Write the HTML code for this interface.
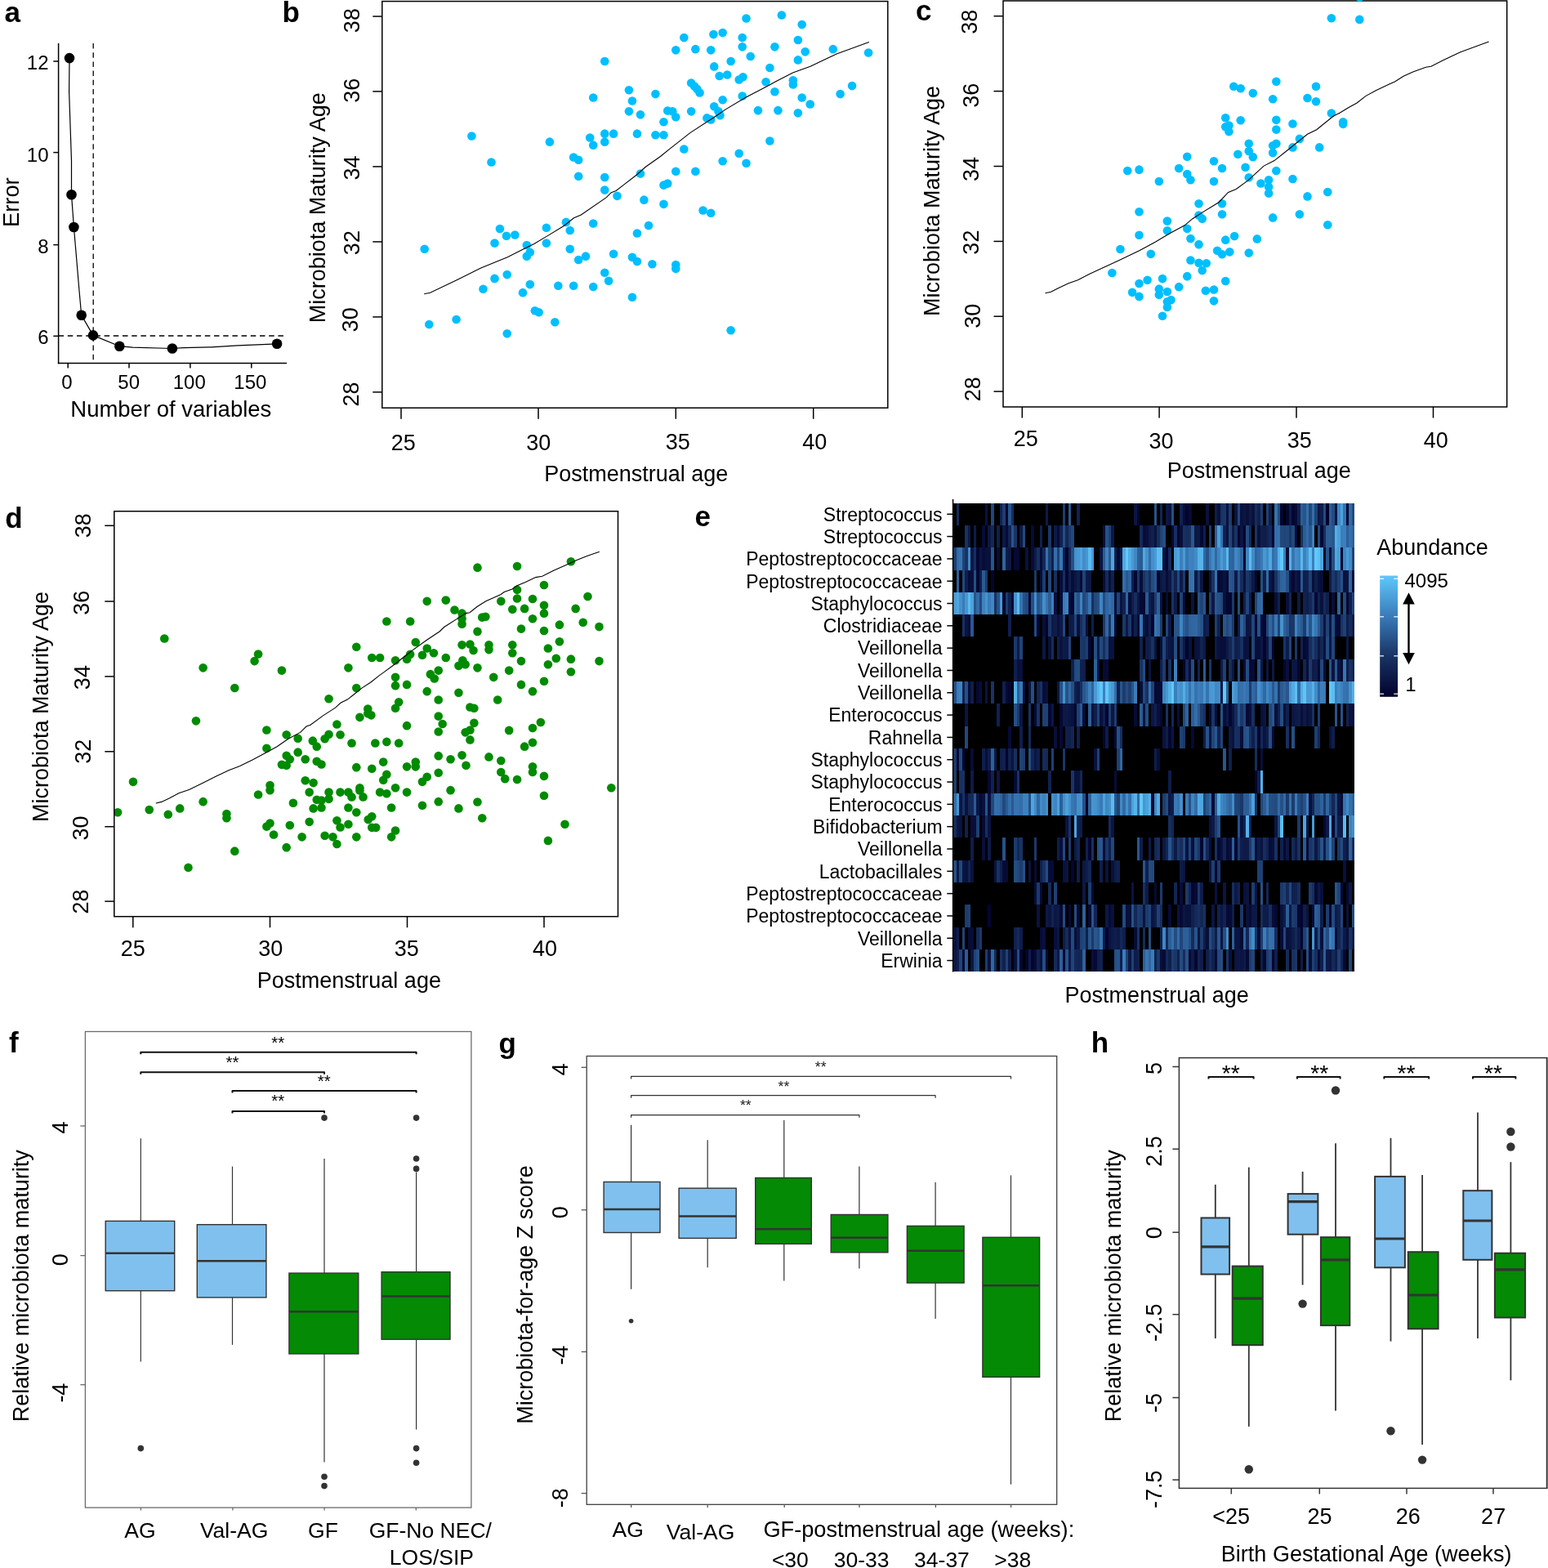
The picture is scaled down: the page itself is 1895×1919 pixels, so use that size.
<!DOCTYPE html>
<html><head><meta charset="utf-8"><title>Figure</title><style>html,body{margin:0;padding:0;background:#fff;}svg{display:block;}text{font-family:"Liberation Sans",Arial,sans-serif;}</style></head><body>
<svg xmlns="http://www.w3.org/2000/svg" width="1895" height="1919" viewBox="0 0 1895 1919">
<rect width="100%" height="100%" fill="#fff"/>
<text x="5.48" y="26.68" font-size="35" font-weight="bold">a</text>
<text x="345.39" y="27.46" font-size="35" font-weight="bold">b</text>
<text x="1120.92" y="24.93" font-size="35" font-weight="bold">c</text>
<text x="6.31" y="645.81" font-size="35" font-weight="bold">d</text>
<text x="850.41" y="644.18" font-size="35" font-weight="bold">e</text>
<text x="10.93" y="1287.64" font-size="35" font-weight="bold">f</text>
<text x="610.51" y="1288.69" font-size="35" font-weight="bold">g</text>
<text x="1335.85" y="1287.99" font-size="35" font-weight="bold">h</text>
<line x1="71.6" y1="53" x2="71.6" y2="445.2" stroke="#000" stroke-width="1.5"/>
<line x1="70.85" y1="444.5" x2="351" y2="444.5" stroke="#000" stroke-width="1.5"/>
<line x1="65.3" y1="75" x2="71.6" y2="75" stroke="#000" stroke-width="1.5"/>
<text x="59.5" y="84.72" font-size="24" text-anchor="end">12</text>
<line x1="65.3" y1="186.6" x2="71.6" y2="186.6" stroke="#000" stroke-width="1.5"/>
<text x="59.5" y="197.97" font-size="24" text-anchor="end">10</text>
<line x1="65.3" y1="299.6" x2="71.6" y2="299.6" stroke="#000" stroke-width="1.5"/>
<text x="59.5" y="309.72" font-size="24" text-anchor="end">8</text>
<line x1="65.3" y1="411.3" x2="71.6" y2="411.3" stroke="#000" stroke-width="1.5"/>
<text x="59.5" y="421.27" font-size="24" text-anchor="end">6</text>
<line x1="83.2" y1="444.5" x2="83.2" y2="450.5" stroke="#000" stroke-width="1.5"/>
<text x="75.21" y="475.65" font-size="24">0</text>
<line x1="158" y1="444.5" x2="158" y2="450.5" stroke="#000" stroke-width="1.5"/>
<text x="144.35" y="475.65" font-size="24">50</text>
<line x1="232.9" y1="444.5" x2="232.9" y2="450.5" stroke="#000" stroke-width="1.5"/>
<text x="211.74" y="475.65" font-size="24">100</text>
<line x1="307.8" y1="444.5" x2="307.8" y2="450.5" stroke="#000" stroke-width="1.5"/>
<text x="286.34" y="475.65" font-size="24">150</text>
<text x="86.27" y="509.8" font-size="27.5">Number of variables</text>
<text x="23" y="278.01" font-size="27.3" transform="rotate(-90 23 278.01)">Error</text>
<line x1="114.2" y1="53" x2="114.2" y2="444" stroke="#000" stroke-width="1.3" stroke-dasharray="6.5 4.7"/>
<line x1="71.6" y1="411" x2="351" y2="411" stroke="#000" stroke-width="1.3" stroke-dasharray="6.5 4.7"/>
<polyline points="85,71.1 84.6,112.2 87.5,196.8 87.5,238.3 90.4,278 97.3,359.2 99.7,385.7 114,410.4 146.3,423.7 162.4,425.2 210.9,426.5 224.2,425.6 258.4,424.8 290.7,422.9 339.1,420.8" fill="none" stroke="#000" stroke-width="1.2"/>
<circle cx="85" cy="71.1" r="6.3" fill="#000"/>
<circle cx="87.5" cy="238.3" r="6.3" fill="#000"/>
<circle cx="90.4" cy="278" r="6.3" fill="#000"/>
<circle cx="99.7" cy="385.7" r="6.3" fill="#000"/>
<circle cx="114" cy="410.4" r="6.3" fill="#000"/>
<circle cx="146.3" cy="423.7" r="6.3" fill="#000"/>
<circle cx="210.9" cy="426.5" r="6.3" fill="#000"/>
<circle cx="339.1" cy="420.8" r="6.3" fill="#000"/>
<line x1="491" y1="499.2" x2="491" y2="512.7" stroke="#000" stroke-width="1.5"/>
<line x1="659" y1="499.2" x2="659" y2="512.7" stroke="#000" stroke-width="1.5"/>
<line x1="827.3" y1="499.2" x2="827.3" y2="512.7" stroke="#000" stroke-width="1.5"/>
<line x1="995.7" y1="499.2" x2="995.7" y2="512.7" stroke="#000" stroke-width="1.5"/>
<line x1="456.3" y1="20.05" x2="467.8" y2="20.05" stroke="#000" stroke-width="1.5"/>
<line x1="456.3" y1="111.9" x2="467.8" y2="111.9" stroke="#000" stroke-width="1.5"/>
<line x1="456.3" y1="203.9" x2="467.8" y2="203.9" stroke="#000" stroke-width="1.5"/>
<line x1="456.3" y1="295.9" x2="467.8" y2="295.9" stroke="#000" stroke-width="1.5"/>
<line x1="456.3" y1="387.9" x2="467.8" y2="387.9" stroke="#000" stroke-width="1.5"/>
<line x1="456.3" y1="479.9" x2="467.8" y2="479.9" stroke="#000" stroke-width="1.5"/>
<text x="478.63" y="550.63" font-size="27">25</text>
<text x="644.31" y="550.63" font-size="27">30</text>
<text x="814.7" y="550.23" font-size="27">35</text>
<text x="982.17" y="550.23" font-size="27">40</text>
<text x="440.48" y="40.12" font-size="27" transform="rotate(-90 440.48 40.12)">38</text>
<text x="439.88" y="125.82" font-size="27" transform="rotate(-90 439.88 125.82)">36</text>
<text x="440.48" y="220.52" font-size="27" transform="rotate(-90 440.48 220.52)">34</text>
<text x="440.48" y="312.12" font-size="27" transform="rotate(-90 440.48 312.12)">32</text>
<text x="437.68" y="406.38" font-size="27" transform="rotate(-90 437.68 406.38)">30</text>
<text x="439.48" y="497.39" font-size="27" transform="rotate(-90 439.48 497.39)">28</text>
<text x="666.15" y="588.7" font-size="27">Postmenstrual age</text>
<text x="397.8" y="395.28" font-size="27" transform="rotate(-90 397.8 395.28)">Microbiota Maturity Age</text>
<clipPath id="cb"><rect x="467.8" y="1.6" width="619" height="497.6"/></clipPath>
<g clip-path="url(#cb)">
<circle cx="519.67" cy="304.8" r="5.3" fill="#00BFFF"/>
<circle cx="525.29" cy="397.05" r="5.3" fill="#00BFFF"/>
<circle cx="558.58" cy="391.03" r="5.3" fill="#00BFFF"/>
<circle cx="577.43" cy="166.44" r="5.3" fill="#00BFFF"/>
<circle cx="591.46" cy="353.73" r="5.3" fill="#00BFFF"/>
<circle cx="601.49" cy="198.52" r="5.3" fill="#00BFFF"/>
<circle cx="605.5" cy="297.59" r="5.3" fill="#00BFFF"/>
<circle cx="605.5" cy="340.9" r="5.3" fill="#00BFFF"/>
<circle cx="611.92" cy="279.94" r="5.3" fill="#00BFFF"/>
<circle cx="619.94" cy="288.76" r="5.3" fill="#00BFFF"/>
<circle cx="620.74" cy="336.09" r="5.3" fill="#00BFFF"/>
<circle cx="620.74" cy="408.28" r="5.3" fill="#00BFFF"/>
<circle cx="630.37" cy="287.56" r="5.3" fill="#00BFFF"/>
<circle cx="639.99" cy="358.15" r="5.3" fill="#00BFFF"/>
<circle cx="644.8" cy="299.99" r="5.3" fill="#00BFFF"/>
<circle cx="644.8" cy="313.63" r="5.3" fill="#00BFFF"/>
<circle cx="648.82" cy="308.82" r="5.3" fill="#00BFFF"/>
<circle cx="648.82" cy="348.12" r="5.3" fill="#00BFFF"/>
<circle cx="654.83" cy="380.2" r="5.3" fill="#00BFFF"/>
<circle cx="659.64" cy="382.21" r="5.3" fill="#00BFFF"/>
<circle cx="668.87" cy="278.74" r="5.3" fill="#00BFFF"/>
<circle cx="668.87" cy="297.59" r="5.3" fill="#00BFFF"/>
<circle cx="672.88" cy="173.66" r="5.3" fill="#00BFFF"/>
<circle cx="679.3" cy="394.24" r="5.3" fill="#00BFFF"/>
<circle cx="683.31" cy="349.72" r="5.3" fill="#00BFFF"/>
<circle cx="692.93" cy="271.92" r="5.3" fill="#00BFFF"/>
<circle cx="697.74" cy="281.94" r="5.3" fill="#00BFFF"/>
<circle cx="697.74" cy="304.8" r="5.3" fill="#00BFFF"/>
<circle cx="702.16" cy="192.51" r="5.3" fill="#00BFFF"/>
<circle cx="702.16" cy="349.72" r="5.3" fill="#00BFFF"/>
<circle cx="708.17" cy="195.72" r="5.3" fill="#00BFFF"/>
<circle cx="708.17" cy="215.77" r="5.3" fill="#00BFFF"/>
<circle cx="708.17" cy="318.04" r="5.3" fill="#00BFFF"/>
<circle cx="717" cy="313.63" r="5.3" fill="#00BFFF"/>
<circle cx="722.21" cy="168.44" r="5.3" fill="#00BFFF"/>
<circle cx="726.22" cy="119.52" r="5.3" fill="#00BFFF"/>
<circle cx="726.22" cy="177.67" r="5.3" fill="#00BFFF"/>
<circle cx="726.22" cy="273.52" r="5.3" fill="#00BFFF"/>
<circle cx="726.22" cy="350.93" r="5.3" fill="#00BFFF"/>
<circle cx="740.26" cy="75" r="5.3" fill="#00BFFF"/>
<circle cx="740.26" cy="163.63" r="5.3" fill="#00BFFF"/>
<circle cx="740.26" cy="173.66" r="5.3" fill="#00BFFF"/>
<circle cx="740.26" cy="216.97" r="5.3" fill="#00BFFF"/>
<circle cx="740.26" cy="232.61" r="5.3" fill="#00BFFF"/>
<circle cx="740.26" cy="333.68" r="5.3" fill="#00BFFF"/>
<circle cx="745.07" cy="343.71" r="5.3" fill="#00BFFF"/>
<circle cx="751.09" cy="163.63" r="5.3" fill="#00BFFF"/>
<circle cx="751.09" cy="310.82" r="5.3" fill="#00BFFF"/>
<circle cx="755.5" cy="239.83" r="5.3" fill="#00BFFF"/>
<circle cx="769.94" cy="110.29" r="5.3" fill="#00BFFF"/>
<circle cx="769.94" cy="136.36" r="5.3" fill="#00BFFF"/>
<circle cx="773.95" cy="123.53" r="5.3" fill="#00BFFF"/>
<circle cx="773.95" cy="314.83" r="5.3" fill="#00BFFF"/>
<circle cx="773.95" cy="363.76" r="5.3" fill="#00BFFF"/>
<circle cx="779.96" cy="163.63" r="5.3" fill="#00BFFF"/>
<circle cx="779.96" cy="285.55" r="5.3" fill="#00BFFF"/>
<circle cx="779.96" cy="320.04" r="5.3" fill="#00BFFF"/>
<circle cx="783.97" cy="140.37" r="5.3" fill="#00BFFF"/>
<circle cx="783.97" cy="212.56" r="5.3" fill="#00BFFF"/>
<circle cx="788.38" cy="244.65" r="5.3" fill="#00BFFF"/>
<circle cx="794" cy="275.93" r="5.3" fill="#00BFFF"/>
<circle cx="798.41" cy="323.25" r="5.3" fill="#00BFFF"/>
<circle cx="802.42" cy="115.1" r="5.3" fill="#00BFFF"/>
<circle cx="802.42" cy="165.24" r="5.3" fill="#00BFFF"/>
<circle cx="812.45" cy="149.19" r="5.3" fill="#00BFFF"/>
<circle cx="812.45" cy="165.24" r="5.3" fill="#00BFFF"/>
<circle cx="812.45" cy="226.6" r="5.3" fill="#00BFFF"/>
<circle cx="812.45" cy="249.86" r="5.3" fill="#00BFFF"/>
<circle cx="817.26" cy="135.56" r="5.3" fill="#00BFFF"/>
<circle cx="817.26" cy="224.59" r="5.3" fill="#00BFFF"/>
<circle cx="823.28" cy="136.36" r="5.3" fill="#00BFFF"/>
<circle cx="827.29" cy="61.36" r="5.3" fill="#00BFFF"/>
<circle cx="827.29" cy="143.18" r="5.3" fill="#00BFFF"/>
<circle cx="827.29" cy="209.75" r="5.3" fill="#00BFFF"/>
<circle cx="827.29" cy="324.06" r="5.3" fill="#00BFFF"/>
<circle cx="827.29" cy="328.87" r="5.3" fill="#00BFFF"/>
<circle cx="837.31" cy="46.12" r="5.3" fill="#00BFFF"/>
<circle cx="837.31" cy="182.48" r="5.3" fill="#00BFFF"/>
<circle cx="846.14" cy="101.47" r="5.3" fill="#00BFFF"/>
<circle cx="846.14" cy="136.36" r="5.3" fill="#00BFFF"/>
<circle cx="850.15" cy="105.48" r="5.3" fill="#00BFFF"/>
<circle cx="851.35" cy="60.16" r="5.3" fill="#00BFFF"/>
<circle cx="851.35" cy="209.75" r="5.3" fill="#00BFFF"/>
<circle cx="853.36" cy="109.09" r="5.3" fill="#00BFFF"/>
<circle cx="856.56" cy="113.5" r="5.3" fill="#00BFFF"/>
<circle cx="860.57" cy="257.48" r="5.3" fill="#00BFFF"/>
<circle cx="865.39" cy="144.38" r="5.3" fill="#00BFFF"/>
<circle cx="870.2" cy="61.36" r="5.3" fill="#00BFFF"/>
<circle cx="870.2" cy="146.39" r="5.3" fill="#00BFFF"/>
<circle cx="870.2" cy="260.69" r="5.3" fill="#00BFFF"/>
<circle cx="873.41" cy="42.11" r="5.3" fill="#00BFFF"/>
<circle cx="874.21" cy="81.41" r="5.3" fill="#00BFFF"/>
<circle cx="874.21" cy="130.34" r="5.3" fill="#00BFFF"/>
<circle cx="879.42" cy="136.36" r="5.3" fill="#00BFFF"/>
<circle cx="880.63" cy="93.05" r="5.3" fill="#00BFFF"/>
<circle cx="881.43" cy="141.17" r="5.3" fill="#00BFFF"/>
<circle cx="884.64" cy="40.11" r="5.3" fill="#00BFFF"/>
<circle cx="884.64" cy="122.32" r="5.3" fill="#00BFFF"/>
<circle cx="884.64" cy="197.32" r="5.3" fill="#00BFFF"/>
<circle cx="890.25" cy="91.44" r="5.3" fill="#00BFFF"/>
<circle cx="894.66" cy="75" r="5.3" fill="#00BFFF"/>
<circle cx="894.66" cy="404.27" r="5.3" fill="#00BFFF"/>
<circle cx="904.69" cy="187.7" r="5.3" fill="#00BFFF"/>
<circle cx="904.69" cy="97.46" r="5.3" fill="#00BFFF"/>
<circle cx="908.7" cy="46.12" r="5.3" fill="#00BFFF"/>
<circle cx="908.7" cy="57.35" r="5.3" fill="#00BFFF"/>
<circle cx="908.7" cy="117.51" r="5.3" fill="#00BFFF"/>
<circle cx="909.5" cy="94.25" r="5.3" fill="#00BFFF"/>
<circle cx="913.51" cy="22.46" r="5.3" fill="#00BFFF"/>
<circle cx="913.51" cy="199.73" r="5.3" fill="#00BFFF"/>
<circle cx="918.73" cy="68.98" r="5.3" fill="#00BFFF"/>
<circle cx="927.95" cy="135.16" r="5.3" fill="#00BFFF"/>
<circle cx="937.58" cy="100.26" r="5.3" fill="#00BFFF"/>
<circle cx="942.39" cy="83.02" r="5.3" fill="#00BFFF"/>
<circle cx="942.39" cy="172.46" r="5.3" fill="#00BFFF"/>
<circle cx="948.41" cy="57.35" r="5.3" fill="#00BFFF"/>
<circle cx="948.41" cy="112.3" r="5.3" fill="#00BFFF"/>
<circle cx="952.42" cy="135.16" r="5.3" fill="#00BFFF"/>
<circle cx="956.83" cy="18.45" r="5.3" fill="#00BFFF"/>
<circle cx="970.87" cy="98.26" r="5.3" fill="#00BFFF"/>
<circle cx="970.87" cy="103.47" r="5.3" fill="#00BFFF"/>
<circle cx="976.88" cy="48.93" r="5.3" fill="#00BFFF"/>
<circle cx="976.88" cy="73.39" r="5.3" fill="#00BFFF"/>
<circle cx="976.88" cy="138.37" r="5.3" fill="#00BFFF"/>
<circle cx="981.69" cy="30.08" r="5.3" fill="#00BFFF"/>
<circle cx="981.69" cy="119.52" r="5.3" fill="#00BFFF"/>
<circle cx="985.7" cy="63.37" r="5.3" fill="#00BFFF"/>
<circle cx="991.72" cy="127.54" r="5.3" fill="#00BFFF"/>
<circle cx="1019.79" cy="60.16" r="5.3" fill="#00BFFF"/>
<circle cx="1028.62" cy="115.1" r="5.3" fill="#00BFFF"/>
<circle cx="1043.06" cy="105.08" r="5.3" fill="#00BFFF"/>
<circle cx="1063.11" cy="64.57" r="5.3" fill="#00BFFF"/>
</g>
<polyline points="519.2,359.8 526.6,358.3 559.1,342.8 588.7,328 621.2,314.7 640.4,305.1 653.7,298.5 669.9,288.9 690.6,276.3 702.4,266.7 711.3,263 742.3,241.6 748.2,235.7 754.1,233.5 780,213.5 790,204.5 808.4,191.5 820.6,181.6 845.1,162.4 875.7,142.5 887.9,134.1 912.4,119.6 943,103.5 949.2,100.1 970.6,89 992,81.3 1024.1,66 1063.9,51.5" fill="none" stroke="#000" stroke-width="1.1"/>
<rect x="467.8" y="1.6" width="619" height="497.6" fill="none" stroke="#000" stroke-width="1.5"/>
<line x1="1251.3" y1="498" x2="1251.3" y2="511.5" stroke="#000" stroke-width="1.5"/>
<line x1="1419.1" y1="498" x2="1419.1" y2="511.5" stroke="#000" stroke-width="1.5"/>
<line x1="1587" y1="498" x2="1587" y2="511.5" stroke="#000" stroke-width="1.5"/>
<line x1="1754.5" y1="498" x2="1754.5" y2="511.5" stroke="#000" stroke-width="1.5"/>
<line x1="1216.5" y1="19.7" x2="1228" y2="19.7" stroke="#000" stroke-width="1.5"/>
<line x1="1216.5" y1="111.6" x2="1228" y2="111.6" stroke="#000" stroke-width="1.5"/>
<line x1="1216.5" y1="203.5" x2="1228" y2="203.5" stroke="#000" stroke-width="1.5"/>
<line x1="1216.5" y1="295.4" x2="1228" y2="295.4" stroke="#000" stroke-width="1.5"/>
<line x1="1216.5" y1="387.2" x2="1228" y2="387.2" stroke="#000" stroke-width="1.5"/>
<line x1="1216.5" y1="479.1" x2="1228" y2="479.1" stroke="#000" stroke-width="1.5"/>
<text x="1240.78" y="546.38" font-size="27">25</text>
<text x="1406.42" y="549.38" font-size="27">30</text>
<text x="1575.85" y="547.88" font-size="27">35</text>
<text x="1742.72" y="547.88" font-size="27">40</text>
<text x="1195.78" y="41.72" font-size="27" transform="rotate(-90 1195.78 41.72)">38</text>
<text x="1198.28" y="131.72" font-size="27" transform="rotate(-90 1198.28 131.72)">36</text>
<text x="1198.28" y="221.92" font-size="27" transform="rotate(-90 1198.28 221.92)">34</text>
<text x="1198.28" y="311.62" font-size="27" transform="rotate(-90 1198.28 311.62)">32</text>
<text x="1200.38" y="401.79" font-size="27" transform="rotate(-90 1200.38 401.79)">30</text>
<text x="1200.48" y="491.19" font-size="27" transform="rotate(-90 1200.48 491.19)">28</text>
<text x="1428.7" y="585.1" font-size="27">Postmenstrual age</text>
<text x="1150.3" y="386.98" font-size="27" transform="rotate(-90 1150.3 386.98)">Microbiota Maturity Age</text>
<clipPath id="cc"><rect x="1228" y="1" width="616.7" height="497"/></clipPath>
<g clip-path="url(#cc)">
<circle cx="1361.37" cy="333.95" r="5.3" fill="#00BFFF"/>
<circle cx="1371.44" cy="305" r="5.3" fill="#00BFFF"/>
<circle cx="1380.25" cy="208.93" r="5.3" fill="#00BFFF"/>
<circle cx="1386.12" cy="357.86" r="5.3" fill="#00BFFF"/>
<circle cx="1394.51" cy="207.67" r="5.3" fill="#00BFFF"/>
<circle cx="1394.51" cy="259.27" r="5.3" fill="#00BFFF"/>
<circle cx="1394.51" cy="287.8" r="5.3" fill="#00BFFF"/>
<circle cx="1394.51" cy="346.95" r="5.3" fill="#00BFFF"/>
<circle cx="1394.51" cy="362.9" r="5.3" fill="#00BFFF"/>
<circle cx="1404.58" cy="342.76" r="5.3" fill="#00BFFF"/>
<circle cx="1408.78" cy="310.87" r="5.3" fill="#00BFFF"/>
<circle cx="1418.85" cy="221.93" r="5.3" fill="#00BFFF"/>
<circle cx="1418.85" cy="353.67" r="5.3" fill="#00BFFF"/>
<circle cx="1418.85" cy="360.8" r="5.3" fill="#00BFFF"/>
<circle cx="1423.04" cy="341.08" r="5.3" fill="#00BFFF"/>
<circle cx="1423.04" cy="386.81" r="5.3" fill="#00BFFF"/>
<circle cx="1428.91" cy="270.6" r="5.3" fill="#00BFFF"/>
<circle cx="1428.91" cy="282.35" r="5.3" fill="#00BFFF"/>
<circle cx="1428.91" cy="357.02" r="5.3" fill="#00BFFF"/>
<circle cx="1428.91" cy="369.19" r="5.3" fill="#00BFFF"/>
<circle cx="1428.91" cy="375.9" r="5.3" fill="#00BFFF"/>
<circle cx="1433.53" cy="367.09" r="5.3" fill="#00BFFF"/>
<circle cx="1443.18" cy="205.99" r="5.3" fill="#00BFFF"/>
<circle cx="1443.18" cy="351.15" r="5.3" fill="#00BFFF"/>
<circle cx="1453.25" cy="191.73" r="5.3" fill="#00BFFF"/>
<circle cx="1453.25" cy="213.12" r="5.3" fill="#00BFFF"/>
<circle cx="1453.25" cy="279.83" r="5.3" fill="#00BFFF"/>
<circle cx="1453.25" cy="338.14" r="5.3" fill="#00BFFF"/>
<circle cx="1457.44" cy="220.26" r="5.3" fill="#00BFFF"/>
<circle cx="1457.44" cy="292" r="5.3" fill="#00BFFF"/>
<circle cx="1457.44" cy="318.43" r="5.3" fill="#00BFFF"/>
<circle cx="1467.51" cy="249.2" r="5.3" fill="#00BFFF"/>
<circle cx="1467.51" cy="263.47" r="5.3" fill="#00BFFF"/>
<circle cx="1467.51" cy="299.13" r="5.3" fill="#00BFFF"/>
<circle cx="1467.51" cy="321.78" r="5.3" fill="#00BFFF"/>
<circle cx="1471.71" cy="267.66" r="5.3" fill="#00BFFF"/>
<circle cx="1471.71" cy="331.01" r="5.3" fill="#00BFFF"/>
<circle cx="1475.9" cy="355.76" r="5.3" fill="#00BFFF"/>
<circle cx="1476.74" cy="322.2" r="5.3" fill="#00BFFF"/>
<circle cx="1485.97" cy="197.18" r="5.3" fill="#00BFFF"/>
<circle cx="1485.97" cy="221.93" r="5.3" fill="#00BFFF"/>
<circle cx="1485.97" cy="354.51" r="5.3" fill="#00BFFF"/>
<circle cx="1485.97" cy="368.35" r="5.3" fill="#00BFFF"/>
<circle cx="1490.17" cy="306.68" r="5.3" fill="#00BFFF"/>
<circle cx="1496.04" cy="205.99" r="5.3" fill="#00BFFF"/>
<circle cx="1496.04" cy="249.2" r="5.3" fill="#00BFFF"/>
<circle cx="1496.04" cy="262.21" r="5.3" fill="#00BFFF"/>
<circle cx="1496.04" cy="311.29" r="5.3" fill="#00BFFF"/>
<circle cx="1500.23" cy="144.32" r="5.3" fill="#00BFFF"/>
<circle cx="1500.23" cy="155.23" r="5.3" fill="#00BFFF"/>
<circle cx="1500.23" cy="293.67" r="5.3" fill="#00BFFF"/>
<circle cx="1500.23" cy="344.02" r="5.3" fill="#00BFFF"/>
<circle cx="1504.43" cy="153.55" r="5.3" fill="#00BFFF"/>
<circle cx="1504.43" cy="161.1" r="5.3" fill="#00BFFF"/>
<circle cx="1505.27" cy="308.36" r="5.3" fill="#00BFFF"/>
<circle cx="1510.3" cy="105.72" r="5.3" fill="#00BFFF"/>
<circle cx="1511.14" cy="289.06" r="5.3" fill="#00BFFF"/>
<circle cx="1515.34" cy="188.79" r="5.3" fill="#00BFFF"/>
<circle cx="1518.69" cy="108.24" r="5.3" fill="#00BFFF"/>
<circle cx="1518.69" cy="147.26" r="5.3" fill="#00BFFF"/>
<circle cx="1524.57" cy="204.73" r="5.3" fill="#00BFFF"/>
<circle cx="1528.76" cy="175.78" r="5.3" fill="#00BFFF"/>
<circle cx="1528.76" cy="185.01" r="5.3" fill="#00BFFF"/>
<circle cx="1528.76" cy="217.32" r="5.3" fill="#00BFFF"/>
<circle cx="1528.76" cy="309.62" r="5.3" fill="#00BFFF"/>
<circle cx="1533.8" cy="114.11" r="5.3" fill="#00BFFF"/>
<circle cx="1533.8" cy="192.15" r="5.3" fill="#00BFFF"/>
<circle cx="1538.83" cy="292.41" r="5.3" fill="#00BFFF"/>
<circle cx="1543.45" cy="224.45" r="5.3" fill="#00BFFF"/>
<circle cx="1553.1" cy="220.26" r="5.3" fill="#00BFFF"/>
<circle cx="1553.1" cy="228.65" r="5.3" fill="#00BFFF"/>
<circle cx="1553.1" cy="236.62" r="5.3" fill="#00BFFF"/>
<circle cx="1558.13" cy="121.25" r="5.3" fill="#00BFFF"/>
<circle cx="1558.13" cy="178.3" r="5.3" fill="#00BFFF"/>
<circle cx="1558.13" cy="187.11" r="5.3" fill="#00BFFF"/>
<circle cx="1558.13" cy="266.4" r="5.3" fill="#00BFFF"/>
<circle cx="1562.33" cy="99.85" r="5.3" fill="#00BFFF"/>
<circle cx="1562.33" cy="146.84" r="5.3" fill="#00BFFF"/>
<circle cx="1562.33" cy="158.58" r="5.3" fill="#00BFFF"/>
<circle cx="1562.33" cy="175.78" r="5.3" fill="#00BFFF"/>
<circle cx="1562.33" cy="208.93" r="5.3" fill="#00BFFF"/>
<circle cx="1582.46" cy="151.45" r="5.3" fill="#00BFFF"/>
<circle cx="1582.46" cy="180.4" r="5.3" fill="#00BFFF"/>
<circle cx="1582.46" cy="219" r="5.3" fill="#00BFFF"/>
<circle cx="1590.85" cy="169.91" r="5.3" fill="#00BFFF"/>
<circle cx="1590.85" cy="262.21" r="5.3" fill="#00BFFF"/>
<circle cx="1600.5" cy="119.99" r="5.3" fill="#00BFFF"/>
<circle cx="1600.5" cy="240.39" r="5.3" fill="#00BFFF"/>
<circle cx="1610.99" cy="105.72" r="5.3" fill="#00BFFF"/>
<circle cx="1610.99" cy="124.18" r="5.3" fill="#00BFFF"/>
<circle cx="1615.19" cy="180.4" r="5.3" fill="#00BFFF"/>
<circle cx="1625.26" cy="234.94" r="5.3" fill="#00BFFF"/>
<circle cx="1625.26" cy="275.21" r="5.3" fill="#00BFFF"/>
<circle cx="1629.87" cy="22.24" r="5.3" fill="#00BFFF"/>
<circle cx="1629.87" cy="138.45" r="5.3" fill="#00BFFF"/>
<circle cx="1644.13" cy="149.35" r="5.3" fill="#00BFFF"/>
<circle cx="1644.13" cy="151.87" r="5.3" fill="#00BFFF"/>
<circle cx="1664.27" cy="23.91" r="5.3" fill="#00BFFF"/>
</g>
<polyline points="1279.5,358.8 1286.5,357.3 1295.3,352.8 1308,346.8 1319.4,342.7 1333.3,335.4 1351.7,326.9 1370.7,318.3 1390,309.1 1395.2,306.5 1414.6,296 1430.8,286.3 1450.2,275.8 1459.9,267.7 1471.2,260.4 1492.2,247.5 1503.5,235.4 1513.2,231.4 1527.7,220.9 1547.1,203.1 1560,196.6 1576.2,183.7 1584.2,177.2 1600.4,164.3 1611.7,158.7 1632.7,141.7 1640,138.3 1650.6,131.8 1661.1,126 1671.7,117.6 1684.3,110.7 1701.2,102.8 1707.5,99.9 1718.1,93.3 1729.7,88 1745.5,82.2 1751.9,81.2 1766.6,73.8 1787.8,63.8 1808.9,55.9 1822.6,51.1" fill="none" stroke="#000" stroke-width="1.1"/>
<rect x="1228" y="1" width="616.7" height="497" fill="none" stroke="#000" stroke-width="1.5"/>
<circle cx="1664.4" cy="-3.6" r="5.3" fill="#00BFFF"/>
<line x1="162.8" y1="1121.7" x2="162.8" y2="1135.2" stroke="#000" stroke-width="1.5"/>
<line x1="330.5" y1="1121.7" x2="330.5" y2="1135.2" stroke="#000" stroke-width="1.5"/>
<line x1="498.5" y1="1121.7" x2="498.5" y2="1135.2" stroke="#000" stroke-width="1.5"/>
<line x1="666" y1="1121.7" x2="666" y2="1135.2" stroke="#000" stroke-width="1.5"/>
<line x1="128.3" y1="643.3" x2="139.8" y2="643.3" stroke="#000" stroke-width="1.5"/>
<line x1="128.3" y1="736" x2="139.8" y2="736" stroke="#000" stroke-width="1.5"/>
<line x1="128.3" y1="827.9" x2="139.8" y2="827.9" stroke="#000" stroke-width="1.5"/>
<line x1="128.3" y1="919.8" x2="139.8" y2="919.8" stroke="#000" stroke-width="1.5"/>
<line x1="128.3" y1="1011.7" x2="139.8" y2="1011.7" stroke="#000" stroke-width="1.5"/>
<line x1="128.3" y1="1103.1" x2="139.8" y2="1103.1" stroke="#000" stroke-width="1.5"/>
<text x="147.73" y="1170.48" font-size="27">25</text>
<text x="316.31" y="1169.88" font-size="27">30</text>
<text x="482.65" y="1169.88" font-size="27">35</text>
<text x="652.02" y="1169.88" font-size="27">40</text>
<text x="111.13" y="658.32" font-size="27" transform="rotate(-90 111.13 658.32)">38</text>
<text x="108.58" y="752.82" font-size="27" transform="rotate(-90 108.58 752.82)">36</text>
<text x="109.73" y="844.12" font-size="27" transform="rotate(-90 109.73 844.12)">34</text>
<text x="111.13" y="934.72" font-size="27" transform="rotate(-90 111.13 934.72)">32</text>
<text x="108.03" y="1028.59" font-size="27" transform="rotate(-90 108.03 1028.59)">30</text>
<text x="108.03" y="1118.49" font-size="27" transform="rotate(-90 108.03 1118.49)">28</text>
<text x="314.8" y="1209" font-size="27">Postmenstrual age</text>
<text x="59.2" y="1006.08" font-size="27" transform="rotate(-90 59.2 1006.08)">Microbiota Maturity Age</text>
<clipPath id="cd"><rect x="139.8" y="625.7" width="616.7" height="496"/></clipPath>
<g clip-path="url(#cd)">
<circle cx="144.06" cy="994.32" r="5.3" fill="#008B00"/>
<circle cx="163" cy="956.86" r="5.3" fill="#008B00"/>
<circle cx="182.75" cy="991.03" r="5.3" fill="#008B00"/>
<circle cx="201.28" cy="781.52" r="5.3" fill="#008B00"/>
<circle cx="205.8" cy="996.79" r="5.3" fill="#008B00"/>
<circle cx="220.21" cy="989.38" r="5.3" fill="#008B00"/>
<circle cx="230.5" cy="1061.82" r="5.3" fill="#008B00"/>
<circle cx="239.97" cy="882.36" r="5.3" fill="#008B00"/>
<circle cx="248.61" cy="817.33" r="5.3" fill="#008B00"/>
<circle cx="248.61" cy="981.15" r="5.3" fill="#008B00"/>
<circle cx="277.42" cy="995.97" r="5.3" fill="#008B00"/>
<circle cx="277.42" cy="1001.32" r="5.3" fill="#008B00"/>
<circle cx="287.3" cy="842.03" r="5.3" fill="#008B00"/>
<circle cx="287.3" cy="1041.65" r="5.3" fill="#008B00"/>
<circle cx="311.59" cy="809.1" r="5.3" fill="#008B00"/>
<circle cx="316.11" cy="800.45" r="5.3" fill="#008B00"/>
<circle cx="316.11" cy="972.5" r="5.3" fill="#008B00"/>
<circle cx="326.4" cy="893.48" r="5.3" fill="#008B00"/>
<circle cx="326.4" cy="915.7" r="5.3" fill="#008B00"/>
<circle cx="326.4" cy="1011.61" r="5.3" fill="#008B00"/>
<circle cx="330.52" cy="960.98" r="5.3" fill="#008B00"/>
<circle cx="330.52" cy="967.15" r="5.3" fill="#008B00"/>
<circle cx="330.52" cy="1007.49" r="5.3" fill="#008B00"/>
<circle cx="335.05" cy="1021.49" r="5.3" fill="#008B00"/>
<circle cx="344.93" cy="820.62" r="5.3" fill="#008B00"/>
<circle cx="344.93" cy="935.87" r="5.3" fill="#008B00"/>
<circle cx="350.69" cy="899.24" r="5.3" fill="#008B00"/>
<circle cx="350.69" cy="924.76" r="5.3" fill="#008B00"/>
<circle cx="350.69" cy="936.69" r="5.3" fill="#008B00"/>
<circle cx="350.69" cy="1037.13" r="5.3" fill="#008B00"/>
<circle cx="354.81" cy="929.29" r="5.3" fill="#008B00"/>
<circle cx="354.81" cy="1009.96" r="5.3" fill="#008B00"/>
<circle cx="358.92" cy="982.79" r="5.3" fill="#008B00"/>
<circle cx="364.68" cy="903.77" r="5.3" fill="#008B00"/>
<circle cx="364.68" cy="920.64" r="5.3" fill="#008B00"/>
<circle cx="369.62" cy="1024.37" r="5.3" fill="#008B00"/>
<circle cx="373.74" cy="929.29" r="5.3" fill="#008B00"/>
<circle cx="373.74" cy="955.22" r="5.3" fill="#008B00"/>
<circle cx="378.68" cy="969.62" r="5.3" fill="#008B00"/>
<circle cx="378.68" cy="1005.84" r="5.3" fill="#008B00"/>
<circle cx="382.79" cy="906.65" r="5.3" fill="#008B00"/>
<circle cx="383.62" cy="958.1" r="5.3" fill="#008B00"/>
<circle cx="383.62" cy="989.38" r="5.3" fill="#008B00"/>
<circle cx="387.73" cy="913.64" r="5.3" fill="#008B00"/>
<circle cx="387.73" cy="978.68" r="5.3" fill="#008B00"/>
<circle cx="387.73" cy="931.76" r="5.3" fill="#008B00"/>
<circle cx="393.5" cy="935.46" r="5.3" fill="#008B00"/>
<circle cx="393.5" cy="979.5" r="5.3" fill="#008B00"/>
<circle cx="393.5" cy="988.56" r="5.3" fill="#008B00"/>
<circle cx="397.61" cy="904.18" r="5.3" fill="#008B00"/>
<circle cx="397.61" cy="1022.72" r="5.3" fill="#008B00"/>
<circle cx="402.55" cy="855.2" r="5.3" fill="#008B00"/>
<circle cx="402.55" cy="898.83" r="5.3" fill="#008B00"/>
<circle cx="402.55" cy="969.62" r="5.3" fill="#008B00"/>
<circle cx="402.55" cy="977.86" r="5.3" fill="#008B00"/>
<circle cx="407.49" cy="1024.37" r="5.3" fill="#008B00"/>
<circle cx="412.43" cy="886.48" r="5.3" fill="#008B00"/>
<circle cx="412.43" cy="1004.2" r="5.3" fill="#008B00"/>
<circle cx="412.43" cy="1033.01" r="5.3" fill="#008B00"/>
<circle cx="416.55" cy="899.24" r="5.3" fill="#008B00"/>
<circle cx="416.55" cy="969.62" r="5.3" fill="#008B00"/>
<circle cx="416.55" cy="1012.43" r="5.3" fill="#008B00"/>
<circle cx="426.43" cy="817.33" r="5.3" fill="#008B00"/>
<circle cx="426.43" cy="969.62" r="5.3" fill="#008B00"/>
<circle cx="426.43" cy="988.56" r="5.3" fill="#008B00"/>
<circle cx="426.43" cy="1008.73" r="5.3" fill="#008B00"/>
<circle cx="430.54" cy="909.53" r="5.3" fill="#008B00"/>
<circle cx="430.54" cy="975.39" r="5.3" fill="#008B00"/>
<circle cx="436.3" cy="791.81" r="5.3" fill="#008B00"/>
<circle cx="436.3" cy="842.03" r="5.3" fill="#008B00"/>
<circle cx="436.3" cy="939.16" r="5.3" fill="#008B00"/>
<circle cx="436.3" cy="994.32" r="5.3" fill="#008B00"/>
<circle cx="436.3" cy="1024.37" r="5.3" fill="#008B00"/>
<circle cx="440.42" cy="877.83" r="5.3" fill="#008B00"/>
<circle cx="440.42" cy="964.27" r="5.3" fill="#008B00"/>
<circle cx="440.42" cy="967.57" r="5.3" fill="#008B00"/>
<circle cx="444.54" cy="975.39" r="5.3" fill="#008B00"/>
<circle cx="450.3" cy="867.54" r="5.3" fill="#008B00"/>
<circle cx="450.3" cy="873.31" r="5.3" fill="#008B00"/>
<circle cx="454.41" cy="875.37" r="5.3" fill="#008B00"/>
<circle cx="455.24" cy="1012.84" r="5.3" fill="#008B00"/>
<circle cx="450.71" cy="1002.96" r="5.3" fill="#008B00"/>
<circle cx="455.24" cy="804.98" r="5.3" fill="#008B00"/>
<circle cx="455.24" cy="940.81" r="5.3" fill="#008B00"/>
<circle cx="455.24" cy="999.26" r="5.3" fill="#008B00"/>
<circle cx="459.35" cy="909.53" r="5.3" fill="#008B00"/>
<circle cx="460.18" cy="1012.84" r="5.3" fill="#008B00"/>
<circle cx="465.12" cy="804.98" r="5.3" fill="#008B00"/>
<circle cx="465.12" cy="969.62" r="5.3" fill="#008B00"/>
<circle cx="469.23" cy="932.58" r="5.3" fill="#008B00"/>
<circle cx="469.23" cy="954.81" r="5.3" fill="#008B00"/>
<circle cx="473.35" cy="760.53" r="5.3" fill="#008B00"/>
<circle cx="473.35" cy="907.88" r="5.3" fill="#008B00"/>
<circle cx="473.35" cy="947.81" r="5.3" fill="#008B00"/>
<circle cx="473.35" cy="971.27" r="5.3" fill="#008B00"/>
<circle cx="479.11" cy="988.56" r="5.3" fill="#008B00"/>
<circle cx="479.11" cy="1024.37" r="5.3" fill="#008B00"/>
<circle cx="484.05" cy="808.27" r="5.3" fill="#008B00"/>
<circle cx="484.05" cy="828.85" r="5.3" fill="#008B00"/>
<circle cx="484.05" cy="839.14" r="5.3" fill="#008B00"/>
<circle cx="484.05" cy="866.72" r="5.3" fill="#008B00"/>
<circle cx="484.05" cy="964.27" r="5.3" fill="#008B00"/>
<circle cx="484.05" cy="1016.55" r="5.3" fill="#008B00"/>
<circle cx="488.17" cy="859.31" r="5.3" fill="#008B00"/>
<circle cx="488.17" cy="909.53" r="5.3" fill="#008B00"/>
<circle cx="498.04" cy="806.63" r="5.3" fill="#008B00"/>
<circle cx="498.04" cy="837.91" r="5.3" fill="#008B00"/>
<circle cx="498.04" cy="888.13" r="5.3" fill="#008B00"/>
<circle cx="498.04" cy="938.34" r="5.3" fill="#008B00"/>
<circle cx="498.04" cy="969.62" r="5.3" fill="#008B00"/>
<circle cx="502.16" cy="760.53" r="5.3" fill="#008B00"/>
<circle cx="502.16" cy="800.86" r="5.3" fill="#008B00"/>
<circle cx="508.75" cy="786.05" r="5.3" fill="#008B00"/>
<circle cx="508.75" cy="932.58" r="5.3" fill="#008B00"/>
<circle cx="508.75" cy="938.34" r="5.3" fill="#008B00"/>
<circle cx="516.98" cy="801.69" r="5.3" fill="#008B00"/>
<circle cx="516.98" cy="956.86" r="5.3" fill="#008B00"/>
<circle cx="516.98" cy="985.68" r="5.3" fill="#008B00"/>
<circle cx="522.74" cy="735.83" r="5.3" fill="#008B00"/>
<circle cx="522.74" cy="793.46" r="5.3" fill="#008B00"/>
<circle cx="522.74" cy="846.14" r="5.3" fill="#008B00"/>
<circle cx="522.74" cy="950.69" r="5.3" fill="#008B00"/>
<circle cx="526.86" cy="825.15" r="5.3" fill="#008B00"/>
<circle cx="530.97" cy="799.22" r="5.3" fill="#008B00"/>
<circle cx="531.8" cy="830.5" r="5.3" fill="#008B00"/>
<circle cx="536.74" cy="820.62" r="5.3" fill="#008B00"/>
<circle cx="536.74" cy="856.43" r="5.3" fill="#008B00"/>
<circle cx="536.74" cy="876.6" r="5.3" fill="#008B00"/>
<circle cx="536.74" cy="895.53" r="5.3" fill="#008B00"/>
<circle cx="536.74" cy="925.17" r="5.3" fill="#008B00"/>
<circle cx="536.74" cy="945.75" r="5.3" fill="#008B00"/>
<circle cx="536.74" cy="981.15" r="5.3" fill="#008B00"/>
<circle cx="541.68" cy="886.07" r="5.3" fill="#008B00"/>
<circle cx="545.79" cy="734.6" r="5.3" fill="#008B00"/>
<circle cx="545.79" cy="804.98" r="5.3" fill="#008B00"/>
<circle cx="551.55" cy="929.29" r="5.3" fill="#008B00"/>
<circle cx="551.55" cy="967.15" r="5.3" fill="#008B00"/>
<circle cx="556.49" cy="746.53" r="5.3" fill="#008B00"/>
<circle cx="561.43" cy="814.86" r="5.3" fill="#008B00"/>
<circle cx="561.43" cy="847.79" r="5.3" fill="#008B00"/>
<circle cx="561.43" cy="989.38" r="5.3" fill="#008B00"/>
<circle cx="565.55" cy="750.65" r="5.3" fill="#008B00"/>
<circle cx="565.55" cy="757.23" r="5.3" fill="#008B00"/>
<circle cx="565.55" cy="763.82" r="5.3" fill="#008B00"/>
<circle cx="565.55" cy="789.34" r="5.3" fill="#008B00"/>
<circle cx="565.55" cy="924.35" r="5.3" fill="#008B00"/>
<circle cx="566.37" cy="808.27" r="5.3" fill="#008B00"/>
<circle cx="569.66" cy="813.21" r="5.3" fill="#008B00"/>
<circle cx="569.66" cy="896.36" r="5.3" fill="#008B00"/>
<circle cx="570.49" cy="936.69" r="5.3" fill="#008B00"/>
<circle cx="575.43" cy="865.49" r="5.3" fill="#008B00"/>
<circle cx="575.43" cy="893.48" r="5.3" fill="#008B00"/>
<circle cx="575.43" cy="905.41" r="5.3" fill="#008B00"/>
<circle cx="575.43" cy="788.52" r="5.3" fill="#008B00"/>
<circle cx="579.54" cy="795.93" r="5.3" fill="#008B00"/>
<circle cx="580.37" cy="866.72" r="5.3" fill="#008B00"/>
<circle cx="580.37" cy="884.83" r="5.3" fill="#008B00"/>
<circle cx="584.48" cy="694.67" r="5.3" fill="#008B00"/>
<circle cx="584.48" cy="772.88" r="5.3" fill="#008B00"/>
<circle cx="584.48" cy="817.33" r="5.3" fill="#008B00"/>
<circle cx="584.48" cy="981.56" r="5.3" fill="#008B00"/>
<circle cx="590.24" cy="755.59" r="5.3" fill="#008B00"/>
<circle cx="590.24" cy="1001.32" r="5.3" fill="#008B00"/>
<circle cx="594.36" cy="754.76" r="5.3" fill="#008B00"/>
<circle cx="598.48" cy="789.34" r="5.3" fill="#008B00"/>
<circle cx="598.48" cy="795.1" r="5.3" fill="#008B00"/>
<circle cx="598.48" cy="926.4" r="5.3" fill="#008B00"/>
<circle cx="604.24" cy="828.85" r="5.3" fill="#008B00"/>
<circle cx="609.18" cy="856.43" r="5.3" fill="#008B00"/>
<circle cx="613.29" cy="735.83" r="5.3" fill="#008B00"/>
<circle cx="613.29" cy="930.93" r="5.3" fill="#008B00"/>
<circle cx="613.29" cy="944.93" r="5.3" fill="#008B00"/>
<circle cx="618.23" cy="953.16" r="5.3" fill="#008B00"/>
<circle cx="623.17" cy="820.62" r="5.3" fill="#008B00"/>
<circle cx="623.17" cy="893.89" r="5.3" fill="#008B00"/>
<circle cx="627.29" cy="745.71" r="5.3" fill="#008B00"/>
<circle cx="627.29" cy="789.34" r="5.3" fill="#008B00"/>
<circle cx="627.29" cy="799.22" r="5.3" fill="#008B00"/>
<circle cx="633.05" cy="693.02" r="5.3" fill="#008B00"/>
<circle cx="633.05" cy="721.84" r="5.3" fill="#008B00"/>
<circle cx="633.05" cy="732.54" r="5.3" fill="#008B00"/>
<circle cx="633.05" cy="953.98" r="5.3" fill="#008B00"/>
<circle cx="637.99" cy="769.58" r="5.3" fill="#008B00"/>
<circle cx="637.99" cy="809.1" r="5.3" fill="#008B00"/>
<circle cx="637.99" cy="837.91" r="5.3" fill="#008B00"/>
<circle cx="642.11" cy="744.89" r="5.3" fill="#008B00"/>
<circle cx="642.11" cy="913.64" r="5.3" fill="#008B00"/>
<circle cx="651.99" cy="732.95" r="5.3" fill="#008B00"/>
<circle cx="651.99" cy="757.23" r="5.3" fill="#008B00"/>
<circle cx="651.99" cy="846.14" r="5.3" fill="#008B00"/>
<circle cx="651.99" cy="891.01" r="5.3" fill="#008B00"/>
<circle cx="651.99" cy="908.71" r="5.3" fill="#008B00"/>
<circle cx="651.99" cy="938.34" r="5.3" fill="#008B00"/>
<circle cx="651.99" cy="944.93" r="5.3" fill="#008B00"/>
<circle cx="661.86" cy="884.01" r="5.3" fill="#008B00"/>
<circle cx="665.98" cy="716.07" r="5.3" fill="#008B00"/>
<circle cx="665.98" cy="740.77" r="5.3" fill="#008B00"/>
<circle cx="665.98" cy="750.65" r="5.3" fill="#008B00"/>
<circle cx="665.98" cy="772.05" r="5.3" fill="#008B00"/>
<circle cx="665.98" cy="833.79" r="5.3" fill="#008B00"/>
<circle cx="665.98" cy="949.87" r="5.3" fill="#008B00"/>
<circle cx="665.98" cy="973.74" r="5.3" fill="#008B00"/>
<circle cx="670.92" cy="793.46" r="5.3" fill="#008B00"/>
<circle cx="670.92" cy="813.21" r="5.3" fill="#008B00"/>
<circle cx="670.92" cy="1028.89" r="5.3" fill="#008B00"/>
<circle cx="680.8" cy="805.8" r="5.3" fill="#008B00"/>
<circle cx="684.91" cy="764.64" r="5.3" fill="#008B00"/>
<circle cx="684.91" cy="785.22" r="5.3" fill="#008B00"/>
<circle cx="691.5" cy="1008.73" r="5.3" fill="#008B00"/>
<circle cx="698.91" cy="687.26" r="5.3" fill="#008B00"/>
<circle cx="698.91" cy="806.63" r="5.3" fill="#008B00"/>
<circle cx="698.91" cy="822.27" r="5.3" fill="#008B00"/>
<circle cx="704.67" cy="744.89" r="5.3" fill="#008B00"/>
<circle cx="713.73" cy="761.76" r="5.3" fill="#008B00"/>
<circle cx="719.49" cy="730.07" r="5.3" fill="#008B00"/>
<circle cx="733.48" cy="767.11" r="5.3" fill="#008B00"/>
<circle cx="733.48" cy="809.1" r="5.3" fill="#008B00"/>
<circle cx="748.3" cy="964.27" r="5.3" fill="#008B00"/>
</g>
<polyline points="190.8,983 197.7,981.4 208.2,976.6 218.8,970.8 231.4,966.6 248.3,958.2 263.1,950.8 280,942.8 293.7,937.6 309.5,929.7 325.4,921.2 339.1,913.8 352.8,904.3 367.6,896.4 375,889 380,887.3 395.8,875.6 410.6,866.1 416.9,860.3 425.4,856.1 432.8,850.3 443.3,841.9 453.9,835 464.4,826.6 469.7,822.9 483.4,812.8 491.9,806 505.6,795.4 522.5,783.3 538.3,772.7 543.6,767.5 559.4,757.4 570,750.6 575,749.7 584,742.5 594.7,735.8 612.7,727.7 617.2,724.6 627,721 632.4,717 643.2,712.5 655.7,706.6 663.8,705.3 678.2,698.1 695.2,690.5 706,685.6 718.5,680.6 733.8,675.3" fill="none" stroke="#000" stroke-width="1.1"/>
<rect x="139.8" y="625.7" width="616.7" height="496" fill="none" stroke="#000" stroke-width="1.5"/>
<g shape-rendering="crispEdges">
<rect x="1167.4" y="615.6" width="491" height="573.6" fill="#000"/>
<rect x="1170.91" y="615.6" width="3.51" height="27.31" fill="#152b5a"/>
<rect x="1205.98" y="615.6" width="3.51" height="27.31" fill="#09123e"/>
<rect x="1212.99" y="615.6" width="3.51" height="27.31" fill="#22477b"/>
<rect x="1223.51" y="615.6" width="3.51" height="27.31" fill="#102250"/>
<rect x="1227.02" y="615.6" width="3.51" height="27.31" fill="#1e3e70"/>
<rect x="1230.53" y="615.6" width="3.51" height="27.31" fill="#040630"/>
<rect x="1234.04" y="615.6" width="3.51" height="27.31" fill="#28548b"/>
<rect x="1237.54" y="615.6" width="3.51" height="27.31" fill="#162e5d"/>
<rect x="1279.63" y="615.6" width="3.51" height="27.31" fill="#0d1a47"/>
<rect x="1300.67" y="615.6" width="3.51" height="27.31" fill="#1c3c6d"/>
<rect x="1307.69" y="615.6" width="3.51" height="27.31" fill="#2a5a91"/>
<rect x="1318.21" y="615.6" width="3.51" height="27.31" fill="#102250"/>
<rect x="1388.35" y="615.6" width="3.51" height="27.31" fill="#0b1541"/>
<rect x="1391.86" y="615.6" width="3.51" height="27.31" fill="#040631"/>
<rect x="1412.9" y="615.6" width="3.51" height="27.31" fill="#28548a"/>
<rect x="1419.91" y="615.6" width="3.51" height="27.31" fill="#122654"/>
<rect x="1426.93" y="615.6" width="3.51" height="27.31" fill="#0c1744"/>
<rect x="1430.44" y="615.6" width="3.51" height="27.31" fill="#0a1440"/>
<rect x="1433.94" y="615.6" width="3.51" height="27.31" fill="#254e84"/>
<rect x="1444.46" y="615.6" width="3.51" height="27.31" fill="#10214f"/>
<rect x="1447.97" y="615.6" width="3.51" height="27.31" fill="#070d39"/>
<rect x="1451.48" y="615.6" width="3.51" height="27.31" fill="#03052f"/>
<rect x="1454.99" y="615.6" width="3.51" height="27.31" fill="#060a35"/>
<rect x="1476.03" y="615.6" width="3.51" height="27.31" fill="#09113d"/>
<rect x="1486.55" y="615.6" width="3.51" height="27.31" fill="#0f1f4c"/>
<rect x="1490.06" y="615.6" width="3.51" height="27.31" fill="#09103c"/>
<rect x="1493.56" y="615.6" width="3.51" height="27.31" fill="#183363"/>
<rect x="1497.07" y="615.6" width="3.51" height="27.31" fill="#1a3767"/>
<rect x="1500.58" y="615.6" width="3.51" height="27.31" fill="#09123e"/>
<rect x="1504.09" y="615.6" width="3.51" height="27.31" fill="#1d3c6e"/>
<rect x="1511.1" y="615.6" width="3.51" height="27.31" fill="#0b1541"/>
<rect x="1514.61" y="615.6" width="3.51" height="27.31" fill="#21467a"/>
<rect x="1518.11" y="615.6" width="3.51" height="27.31" fill="#09113d"/>
<rect x="1521.62" y="615.6" width="3.51" height="27.31" fill="#0b1642"/>
<rect x="1525.13" y="615.6" width="3.51" height="27.31" fill="#08103b"/>
<rect x="1528.64" y="615.6" width="3.51" height="27.31" fill="#0d1b48"/>
<rect x="1532.14" y="615.6" width="3.51" height="27.31" fill="#09123e"/>
<rect x="1535.65" y="615.6" width="3.51" height="27.31" fill="#162d5c"/>
<rect x="1539.16" y="615.6" width="3.51" height="27.31" fill="#10204d"/>
<rect x="1542.66" y="615.6" width="3.51" height="27.31" fill="#1d3d6f"/>
<rect x="1549.68" y="615.6" width="3.51" height="27.31" fill="#1f4174"/>
<rect x="1553.19" y="615.6" width="3.51" height="27.31" fill="#0f1f4d"/>
<rect x="1560.2" y="615.6" width="3.51" height="27.31" fill="#3572ae"/>
<rect x="1563.71" y="615.6" width="3.51" height="27.31" fill="#234b80"/>
<rect x="1567.21" y="615.6" width="3.51" height="27.31" fill="#03042e"/>
<rect x="1574.23" y="615.6" width="3.51" height="27.31" fill="#040530"/>
<rect x="1577.74" y="615.6" width="3.51" height="27.31" fill="#0e1c49"/>
<rect x="1581.24" y="615.6" width="3.51" height="27.31" fill="#040631"/>
<rect x="1584.75" y="615.6" width="3.51" height="27.31" fill="#060b36"/>
<rect x="1588.26" y="615.6" width="3.51" height="27.31" fill="#10214f"/>
<rect x="1591.76" y="615.6" width="3.51" height="27.31" fill="#2c5d95"/>
<rect x="1595.27" y="615.6" width="3.51" height="27.31" fill="#28548b"/>
<rect x="1598.78" y="615.6" width="3.51" height="27.31" fill="#346fab"/>
<rect x="1602.29" y="615.6" width="3.51" height="27.31" fill="#22487c"/>
<rect x="1605.79" y="615.6" width="3.51" height="27.31" fill="#346ea9"/>
<rect x="1609.3" y="615.6" width="3.51" height="27.31" fill="#1f4275"/>
<rect x="1612.81" y="615.6" width="3.51" height="27.31" fill="#0c1845"/>
<rect x="1616.31" y="615.6" width="3.51" height="27.31" fill="#0e1d4a"/>
<rect x="1619.82" y="615.6" width="3.51" height="27.31" fill="#234a7e"/>
<rect x="1623.33" y="615.6" width="3.51" height="27.31" fill="#02032d"/>
<rect x="1626.84" y="615.6" width="3.51" height="27.31" fill="#2c5d96"/>
<rect x="1630.34" y="615.6" width="3.51" height="27.31" fill="#244c81"/>
<rect x="1633.85" y="615.6" width="3.51" height="27.31" fill="#0c1743"/>
<rect x="1637.36" y="615.6" width="3.51" height="27.31" fill="#3f87c3"/>
<rect x="1640.86" y="615.6" width="3.51" height="27.31" fill="#4da3dc"/>
<rect x="1644.37" y="615.6" width="3.51" height="27.31" fill="#3672af"/>
<rect x="1647.88" y="615.6" width="3.51" height="27.31" fill="#040731"/>
<rect x="1651.39" y="615.6" width="3.51" height="27.31" fill="#326ba5"/>
<rect x="1654.89" y="615.6" width="3.51" height="27.31" fill="#22497d"/>
<rect x="1181.43" y="642.91" width="3.51" height="27.31" fill="#173161"/>
<rect x="1184.94" y="642.91" width="3.51" height="27.31" fill="#0d1a47"/>
<rect x="1191.95" y="642.91" width="3.51" height="27.31" fill="#0e1c49"/>
<rect x="1202.47" y="642.91" width="3.51" height="27.31" fill="#060c37"/>
<rect x="1209.49" y="642.91" width="3.51" height="27.31" fill="#0d1946"/>
<rect x="1212.99" y="642.91" width="3.51" height="27.31" fill="#132857"/>
<rect x="1220.01" y="642.91" width="3.51" height="27.31" fill="#10204d"/>
<rect x="1227.02" y="642.91" width="3.51" height="27.31" fill="#0c1946"/>
<rect x="1230.53" y="642.91" width="3.51" height="27.31" fill="#070c37"/>
<rect x="1234.04" y="642.91" width="3.51" height="27.31" fill="#112351"/>
<rect x="1237.54" y="642.91" width="3.51" height="27.31" fill="#28548b"/>
<rect x="1241.05" y="642.91" width="3.51" height="27.31" fill="#193465"/>
<rect x="1248.06" y="642.91" width="3.51" height="27.31" fill="#0d1a47"/>
<rect x="1251.57" y="642.91" width="3.51" height="27.31" fill="#23497d"/>
<rect x="1262.09" y="642.91" width="3.51" height="27.31" fill="#060b36"/>
<rect x="1272.61" y="642.91" width="3.51" height="27.31" fill="#112250"/>
<rect x="1283.14" y="642.91" width="3.51" height="27.31" fill="#1a3768"/>
<rect x="1290.15" y="642.91" width="3.51" height="27.31" fill="#0d1a47"/>
<rect x="1293.66" y="642.91" width="3.51" height="27.31" fill="#060b36"/>
<rect x="1297.16" y="642.91" width="3.51" height="27.31" fill="#112250"/>
<rect x="1300.67" y="642.91" width="3.51" height="27.31" fill="#254d83"/>
<rect x="1304.18" y="642.91" width="3.51" height="27.31" fill="#132655"/>
<rect x="1307.69" y="642.91" width="3.51" height="27.31" fill="#1c3b6c"/>
<rect x="1311.19" y="642.91" width="3.51" height="27.31" fill="#22487c"/>
<rect x="1349.77" y="642.91" width="3.51" height="27.31" fill="#09103c"/>
<rect x="1353.28" y="642.91" width="3.51" height="27.31" fill="#275288"/>
<rect x="1356.79" y="642.91" width="3.51" height="27.31" fill="#1e3f72"/>
<rect x="1360.29" y="642.91" width="3.51" height="27.31" fill="#0c1946"/>
<rect x="1395.36" y="642.91" width="3.51" height="27.31" fill="#142958"/>
<rect x="1398.87" y="642.91" width="3.51" height="27.31" fill="#070c37"/>
<rect x="1402.38" y="642.91" width="3.51" height="27.31" fill="#080f3b"/>
<rect x="1405.89" y="642.91" width="3.51" height="27.31" fill="#0e1b48"/>
<rect x="1409.39" y="642.91" width="3.51" height="27.31" fill="#10214f"/>
<rect x="1412.9" y="642.91" width="3.51" height="27.31" fill="#09123e"/>
<rect x="1416.41" y="642.91" width="3.51" height="27.31" fill="#162e5d"/>
<rect x="1419.91" y="642.91" width="3.51" height="27.31" fill="#204376"/>
<rect x="1423.42" y="642.91" width="3.51" height="27.31" fill="#254e84"/>
<rect x="1433.94" y="642.91" width="3.51" height="27.31" fill="#060a35"/>
<rect x="1437.45" y="642.91" width="3.51" height="27.31" fill="#172f5f"/>
<rect x="1440.96" y="642.91" width="3.51" height="27.31" fill="#040731"/>
<rect x="1444.46" y="642.91" width="3.51" height="27.31" fill="#080f3a"/>
<rect x="1447.97" y="642.91" width="3.51" height="27.31" fill="#183161"/>
<rect x="1451.48" y="642.91" width="3.51" height="27.31" fill="#152c5c"/>
<rect x="1454.99" y="642.91" width="3.51" height="27.31" fill="#173060"/>
<rect x="1458.49" y="642.91" width="3.51" height="27.31" fill="#29578e"/>
<rect x="1462" y="642.91" width="3.51" height="27.31" fill="#0c1844"/>
<rect x="1465.51" y="642.91" width="3.51" height="27.31" fill="#0c1946"/>
<rect x="1469.01" y="642.91" width="3.51" height="27.31" fill="#050934"/>
<rect x="1472.52" y="642.91" width="3.51" height="27.31" fill="#0f1e4b"/>
<rect x="1479.54" y="642.91" width="3.51" height="27.31" fill="#1c3a6c"/>
<rect x="1486.55" y="642.91" width="3.51" height="27.31" fill="#2d6099"/>
<rect x="1490.06" y="642.91" width="3.51" height="27.31" fill="#4c9fd8"/>
<rect x="1493.56" y="642.91" width="3.51" height="27.31" fill="#3572ae"/>
<rect x="1497.07" y="642.91" width="3.51" height="27.31" fill="#10214f"/>
<rect x="1500.58" y="642.91" width="3.51" height="27.31" fill="#0a133f"/>
<rect x="1504.09" y="642.91" width="3.51" height="27.31" fill="#214579"/>
<rect x="1507.59" y="642.91" width="3.51" height="27.31" fill="#0e1c4a"/>
<rect x="1511.1" y="642.91" width="3.51" height="27.31" fill="#183363"/>
<rect x="1514.61" y="642.91" width="3.51" height="27.31" fill="#040732"/>
<rect x="1518.11" y="642.91" width="3.51" height="27.31" fill="#0b1541"/>
<rect x="1521.62" y="642.91" width="3.51" height="27.31" fill="#040630"/>
<rect x="1525.13" y="642.91" width="3.51" height="27.31" fill="#234a7f"/>
<rect x="1528.64" y="642.91" width="3.51" height="27.31" fill="#132756"/>
<rect x="1535.65" y="642.91" width="3.51" height="27.31" fill="#193464"/>
<rect x="1539.16" y="642.91" width="3.51" height="27.31" fill="#09113c"/>
<rect x="1542.66" y="642.91" width="3.51" height="27.31" fill="#10204d"/>
<rect x="1546.17" y="642.91" width="3.51" height="27.31" fill="#0e1c4a"/>
<rect x="1549.68" y="642.91" width="3.51" height="27.31" fill="#112250"/>
<rect x="1553.19" y="642.91" width="3.51" height="27.31" fill="#152b5a"/>
<rect x="1556.69" y="642.91" width="3.51" height="27.31" fill="#050833"/>
<rect x="1560.2" y="642.91" width="3.51" height="27.31" fill="#346faa"/>
<rect x="1563.71" y="642.91" width="3.51" height="27.31" fill="#3571ad"/>
<rect x="1567.21" y="642.91" width="3.51" height="27.31" fill="#22477b"/>
<rect x="1570.72" y="642.91" width="3.51" height="27.31" fill="#204478"/>
<rect x="1574.23" y="642.91" width="3.51" height="27.31" fill="#22477b"/>
<rect x="1577.74" y="642.91" width="3.51" height="27.31" fill="#1a3768"/>
<rect x="1581.24" y="642.91" width="3.51" height="27.31" fill="#22487c"/>
<rect x="1584.75" y="642.91" width="3.51" height="27.31" fill="#070d39"/>
<rect x="1591.76" y="642.91" width="3.51" height="27.31" fill="#183262"/>
<rect x="1595.27" y="642.91" width="3.51" height="27.31" fill="#2c5e96"/>
<rect x="1598.78" y="642.91" width="3.51" height="27.31" fill="#326ba6"/>
<rect x="1602.29" y="642.91" width="3.51" height="27.31" fill="#29578f"/>
<rect x="1605.79" y="642.91" width="3.51" height="27.31" fill="#3e83c0"/>
<rect x="1612.81" y="642.91" width="3.51" height="27.31" fill="#22497d"/>
<rect x="1616.31" y="642.91" width="3.51" height="27.31" fill="#050934"/>
<rect x="1619.82" y="642.91" width="3.51" height="27.31" fill="#162d5d"/>
<rect x="1623.33" y="642.91" width="3.51" height="27.31" fill="#2c5d95"/>
<rect x="1626.84" y="642.91" width="3.51" height="27.31" fill="#2b5c94"/>
<rect x="1630.34" y="642.91" width="3.51" height="27.31" fill="#28568c"/>
<rect x="1633.85" y="642.91" width="3.51" height="27.31" fill="#53aee6"/>
<rect x="1637.36" y="642.91" width="3.51" height="27.31" fill="#4ca0d9"/>
<rect x="1640.86" y="642.91" width="3.51" height="27.31" fill="#3b7dbb"/>
<rect x="1644.37" y="642.91" width="3.51" height="27.31" fill="#3b7fbc"/>
<rect x="1647.88" y="642.91" width="3.51" height="27.31" fill="#2d5f98"/>
<rect x="1651.39" y="642.91" width="3.51" height="27.31" fill="#3570ac"/>
<rect x="1654.89" y="642.91" width="3.51" height="27.31" fill="#2f649e"/>
<rect x="1167.4" y="670.23" width="3.51" height="27.31" fill="#1e3f71"/>
<rect x="1170.91" y="670.23" width="3.51" height="27.31" fill="#326ba6"/>
<rect x="1174.41" y="670.23" width="3.51" height="27.31" fill="#3674b1"/>
<rect x="1177.92" y="670.23" width="3.51" height="27.31" fill="#204477"/>
<rect x="1181.43" y="670.23" width="3.51" height="27.31" fill="#183363"/>
<rect x="1184.94" y="670.23" width="3.51" height="27.31" fill="#418ac6"/>
<rect x="1188.44" y="670.23" width="3.51" height="27.31" fill="#0c1744"/>
<rect x="1191.95" y="670.23" width="3.51" height="27.31" fill="#162e5e"/>
<rect x="1195.46" y="670.23" width="3.51" height="27.31" fill="#050833"/>
<rect x="1198.96" y="670.23" width="3.51" height="27.31" fill="#0b1542"/>
<rect x="1202.47" y="670.23" width="3.51" height="27.31" fill="#070d38"/>
<rect x="1205.98" y="670.23" width="3.51" height="27.31" fill="#08103c"/>
<rect x="1209.49" y="670.23" width="3.51" height="27.31" fill="#09113d"/>
<rect x="1212.99" y="670.23" width="3.51" height="27.31" fill="#28558c"/>
<rect x="1220.01" y="670.23" width="3.51" height="27.31" fill="#070d38"/>
<rect x="1227.02" y="670.23" width="3.51" height="27.31" fill="#2f649d"/>
<rect x="1230.53" y="670.23" width="3.51" height="27.31" fill="#0e1b48"/>
<rect x="1234.04" y="670.23" width="3.51" height="27.31" fill="#0c1845"/>
<rect x="1241.05" y="670.23" width="3.51" height="27.31" fill="#050934"/>
<rect x="1244.56" y="670.23" width="3.51" height="27.31" fill="#050934"/>
<rect x="1255.08" y="670.23" width="3.51" height="27.31" fill="#09113d"/>
<rect x="1262.09" y="670.23" width="3.51" height="27.31" fill="#070d38"/>
<rect x="1265.6" y="670.23" width="3.51" height="27.31" fill="#0e1c49"/>
<rect x="1269.11" y="670.23" width="3.51" height="27.31" fill="#162f5e"/>
<rect x="1272.61" y="670.23" width="3.51" height="27.31" fill="#070d38"/>
<rect x="1276.12" y="670.23" width="3.51" height="27.31" fill="#132857"/>
<rect x="1279.63" y="670.23" width="3.51" height="27.31" fill="#3571ad"/>
<rect x="1283.14" y="670.23" width="3.51" height="27.31" fill="#1d3e70"/>
<rect x="1286.64" y="670.23" width="3.51" height="27.31" fill="#10214f"/>
<rect x="1290.15" y="670.23" width="3.51" height="27.31" fill="#346faa"/>
<rect x="1293.66" y="670.23" width="3.51" height="27.31" fill="#1f4173"/>
<rect x="1297.16" y="670.23" width="3.51" height="27.31" fill="#3776b3"/>
<rect x="1300.67" y="670.23" width="3.51" height="27.31" fill="#0e1d4a"/>
<rect x="1304.18" y="670.23" width="3.51" height="27.31" fill="#040630"/>
<rect x="1307.69" y="670.23" width="3.51" height="27.31" fill="#132755"/>
<rect x="1311.19" y="670.23" width="3.51" height="27.31" fill="#265187"/>
<rect x="1314.7" y="670.23" width="3.51" height="27.31" fill="#4591cc"/>
<rect x="1318.21" y="670.23" width="3.51" height="27.31" fill="#4897d2"/>
<rect x="1321.71" y="670.23" width="3.51" height="27.31" fill="#4ea3dc"/>
<rect x="1325.22" y="670.23" width="3.51" height="27.31" fill="#428dc9"/>
<rect x="1328.73" y="670.23" width="3.51" height="27.31" fill="#4897d2"/>
<rect x="1332.24" y="670.23" width="3.51" height="27.31" fill="#5abbf1"/>
<rect x="1335.74" y="670.23" width="3.51" height="27.31" fill="#4999d3"/>
<rect x="1346.26" y="670.23" width="3.51" height="27.31" fill="#0b1642"/>
<rect x="1349.77" y="670.23" width="3.51" height="27.31" fill="#2b5b92"/>
<rect x="1353.28" y="670.23" width="3.51" height="27.31" fill="#3d82bf"/>
<rect x="1356.79" y="670.23" width="3.51" height="27.31" fill="#2a5a91"/>
<rect x="1360.29" y="670.23" width="3.51" height="27.31" fill="#4ea4dd"/>
<rect x="1363.8" y="670.23" width="3.51" height="27.31" fill="#10214e"/>
<rect x="1367.31" y="670.23" width="3.51" height="27.31" fill="#050833"/>
<rect x="1370.81" y="670.23" width="3.51" height="27.31" fill="#0d1a47"/>
<rect x="1374.32" y="670.23" width="3.51" height="27.31" fill="#50a8e0"/>
<rect x="1377.83" y="670.23" width="3.51" height="27.31" fill="#60c8fc"/>
<rect x="1381.34" y="670.23" width="3.51" height="27.31" fill="#52abe3"/>
<rect x="1384.84" y="670.23" width="3.51" height="27.31" fill="#4999d3"/>
<rect x="1388.35" y="670.23" width="3.51" height="27.31" fill="#4088c4"/>
<rect x="1391.86" y="670.23" width="3.51" height="27.31" fill="#2d6099"/>
<rect x="1395.36" y="670.23" width="3.51" height="27.31" fill="#2b5b93"/>
<rect x="1398.87" y="670.23" width="3.51" height="27.31" fill="#50a8e0"/>
<rect x="1402.38" y="670.23" width="3.51" height="27.31" fill="#4490cb"/>
<rect x="1405.89" y="670.23" width="3.51" height="27.31" fill="#346faa"/>
<rect x="1409.39" y="670.23" width="3.51" height="27.31" fill="#4490cc"/>
<rect x="1412.9" y="670.23" width="3.51" height="27.31" fill="#499bd5"/>
<rect x="1416.41" y="670.23" width="3.51" height="27.31" fill="#5bbdf3"/>
<rect x="1419.91" y="670.23" width="3.51" height="27.31" fill="#5bbff4"/>
<rect x="1423.42" y="670.23" width="3.51" height="27.31" fill="#08103b"/>
<rect x="1426.93" y="670.23" width="3.51" height="27.31" fill="#040731"/>
<rect x="1430.44" y="670.23" width="3.51" height="27.31" fill="#142a59"/>
<rect x="1437.45" y="670.23" width="3.51" height="27.31" fill="#4a9dd6"/>
<rect x="1440.96" y="670.23" width="3.51" height="27.31" fill="#4fa6de"/>
<rect x="1444.46" y="670.23" width="3.51" height="27.31" fill="#3c80be"/>
<rect x="1447.97" y="670.23" width="3.51" height="27.31" fill="#499ad4"/>
<rect x="1451.48" y="670.23" width="3.51" height="27.31" fill="#3674b1"/>
<rect x="1454.99" y="670.23" width="3.51" height="27.31" fill="#3d82c0"/>
<rect x="1458.49" y="670.23" width="3.51" height="27.31" fill="#3c80bd"/>
<rect x="1462" y="670.23" width="3.51" height="27.31" fill="#428bc7"/>
<rect x="1465.51" y="670.23" width="3.51" height="27.31" fill="#54b1e8"/>
<rect x="1469.01" y="670.23" width="3.51" height="27.31" fill="#56b4ea"/>
<rect x="1472.52" y="670.23" width="3.51" height="27.31" fill="#3169a4"/>
<rect x="1476.03" y="670.23" width="3.51" height="27.31" fill="#27538a"/>
<rect x="1479.54" y="670.23" width="3.51" height="27.31" fill="#3776b2"/>
<rect x="1483.04" y="670.23" width="3.51" height="27.31" fill="#418ac6"/>
<rect x="1486.55" y="670.23" width="3.51" height="27.31" fill="#3169a4"/>
<rect x="1490.06" y="670.23" width="3.51" height="27.31" fill="#3e84c1"/>
<rect x="1493.56" y="670.23" width="3.51" height="27.31" fill="#4a9cd6"/>
<rect x="1497.07" y="670.23" width="3.51" height="27.31" fill="#4189c6"/>
<rect x="1500.58" y="670.23" width="3.51" height="27.31" fill="#58b8ee"/>
<rect x="1504.09" y="670.23" width="3.51" height="27.31" fill="#3066a0"/>
<rect x="1507.59" y="670.23" width="3.51" height="27.31" fill="#2e639c"/>
<rect x="1511.1" y="670.23" width="3.51" height="27.31" fill="#4087c4"/>
<rect x="1514.61" y="670.23" width="3.51" height="27.31" fill="#3a7cba"/>
<rect x="1518.11" y="670.23" width="3.51" height="27.31" fill="#3066a0"/>
<rect x="1521.62" y="670.23" width="3.51" height="27.31" fill="#050832"/>
<rect x="1525.13" y="670.23" width="3.51" height="27.31" fill="#3e84c1"/>
<rect x="1528.64" y="670.23" width="3.51" height="27.31" fill="#5abdf2"/>
<rect x="1532.14" y="670.23" width="3.51" height="27.31" fill="#418ac6"/>
<rect x="1535.65" y="670.23" width="3.51" height="27.31" fill="#2f649e"/>
<rect x="1539.16" y="670.23" width="3.51" height="27.31" fill="#336da8"/>
<rect x="1542.66" y="670.23" width="3.51" height="27.31" fill="#3879b6"/>
<rect x="1546.17" y="670.23" width="3.51" height="27.31" fill="#4898d2"/>
<rect x="1549.68" y="670.23" width="3.51" height="27.31" fill="#4189c6"/>
<rect x="1553.19" y="670.23" width="3.51" height="27.31" fill="#50a8e0"/>
<rect x="1556.69" y="670.23" width="3.51" height="27.31" fill="#346fab"/>
<rect x="1560.2" y="670.23" width="3.51" height="27.31" fill="#3979b7"/>
<rect x="1563.71" y="670.23" width="3.51" height="27.31" fill="#55b1e8"/>
<rect x="1567.21" y="670.23" width="3.51" height="27.31" fill="#60c8fc"/>
<rect x="1570.72" y="670.23" width="3.51" height="27.31" fill="#3c7fbd"/>
<rect x="1574.23" y="670.23" width="3.51" height="27.31" fill="#070d38"/>
<rect x="1577.74" y="670.23" width="3.51" height="27.31" fill="#56b3ea"/>
<rect x="1581.24" y="670.23" width="3.51" height="27.31" fill="#3775b1"/>
<rect x="1584.75" y="670.23" width="3.51" height="27.31" fill="#438ec9"/>
<rect x="1588.26" y="670.23" width="3.51" height="27.31" fill="#3f87c3"/>
<rect x="1591.76" y="670.23" width="3.51" height="27.31" fill="#59b9ef"/>
<rect x="1595.27" y="670.23" width="3.51" height="27.31" fill="#3d81be"/>
<rect x="1598.78" y="670.23" width="3.51" height="27.31" fill="#4795d0"/>
<rect x="1602.29" y="670.23" width="3.51" height="27.31" fill="#5bbef4"/>
<rect x="1605.79" y="670.23" width="3.51" height="27.31" fill="#3b7fbc"/>
<rect x="1609.3" y="670.23" width="3.51" height="27.31" fill="#60c8fc"/>
<rect x="1612.81" y="670.23" width="3.51" height="27.31" fill="#5cc0f5"/>
<rect x="1616.31" y="670.23" width="3.51" height="27.31" fill="#4ea5dd"/>
<rect x="1619.82" y="670.23" width="3.51" height="27.31" fill="#050833"/>
<rect x="1623.33" y="670.23" width="3.51" height="27.31" fill="#28558c"/>
<rect x="1626.84" y="670.23" width="3.51" height="27.31" fill="#08103c"/>
<rect x="1630.34" y="670.23" width="3.51" height="27.31" fill="#254f85"/>
<rect x="1633.85" y="670.23" width="3.51" height="27.31" fill="#50a8e0"/>
<rect x="1637.36" y="670.23" width="3.51" height="27.31" fill="#4a9cd6"/>
<rect x="1640.86" y="670.23" width="3.51" height="27.31" fill="#02022c"/>
<rect x="1644.37" y="670.23" width="3.51" height="27.31" fill="#3f86c2"/>
<rect x="1647.88" y="670.23" width="3.51" height="27.31" fill="#499bd5"/>
<rect x="1651.39" y="670.23" width="3.51" height="27.31" fill="#418bc7"/>
<rect x="1654.89" y="670.23" width="3.51" height="27.31" fill="#204376"/>
<rect x="1170.91" y="697.54" width="3.51" height="27.31" fill="#2d6099"/>
<rect x="1177.92" y="697.54" width="3.51" height="27.31" fill="#22487d"/>
<rect x="1181.43" y="697.54" width="3.51" height="27.31" fill="#0f1e4c"/>
<rect x="1184.94" y="697.54" width="3.51" height="27.31" fill="#070d38"/>
<rect x="1188.44" y="697.54" width="3.51" height="27.31" fill="#08103c"/>
<rect x="1191.95" y="697.54" width="3.51" height="27.31" fill="#254f84"/>
<rect x="1195.46" y="697.54" width="3.51" height="27.31" fill="#050832"/>
<rect x="1198.96" y="697.54" width="3.51" height="27.31" fill="#0f1f4c"/>
<rect x="1202.47" y="697.54" width="3.51" height="27.31" fill="#2a5a91"/>
<rect x="1205.98" y="697.54" width="3.51" height="27.31" fill="#1b396a"/>
<rect x="1212.99" y="697.54" width="3.51" height="27.31" fill="#040530"/>
<rect x="1265.6" y="697.54" width="3.51" height="27.31" fill="#1b396a"/>
<rect x="1272.61" y="697.54" width="3.51" height="27.31" fill="#070e39"/>
<rect x="1276.12" y="697.54" width="3.51" height="27.31" fill="#1e3e70"/>
<rect x="1283.14" y="697.54" width="3.51" height="27.31" fill="#22477b"/>
<rect x="1290.15" y="697.54" width="3.51" height="27.31" fill="#172f5f"/>
<rect x="1297.16" y="697.54" width="3.51" height="27.31" fill="#070d38"/>
<rect x="1300.67" y="697.54" width="3.51" height="27.31" fill="#162e5e"/>
<rect x="1304.18" y="697.54" width="3.51" height="27.31" fill="#040732"/>
<rect x="1307.69" y="697.54" width="3.51" height="27.31" fill="#0f1e4c"/>
<rect x="1311.19" y="697.54" width="3.51" height="27.31" fill="#080e3a"/>
<rect x="1314.7" y="697.54" width="3.51" height="27.31" fill="#0b1643"/>
<rect x="1318.21" y="697.54" width="3.51" height="27.31" fill="#0f1e4b"/>
<rect x="1321.71" y="697.54" width="3.51" height="27.31" fill="#070c37"/>
<rect x="1325.22" y="697.54" width="3.51" height="27.31" fill="#1f4275"/>
<rect x="1328.73" y="697.54" width="3.51" height="27.31" fill="#0d1a47"/>
<rect x="1332.24" y="697.54" width="3.51" height="27.31" fill="#0c1945"/>
<rect x="1349.77" y="697.54" width="3.51" height="27.31" fill="#070e39"/>
<rect x="1353.28" y="697.54" width="3.51" height="27.31" fill="#142a59"/>
<rect x="1356.79" y="697.54" width="3.51" height="27.31" fill="#070e39"/>
<rect x="1360.29" y="697.54" width="3.51" height="27.31" fill="#10214f"/>
<rect x="1374.32" y="697.54" width="3.51" height="27.31" fill="#336da8"/>
<rect x="1377.83" y="697.54" width="3.51" height="27.31" fill="#29578e"/>
<rect x="1381.34" y="697.54" width="3.51" height="27.31" fill="#2f649d"/>
<rect x="1384.84" y="697.54" width="3.51" height="27.31" fill="#0f1f4c"/>
<rect x="1388.35" y="697.54" width="3.51" height="27.31" fill="#040732"/>
<rect x="1391.86" y="697.54" width="3.51" height="27.31" fill="#1a3667"/>
<rect x="1395.36" y="697.54" width="3.51" height="27.31" fill="#070e39"/>
<rect x="1398.87" y="697.54" width="3.51" height="27.31" fill="#193464"/>
<rect x="1402.38" y="697.54" width="3.51" height="27.31" fill="#1f4174"/>
<rect x="1405.89" y="697.54" width="3.51" height="27.31" fill="#172f5e"/>
<rect x="1409.39" y="697.54" width="3.51" height="27.31" fill="#244b80"/>
<rect x="1412.9" y="697.54" width="3.51" height="27.31" fill="#29578e"/>
<rect x="1416.41" y="697.54" width="3.51" height="27.31" fill="#040631"/>
<rect x="1419.91" y="697.54" width="3.51" height="27.31" fill="#0c1844"/>
<rect x="1423.42" y="697.54" width="3.51" height="27.31" fill="#0f1d4b"/>
<rect x="1426.93" y="697.54" width="3.51" height="27.31" fill="#070d38"/>
<rect x="1430.44" y="697.54" width="3.51" height="27.31" fill="#0c1845"/>
<rect x="1433.94" y="697.54" width="3.51" height="27.31" fill="#1b3a6b"/>
<rect x="1437.45" y="697.54" width="3.51" height="27.31" fill="#10214f"/>
<rect x="1440.96" y="697.54" width="3.51" height="27.31" fill="#22497d"/>
<rect x="1444.46" y="697.54" width="3.51" height="27.31" fill="#0d1b48"/>
<rect x="1447.97" y="697.54" width="3.51" height="27.31" fill="#1c3b6d"/>
<rect x="1454.99" y="697.54" width="3.51" height="27.31" fill="#346eaa"/>
<rect x="1458.49" y="697.54" width="3.51" height="27.31" fill="#3673af"/>
<rect x="1462" y="697.54" width="3.51" height="27.31" fill="#0d1a47"/>
<rect x="1465.51" y="697.54" width="3.51" height="27.31" fill="#1c3b6d"/>
<rect x="1469.01" y="697.54" width="3.51" height="27.31" fill="#0b1542"/>
<rect x="1479.54" y="697.54" width="3.51" height="27.31" fill="#0a1440"/>
<rect x="1483.04" y="697.54" width="3.51" height="27.31" fill="#183363"/>
<rect x="1486.55" y="697.54" width="3.51" height="27.31" fill="#3572ae"/>
<rect x="1490.06" y="697.54" width="3.51" height="27.31" fill="#060a35"/>
<rect x="1493.56" y="697.54" width="3.51" height="27.31" fill="#070c38"/>
<rect x="1497.07" y="697.54" width="3.51" height="27.31" fill="#0a1340"/>
<rect x="1500.58" y="697.54" width="3.51" height="27.31" fill="#060a35"/>
<rect x="1504.09" y="697.54" width="3.51" height="27.31" fill="#29568d"/>
<rect x="1507.59" y="697.54" width="3.51" height="27.31" fill="#265187"/>
<rect x="1511.1" y="697.54" width="3.51" height="27.31" fill="#0d1a47"/>
<rect x="1514.61" y="697.54" width="3.51" height="27.31" fill="#264f85"/>
<rect x="1518.11" y="697.54" width="3.51" height="27.31" fill="#152b5b"/>
<rect x="1521.62" y="697.54" width="3.51" height="27.31" fill="#0a133f"/>
<rect x="1525.13" y="697.54" width="3.51" height="27.31" fill="#1a3768"/>
<rect x="1528.64" y="697.54" width="3.51" height="27.31" fill="#152c5b"/>
<rect x="1532.14" y="697.54" width="3.51" height="27.31" fill="#0c1845"/>
<rect x="1535.65" y="697.54" width="3.51" height="27.31" fill="#040630"/>
<rect x="1542.66" y="697.54" width="3.51" height="27.31" fill="#254e84"/>
<rect x="1546.17" y="697.54" width="3.51" height="27.31" fill="#10214e"/>
<rect x="1549.68" y="697.54" width="3.51" height="27.31" fill="#326ba6"/>
<rect x="1553.19" y="697.54" width="3.51" height="27.31" fill="#0b1643"/>
<rect x="1556.69" y="697.54" width="3.51" height="27.31" fill="#080e3a"/>
<rect x="1560.2" y="697.54" width="3.51" height="27.31" fill="#183262"/>
<rect x="1563.71" y="697.54" width="3.51" height="27.31" fill="#265086"/>
<rect x="1567.21" y="697.54" width="3.51" height="27.31" fill="#2e639c"/>
<rect x="1570.72" y="697.54" width="3.51" height="27.31" fill="#3066a0"/>
<rect x="1574.23" y="697.54" width="3.51" height="27.31" fill="#254f84"/>
<rect x="1577.74" y="697.54" width="3.51" height="27.31" fill="#0b1542"/>
<rect x="1581.24" y="697.54" width="3.51" height="27.31" fill="#050934"/>
<rect x="1584.75" y="697.54" width="3.51" height="27.31" fill="#0c1744"/>
<rect x="1588.26" y="697.54" width="3.51" height="27.31" fill="#080f3b"/>
<rect x="1591.76" y="697.54" width="3.51" height="27.31" fill="#29578f"/>
<rect x="1595.27" y="697.54" width="3.51" height="27.31" fill="#0f1e4b"/>
<rect x="1598.78" y="697.54" width="3.51" height="27.31" fill="#10214f"/>
<rect x="1602.29" y="697.54" width="3.51" height="27.31" fill="#1e3f72"/>
<rect x="1605.79" y="697.54" width="3.51" height="27.31" fill="#08103b"/>
<rect x="1609.3" y="697.54" width="3.51" height="27.31" fill="#0f1e4b"/>
<rect x="1612.81" y="697.54" width="3.51" height="27.31" fill="#09113d"/>
<rect x="1616.31" y="697.54" width="3.51" height="27.31" fill="#070d38"/>
<rect x="1626.84" y="697.54" width="3.51" height="27.31" fill="#0d1a47"/>
<rect x="1630.34" y="697.54" width="3.51" height="27.31" fill="#1b396a"/>
<rect x="1633.85" y="697.54" width="3.51" height="27.31" fill="#152b5a"/>
<rect x="1637.36" y="697.54" width="3.51" height="27.31" fill="#1e3e70"/>
<rect x="1640.86" y="697.54" width="3.51" height="27.31" fill="#265187"/>
<rect x="1644.37" y="697.54" width="3.51" height="27.31" fill="#09123e"/>
<rect x="1647.88" y="697.54" width="3.51" height="27.31" fill="#0b1541"/>
<rect x="1651.39" y="697.54" width="3.51" height="27.31" fill="#3066a0"/>
<rect x="1654.89" y="697.54" width="3.51" height="27.31" fill="#050934"/>
<rect x="1167.4" y="724.86" width="3.51" height="27.31" fill="#4a9dd7"/>
<rect x="1170.91" y="724.86" width="3.51" height="27.31" fill="#4fa6de"/>
<rect x="1174.41" y="724.86" width="3.51" height="27.31" fill="#4490cb"/>
<rect x="1177.92" y="724.86" width="3.51" height="27.31" fill="#397ab8"/>
<rect x="1181.43" y="724.86" width="3.51" height="27.31" fill="#4796d0"/>
<rect x="1184.94" y="724.86" width="3.51" height="27.31" fill="#59bbf1"/>
<rect x="1188.44" y="724.86" width="3.51" height="27.31" fill="#4da1da"/>
<rect x="1191.95" y="724.86" width="3.51" height="27.31" fill="#28548a"/>
<rect x="1195.46" y="724.86" width="3.51" height="27.31" fill="#336ca7"/>
<rect x="1198.96" y="724.86" width="3.51" height="27.31" fill="#234a7e"/>
<rect x="1202.47" y="724.86" width="3.51" height="27.31" fill="#3d83c0"/>
<rect x="1205.98" y="724.86" width="3.51" height="27.31" fill="#4593ce"/>
<rect x="1209.49" y="724.86" width="3.51" height="27.31" fill="#397ab8"/>
<rect x="1212.99" y="724.86" width="3.51" height="27.31" fill="#4087c4"/>
<rect x="1216.5" y="724.86" width="3.51" height="27.31" fill="#183262"/>
<rect x="1220.01" y="724.86" width="3.51" height="27.31" fill="#265187"/>
<rect x="1223.51" y="724.86" width="3.51" height="27.31" fill="#4796d1"/>
<rect x="1227.02" y="724.86" width="3.51" height="27.31" fill="#040631"/>
<rect x="1230.53" y="724.86" width="3.51" height="27.31" fill="#1c3b6d"/>
<rect x="1234.04" y="724.86" width="3.51" height="27.31" fill="#10204d"/>
<rect x="1237.54" y="724.86" width="3.51" height="27.31" fill="#060b36"/>
<rect x="1241.05" y="724.86" width="3.51" height="27.31" fill="#4592cd"/>
<rect x="1244.56" y="724.86" width="3.51" height="27.31" fill="#59b9ef"/>
<rect x="1248.06" y="724.86" width="3.51" height="27.31" fill="#3572ae"/>
<rect x="1251.57" y="724.86" width="3.51" height="27.31" fill="#265187"/>
<rect x="1255.08" y="724.86" width="3.51" height="27.31" fill="#234a7e"/>
<rect x="1258.59" y="724.86" width="3.51" height="27.31" fill="#050934"/>
<rect x="1262.09" y="724.86" width="3.51" height="27.31" fill="#254f84"/>
<rect x="1265.6" y="724.86" width="3.51" height="27.31" fill="#4490cc"/>
<rect x="1269.11" y="724.86" width="3.51" height="27.31" fill="#28548b"/>
<rect x="1272.61" y="724.86" width="3.51" height="27.31" fill="#2d6098"/>
<rect x="1276.12" y="724.86" width="3.51" height="27.31" fill="#438fca"/>
<rect x="1279.63" y="724.86" width="3.51" height="27.31" fill="#3775b2"/>
<rect x="1283.14" y="724.86" width="3.51" height="27.31" fill="#2c5d95"/>
<rect x="1286.64" y="724.86" width="3.51" height="27.31" fill="#3c80bd"/>
<rect x="1290.15" y="724.86" width="3.51" height="27.31" fill="#080f3a"/>
<rect x="1297.16" y="724.86" width="3.51" height="27.31" fill="#070d39"/>
<rect x="1300.67" y="724.86" width="3.51" height="27.31" fill="#397ab7"/>
<rect x="1304.18" y="724.86" width="3.51" height="27.31" fill="#3d82bf"/>
<rect x="1307.69" y="724.86" width="3.51" height="27.31" fill="#050934"/>
<rect x="1311.19" y="724.86" width="3.51" height="27.31" fill="#040731"/>
<rect x="1314.7" y="724.86" width="3.51" height="27.31" fill="#2e639c"/>
<rect x="1318.21" y="724.86" width="3.51" height="27.31" fill="#265187"/>
<rect x="1321.71" y="724.86" width="3.51" height="27.31" fill="#3d82bf"/>
<rect x="1325.22" y="724.86" width="3.51" height="27.31" fill="#22487c"/>
<rect x="1328.73" y="724.86" width="3.51" height="27.31" fill="#29568d"/>
<rect x="1332.24" y="724.86" width="3.51" height="27.31" fill="#3776b2"/>
<rect x="1335.74" y="724.86" width="3.51" height="27.31" fill="#17305f"/>
<rect x="1339.25" y="724.86" width="3.51" height="27.31" fill="#22487c"/>
<rect x="1342.76" y="724.86" width="3.51" height="27.31" fill="#265085"/>
<rect x="1346.26" y="724.86" width="3.51" height="27.31" fill="#3f85c2"/>
<rect x="1349.77" y="724.86" width="3.51" height="27.31" fill="#244c81"/>
<rect x="1353.28" y="724.86" width="3.51" height="27.31" fill="#30669f"/>
<rect x="1356.79" y="724.86" width="3.51" height="27.31" fill="#3571ad"/>
<rect x="1360.29" y="724.86" width="3.51" height="27.31" fill="#3168a2"/>
<rect x="1363.8" y="724.86" width="3.51" height="27.31" fill="#070e39"/>
<rect x="1367.31" y="724.86" width="3.51" height="27.31" fill="#1f4174"/>
<rect x="1370.81" y="724.86" width="3.51" height="27.31" fill="#0a133f"/>
<rect x="1374.32" y="724.86" width="3.51" height="27.31" fill="#10214f"/>
<rect x="1377.83" y="724.86" width="3.51" height="27.31" fill="#2f659f"/>
<rect x="1381.34" y="724.86" width="3.51" height="27.31" fill="#060c37"/>
<rect x="1384.84" y="724.86" width="3.51" height="27.31" fill="#0e1c4a"/>
<rect x="1388.35" y="724.86" width="3.51" height="27.31" fill="#162e5d"/>
<rect x="1391.86" y="724.86" width="3.51" height="27.31" fill="#0c1845"/>
<rect x="1395.36" y="724.86" width="3.51" height="27.31" fill="#050933"/>
<rect x="1398.87" y="724.86" width="3.51" height="27.31" fill="#050832"/>
<rect x="1402.38" y="724.86" width="3.51" height="27.31" fill="#2a5a92"/>
<rect x="1405.89" y="724.86" width="3.51" height="27.31" fill="#10214e"/>
<rect x="1409.39" y="724.86" width="3.51" height="27.31" fill="#0b1541"/>
<rect x="1412.9" y="724.86" width="3.51" height="27.31" fill="#1d3c6e"/>
<rect x="1416.41" y="724.86" width="3.51" height="27.31" fill="#2d6099"/>
<rect x="1419.91" y="724.86" width="3.51" height="27.31" fill="#0a133f"/>
<rect x="1426.93" y="724.86" width="3.51" height="27.31" fill="#060c37"/>
<rect x="1433.94" y="724.86" width="3.51" height="27.31" fill="#183262"/>
<rect x="1437.45" y="724.86" width="3.51" height="27.31" fill="#0d1946"/>
<rect x="1444.46" y="724.86" width="3.51" height="27.31" fill="#204376"/>
<rect x="1447.97" y="724.86" width="3.51" height="27.31" fill="#060b37"/>
<rect x="1458.49" y="724.86" width="3.51" height="27.31" fill="#0a133f"/>
<rect x="1465.51" y="724.86" width="3.51" height="27.31" fill="#265186"/>
<rect x="1469.01" y="724.86" width="3.51" height="27.31" fill="#204376"/>
<rect x="1472.52" y="724.86" width="3.51" height="27.31" fill="#28558c"/>
<rect x="1479.54" y="724.86" width="3.51" height="27.31" fill="#1e3f71"/>
<rect x="1483.04" y="724.86" width="3.51" height="27.31" fill="#0c1845"/>
<rect x="1486.55" y="724.86" width="3.51" height="27.31" fill="#29578e"/>
<rect x="1490.06" y="724.86" width="3.51" height="27.31" fill="#265085"/>
<rect x="1493.56" y="724.86" width="3.51" height="27.31" fill="#21467a"/>
<rect x="1497.07" y="724.86" width="3.51" height="27.31" fill="#08103b"/>
<rect x="1500.58" y="724.86" width="3.51" height="27.31" fill="#040630"/>
<rect x="1504.09" y="724.86" width="3.51" height="27.31" fill="#040631"/>
<rect x="1507.59" y="724.86" width="3.51" height="27.31" fill="#1b396b"/>
<rect x="1514.61" y="724.86" width="3.51" height="27.31" fill="#234b80"/>
<rect x="1521.62" y="724.86" width="3.51" height="27.31" fill="#0f1f4d"/>
<rect x="1525.13" y="724.86" width="3.51" height="27.31" fill="#214579"/>
<rect x="1528.64" y="724.86" width="3.51" height="27.31" fill="#0e1b49"/>
<rect x="1535.65" y="724.86" width="3.51" height="27.31" fill="#214579"/>
<rect x="1539.16" y="724.86" width="3.51" height="27.31" fill="#30669f"/>
<rect x="1542.66" y="724.86" width="3.51" height="27.31" fill="#326ba6"/>
<rect x="1560.2" y="724.86" width="3.51" height="27.31" fill="#080f3b"/>
<rect x="1563.71" y="724.86" width="3.51" height="27.31" fill="#10204d"/>
<rect x="1574.23" y="724.86" width="3.51" height="27.31" fill="#08103b"/>
<rect x="1577.74" y="724.86" width="3.51" height="27.31" fill="#122453"/>
<rect x="1588.26" y="724.86" width="3.51" height="27.31" fill="#0d1a47"/>
<rect x="1595.27" y="724.86" width="3.51" height="27.31" fill="#112250"/>
<rect x="1598.78" y="724.86" width="3.51" height="27.31" fill="#0e1d4a"/>
<rect x="1602.29" y="724.86" width="3.51" height="27.31" fill="#132756"/>
<rect x="1605.79" y="724.86" width="3.51" height="27.31" fill="#1b396b"/>
<rect x="1609.3" y="724.86" width="3.51" height="27.31" fill="#050832"/>
<rect x="1612.81" y="724.86" width="3.51" height="27.31" fill="#10214e"/>
<rect x="1616.31" y="724.86" width="3.51" height="27.31" fill="#09123e"/>
<rect x="1619.82" y="724.86" width="3.51" height="27.31" fill="#142a59"/>
<rect x="1623.33" y="724.86" width="3.51" height="27.31" fill="#0f1e4b"/>
<rect x="1630.34" y="724.86" width="3.51" height="27.31" fill="#080e3a"/>
<rect x="1637.36" y="724.86" width="3.51" height="27.31" fill="#2f639d"/>
<rect x="1644.37" y="724.86" width="3.51" height="27.31" fill="#22497d"/>
<rect x="1647.88" y="724.86" width="3.51" height="27.31" fill="#050832"/>
<rect x="1651.39" y="724.86" width="3.51" height="27.31" fill="#0f1e4c"/>
<rect x="1654.89" y="724.86" width="3.51" height="27.31" fill="#204377"/>
<rect x="1177.92" y="752.17" width="3.51" height="27.31" fill="#173161"/>
<rect x="1181.43" y="752.17" width="3.51" height="27.31" fill="#0a1441"/>
<rect x="1184.94" y="752.17" width="3.51" height="27.31" fill="#070d39"/>
<rect x="1188.44" y="752.17" width="3.51" height="27.31" fill="#29578f"/>
<rect x="1234.04" y="752.17" width="3.51" height="27.31" fill="#0f1f4d"/>
<rect x="1265.6" y="752.17" width="3.51" height="27.31" fill="#234a7e"/>
<rect x="1269.11" y="752.17" width="3.51" height="27.31" fill="#040631"/>
<rect x="1276.12" y="752.17" width="3.51" height="27.31" fill="#080f3a"/>
<rect x="1279.63" y="752.17" width="3.51" height="27.31" fill="#030530"/>
<rect x="1283.14" y="752.17" width="3.51" height="27.31" fill="#1a3667"/>
<rect x="1286.64" y="752.17" width="3.51" height="27.31" fill="#0d1a47"/>
<rect x="1290.15" y="752.17" width="3.51" height="27.31" fill="#0e1d4b"/>
<rect x="1293.66" y="752.17" width="3.51" height="27.31" fill="#09113d"/>
<rect x="1297.16" y="752.17" width="3.51" height="27.31" fill="#0d1a47"/>
<rect x="1300.67" y="752.17" width="3.51" height="27.31" fill="#21467a"/>
<rect x="1307.69" y="752.17" width="3.51" height="27.31" fill="#0c1845"/>
<rect x="1311.19" y="752.17" width="3.51" height="27.31" fill="#0d1b48"/>
<rect x="1314.7" y="752.17" width="3.51" height="27.31" fill="#204477"/>
<rect x="1318.21" y="752.17" width="3.51" height="27.31" fill="#070e39"/>
<rect x="1321.71" y="752.17" width="3.51" height="27.31" fill="#173060"/>
<rect x="1325.22" y="752.17" width="3.51" height="27.31" fill="#1e4072"/>
<rect x="1328.73" y="752.17" width="3.51" height="27.31" fill="#09103c"/>
<rect x="1335.74" y="752.17" width="3.51" height="27.31" fill="#0f1e4b"/>
<rect x="1349.77" y="752.17" width="3.51" height="27.31" fill="#1b396b"/>
<rect x="1353.28" y="752.17" width="3.51" height="27.31" fill="#3067a1"/>
<rect x="1356.79" y="752.17" width="3.51" height="27.31" fill="#193465"/>
<rect x="1360.29" y="752.17" width="3.51" height="27.31" fill="#3878b5"/>
<rect x="1363.8" y="752.17" width="3.51" height="27.31" fill="#070e39"/>
<rect x="1374.32" y="752.17" width="3.51" height="27.31" fill="#1b3869"/>
<rect x="1377.83" y="752.17" width="3.51" height="27.31" fill="#0c1946"/>
<rect x="1381.34" y="752.17" width="3.51" height="27.31" fill="#1b3869"/>
<rect x="1384.84" y="752.17" width="3.51" height="27.31" fill="#060b36"/>
<rect x="1388.35" y="752.17" width="3.51" height="27.31" fill="#0f1f4c"/>
<rect x="1391.86" y="752.17" width="3.51" height="27.31" fill="#070d39"/>
<rect x="1395.36" y="752.17" width="3.51" height="27.31" fill="#3674b0"/>
<rect x="1398.87" y="752.17" width="3.51" height="27.31" fill="#0a1441"/>
<rect x="1402.38" y="752.17" width="3.51" height="27.31" fill="#080f3a"/>
<rect x="1405.89" y="752.17" width="3.51" height="27.31" fill="#0f1e4b"/>
<rect x="1409.39" y="752.17" width="3.51" height="27.31" fill="#040530"/>
<rect x="1412.9" y="752.17" width="3.51" height="27.31" fill="#3776b3"/>
<rect x="1416.41" y="752.17" width="3.51" height="27.31" fill="#336ca7"/>
<rect x="1419.91" y="752.17" width="3.51" height="27.31" fill="#1c3a6c"/>
<rect x="1426.93" y="752.17" width="3.51" height="27.31" fill="#204477"/>
<rect x="1430.44" y="752.17" width="3.51" height="27.31" fill="#0c1946"/>
<rect x="1437.45" y="752.17" width="3.51" height="27.31" fill="#28558c"/>
<rect x="1440.96" y="752.17" width="3.51" height="27.31" fill="#28558b"/>
<rect x="1444.46" y="752.17" width="3.51" height="27.31" fill="#3e85c2"/>
<rect x="1447.97" y="752.17" width="3.51" height="27.31" fill="#2c5d95"/>
<rect x="1451.48" y="752.17" width="3.51" height="27.31" fill="#265288"/>
<rect x="1454.99" y="752.17" width="3.51" height="27.31" fill="#2e639c"/>
<rect x="1458.49" y="752.17" width="3.51" height="27.31" fill="#3067a1"/>
<rect x="1462" y="752.17" width="3.51" height="27.31" fill="#3168a3"/>
<rect x="1465.51" y="752.17" width="3.51" height="27.31" fill="#2b5c94"/>
<rect x="1469.01" y="752.17" width="3.51" height="27.31" fill="#275389"/>
<rect x="1472.52" y="752.17" width="3.51" height="27.31" fill="#0d1b48"/>
<rect x="1476.03" y="752.17" width="3.51" height="27.31" fill="#10204e"/>
<rect x="1486.55" y="752.17" width="3.51" height="27.31" fill="#1d3e70"/>
<rect x="1490.06" y="752.17" width="3.51" height="27.31" fill="#10214f"/>
<rect x="1497.07" y="752.17" width="3.51" height="27.31" fill="#28568d"/>
<rect x="1500.58" y="752.17" width="3.51" height="27.31" fill="#23497e"/>
<rect x="1504.09" y="752.17" width="3.51" height="27.31" fill="#28558c"/>
<rect x="1507.59" y="752.17" width="3.51" height="27.31" fill="#1c3a6b"/>
<rect x="1514.61" y="752.17" width="3.51" height="27.31" fill="#0f1d4b"/>
<rect x="1518.11" y="752.17" width="3.51" height="27.31" fill="#2d6199"/>
<rect x="1521.62" y="752.17" width="3.51" height="27.31" fill="#234a7e"/>
<rect x="1525.13" y="752.17" width="3.51" height="27.31" fill="#0a1440"/>
<rect x="1528.64" y="752.17" width="3.51" height="27.31" fill="#0c1743"/>
<rect x="1532.14" y="752.17" width="3.51" height="27.31" fill="#214579"/>
<rect x="1535.65" y="752.17" width="3.51" height="27.31" fill="#050934"/>
<rect x="1539.16" y="752.17" width="3.51" height="27.31" fill="#265186"/>
<rect x="1542.66" y="752.17" width="3.51" height="27.31" fill="#070d38"/>
<rect x="1546.17" y="752.17" width="3.51" height="27.31" fill="#040731"/>
<rect x="1549.68" y="752.17" width="3.51" height="27.31" fill="#204377"/>
<rect x="1553.19" y="752.17" width="3.51" height="27.31" fill="#3067a1"/>
<rect x="1556.69" y="752.17" width="3.51" height="27.31" fill="#254e83"/>
<rect x="1560.2" y="752.17" width="3.51" height="27.31" fill="#3879b6"/>
<rect x="1563.71" y="752.17" width="3.51" height="27.31" fill="#204376"/>
<rect x="1567.21" y="752.17" width="3.51" height="27.31" fill="#4592cd"/>
<rect x="1570.72" y="752.17" width="3.51" height="27.31" fill="#2e619a"/>
<rect x="1574.23" y="752.17" width="3.51" height="27.31" fill="#28548b"/>
<rect x="1577.74" y="752.17" width="3.51" height="27.31" fill="#193364"/>
<rect x="1581.24" y="752.17" width="3.51" height="27.31" fill="#1a3667"/>
<rect x="1584.75" y="752.17" width="3.51" height="27.31" fill="#3e83c0"/>
<rect x="1588.26" y="752.17" width="3.51" height="27.31" fill="#2f649d"/>
<rect x="1591.76" y="752.17" width="3.51" height="27.31" fill="#2a5a91"/>
<rect x="1595.27" y="752.17" width="3.51" height="27.31" fill="#1d3c6e"/>
<rect x="1598.78" y="752.17" width="3.51" height="27.31" fill="#3878b5"/>
<rect x="1602.29" y="752.17" width="3.51" height="27.31" fill="#28548a"/>
<rect x="1605.79" y="752.17" width="3.51" height="27.31" fill="#4089c5"/>
<rect x="1609.3" y="752.17" width="3.51" height="27.31" fill="#3776b3"/>
<rect x="1612.81" y="752.17" width="3.51" height="27.31" fill="#2b5a92"/>
<rect x="1616.31" y="752.17" width="3.51" height="27.31" fill="#1d3d6f"/>
<rect x="1619.82" y="752.17" width="3.51" height="27.31" fill="#0b1541"/>
<rect x="1623.33" y="752.17" width="3.51" height="27.31" fill="#204275"/>
<rect x="1626.84" y="752.17" width="3.51" height="27.31" fill="#0b1642"/>
<rect x="1630.34" y="752.17" width="3.51" height="27.31" fill="#244d82"/>
<rect x="1633.85" y="752.17" width="3.51" height="27.31" fill="#060b36"/>
<rect x="1637.36" y="752.17" width="3.51" height="27.31" fill="#060b36"/>
<rect x="1640.86" y="752.17" width="3.51" height="27.31" fill="#193364"/>
<rect x="1644.37" y="752.17" width="3.51" height="27.31" fill="#1f4174"/>
<rect x="1647.88" y="752.17" width="3.51" height="27.31" fill="#0f1e4c"/>
<rect x="1651.39" y="752.17" width="3.51" height="27.31" fill="#152c5b"/>
<rect x="1654.89" y="752.17" width="3.51" height="27.31" fill="#0d1946"/>
<rect x="1241.05" y="779.49" width="3.51" height="27.31" fill="#1b396b"/>
<rect x="1244.56" y="779.49" width="3.51" height="27.31" fill="#0e1b48"/>
<rect x="1248.06" y="779.49" width="3.51" height="27.31" fill="#204376"/>
<rect x="1276.12" y="779.49" width="3.51" height="27.31" fill="#0c1744"/>
<rect x="1283.14" y="779.49" width="3.51" height="27.31" fill="#09113d"/>
<rect x="1286.64" y="779.49" width="3.51" height="27.31" fill="#152c5c"/>
<rect x="1293.66" y="779.49" width="3.51" height="27.31" fill="#0f1f4d"/>
<rect x="1297.16" y="779.49" width="3.51" height="27.31" fill="#0a133f"/>
<rect x="1300.67" y="779.49" width="3.51" height="27.31" fill="#0d1b48"/>
<rect x="1304.18" y="779.49" width="3.51" height="27.31" fill="#0d1946"/>
<rect x="1307.69" y="779.49" width="3.51" height="27.31" fill="#204478"/>
<rect x="1321.71" y="779.49" width="3.51" height="27.31" fill="#1b3869"/>
<rect x="1325.22" y="779.49" width="3.51" height="27.31" fill="#193565"/>
<rect x="1328.73" y="779.49" width="3.51" height="27.31" fill="#1d3d6f"/>
<rect x="1332.24" y="779.49" width="3.51" height="27.31" fill="#040732"/>
<rect x="1339.25" y="779.49" width="3.51" height="27.31" fill="#254f84"/>
<rect x="1342.76" y="779.49" width="3.51" height="27.31" fill="#0d1b48"/>
<rect x="1346.26" y="779.49" width="3.51" height="27.31" fill="#22497d"/>
<rect x="1349.77" y="779.49" width="3.51" height="27.31" fill="#172f5f"/>
<rect x="1353.28" y="779.49" width="3.51" height="27.31" fill="#21467a"/>
<rect x="1356.79" y="779.49" width="3.51" height="27.31" fill="#09113d"/>
<rect x="1360.29" y="779.49" width="3.51" height="27.31" fill="#0a133f"/>
<rect x="1395.36" y="779.49" width="3.51" height="27.31" fill="#10214f"/>
<rect x="1402.38" y="779.49" width="3.51" height="27.31" fill="#0e1c49"/>
<rect x="1405.89" y="779.49" width="3.51" height="27.31" fill="#10214f"/>
<rect x="1409.39" y="779.49" width="3.51" height="27.31" fill="#183161"/>
<rect x="1412.9" y="779.49" width="3.51" height="27.31" fill="#0a1440"/>
<rect x="1419.91" y="779.49" width="3.51" height="27.31" fill="#080f3a"/>
<rect x="1423.42" y="779.49" width="3.51" height="27.31" fill="#214579"/>
<rect x="1426.93" y="779.49" width="3.51" height="27.31" fill="#0f1e4c"/>
<rect x="1430.44" y="779.49" width="3.51" height="27.31" fill="#0b1541"/>
<rect x="1433.94" y="779.49" width="3.51" height="27.31" fill="#09113d"/>
<rect x="1437.45" y="779.49" width="3.51" height="27.31" fill="#244d82"/>
<rect x="1444.46" y="779.49" width="3.51" height="27.31" fill="#193565"/>
<rect x="1447.97" y="779.49" width="3.51" height="27.31" fill="#0c1946"/>
<rect x="1451.48" y="779.49" width="3.51" height="27.31" fill="#040630"/>
<rect x="1454.99" y="779.49" width="3.51" height="27.31" fill="#09123e"/>
<rect x="1462" y="779.49" width="3.51" height="27.31" fill="#09113d"/>
<rect x="1465.51" y="779.49" width="3.51" height="27.31" fill="#0a1440"/>
<rect x="1469.01" y="779.49" width="3.51" height="27.31" fill="#112351"/>
<rect x="1472.52" y="779.49" width="3.51" height="27.31" fill="#0d1a47"/>
<rect x="1486.55" y="779.49" width="3.51" height="27.31" fill="#0d1946"/>
<rect x="1490.06" y="779.49" width="3.51" height="27.31" fill="#08103c"/>
<rect x="1493.56" y="779.49" width="3.51" height="27.31" fill="#070d38"/>
<rect x="1497.07" y="779.49" width="3.51" height="27.31" fill="#070e39"/>
<rect x="1500.58" y="779.49" width="3.51" height="27.31" fill="#0d1a47"/>
<rect x="1504.09" y="779.49" width="3.51" height="27.31" fill="#132655"/>
<rect x="1507.59" y="779.49" width="3.51" height="27.31" fill="#1d3d6f"/>
<rect x="1511.1" y="779.49" width="3.51" height="27.31" fill="#0f1f4c"/>
<rect x="1514.61" y="779.49" width="3.51" height="27.31" fill="#112250"/>
<rect x="1518.11" y="779.49" width="3.51" height="27.31" fill="#173060"/>
<rect x="1521.62" y="779.49" width="3.51" height="27.31" fill="#09123e"/>
<rect x="1525.13" y="779.49" width="3.51" height="27.31" fill="#0a133f"/>
<rect x="1532.14" y="779.49" width="3.51" height="27.31" fill="#204477"/>
<rect x="1535.65" y="779.49" width="3.51" height="27.31" fill="#070e39"/>
<rect x="1539.16" y="779.49" width="3.51" height="27.31" fill="#070e39"/>
<rect x="1542.66" y="779.49" width="3.51" height="27.31" fill="#0c1845"/>
<rect x="1546.17" y="779.49" width="3.51" height="27.31" fill="#040630"/>
<rect x="1549.68" y="779.49" width="3.51" height="27.31" fill="#0d1946"/>
<rect x="1553.19" y="779.49" width="3.51" height="27.31" fill="#204376"/>
<rect x="1556.69" y="779.49" width="3.51" height="27.31" fill="#040631"/>
<rect x="1570.72" y="779.49" width="3.51" height="27.31" fill="#193465"/>
<rect x="1574.23" y="779.49" width="3.51" height="27.31" fill="#0e1d4a"/>
<rect x="1577.74" y="779.49" width="3.51" height="27.31" fill="#204477"/>
<rect x="1584.75" y="779.49" width="3.51" height="27.31" fill="#1a3768"/>
<rect x="1591.76" y="779.49" width="3.51" height="27.31" fill="#10214f"/>
<rect x="1595.27" y="779.49" width="3.51" height="27.31" fill="#050934"/>
<rect x="1598.78" y="779.49" width="3.51" height="27.31" fill="#080f3b"/>
<rect x="1602.29" y="779.49" width="3.51" height="27.31" fill="#162d5d"/>
<rect x="1605.79" y="779.49" width="3.51" height="27.31" fill="#1e3f72"/>
<rect x="1609.3" y="779.49" width="3.51" height="27.31" fill="#162e5d"/>
<rect x="1612.81" y="779.49" width="3.51" height="27.31" fill="#0c1844"/>
<rect x="1616.31" y="779.49" width="3.51" height="27.31" fill="#132755"/>
<rect x="1619.82" y="779.49" width="3.51" height="27.31" fill="#09123e"/>
<rect x="1623.33" y="779.49" width="3.51" height="27.31" fill="#244c81"/>
<rect x="1626.84" y="779.49" width="3.51" height="27.31" fill="#0c1845"/>
<rect x="1630.34" y="779.49" width="3.51" height="27.31" fill="#21467a"/>
<rect x="1647.88" y="779.49" width="3.51" height="27.31" fill="#0c1845"/>
<rect x="1241.05" y="806.8" width="3.51" height="27.31" fill="#0f1f4d"/>
<rect x="1244.56" y="806.8" width="3.51" height="27.31" fill="#09113d"/>
<rect x="1248.06" y="806.8" width="3.51" height="27.31" fill="#09103c"/>
<rect x="1311.19" y="806.8" width="3.51" height="27.31" fill="#0f1f4d"/>
<rect x="1314.7" y="806.8" width="3.51" height="27.31" fill="#234a7e"/>
<rect x="1318.21" y="806.8" width="3.51" height="27.31" fill="#254e83"/>
<rect x="1321.71" y="806.8" width="3.51" height="27.31" fill="#10214f"/>
<rect x="1325.22" y="806.8" width="3.51" height="27.31" fill="#0f1f4c"/>
<rect x="1339.25" y="806.8" width="3.51" height="27.31" fill="#2e629b"/>
<rect x="1342.76" y="806.8" width="3.51" height="27.31" fill="#0c1744"/>
<rect x="1349.77" y="806.8" width="3.51" height="27.31" fill="#060a35"/>
<rect x="1353.28" y="806.8" width="3.51" height="27.31" fill="#060b36"/>
<rect x="1395.36" y="806.8" width="3.51" height="27.31" fill="#183262"/>
<rect x="1398.87" y="806.8" width="3.51" height="27.31" fill="#244b80"/>
<rect x="1405.89" y="806.8" width="3.51" height="27.31" fill="#09123e"/>
<rect x="1419.91" y="806.8" width="3.51" height="27.31" fill="#10204e"/>
<rect x="1423.42" y="806.8" width="3.51" height="27.31" fill="#1d3c6e"/>
<rect x="1430.44" y="806.8" width="3.51" height="27.31" fill="#183262"/>
<rect x="1437.45" y="806.8" width="3.51" height="27.31" fill="#3c80be"/>
<rect x="1447.97" y="806.8" width="3.51" height="27.31" fill="#030530"/>
<rect x="1451.48" y="806.8" width="3.51" height="27.31" fill="#142958"/>
<rect x="1454.99" y="806.8" width="3.51" height="27.31" fill="#080f3a"/>
<rect x="1458.49" y="806.8" width="3.51" height="27.31" fill="#244c81"/>
<rect x="1465.51" y="806.8" width="3.51" height="27.31" fill="#112351"/>
<rect x="1472.52" y="806.8" width="3.51" height="27.31" fill="#2b5b93"/>
<rect x="1479.54" y="806.8" width="3.51" height="27.31" fill="#1a3566"/>
<rect x="1493.56" y="806.8" width="3.51" height="27.31" fill="#0e1c49"/>
<rect x="1497.07" y="806.8" width="3.51" height="27.31" fill="#1f4073"/>
<rect x="1504.09" y="806.8" width="3.51" height="27.31" fill="#162d5d"/>
<rect x="1507.59" y="806.8" width="3.51" height="27.31" fill="#0c1845"/>
<rect x="1514.61" y="806.8" width="3.51" height="27.31" fill="#23497d"/>
<rect x="1521.62" y="806.8" width="3.51" height="27.31" fill="#080e3a"/>
<rect x="1525.13" y="806.8" width="3.51" height="27.31" fill="#244b80"/>
<rect x="1528.64" y="806.8" width="3.51" height="27.31" fill="#050833"/>
<rect x="1532.14" y="806.8" width="3.51" height="27.31" fill="#060b36"/>
<rect x="1539.16" y="806.8" width="3.51" height="27.31" fill="#27538a"/>
<rect x="1542.66" y="806.8" width="3.51" height="27.31" fill="#0c1844"/>
<rect x="1549.68" y="806.8" width="3.51" height="27.31" fill="#0b1541"/>
<rect x="1556.69" y="806.8" width="3.51" height="27.31" fill="#0c1845"/>
<rect x="1570.72" y="806.8" width="3.51" height="27.31" fill="#040731"/>
<rect x="1574.23" y="806.8" width="3.51" height="27.31" fill="#080f3a"/>
<rect x="1581.24" y="806.8" width="3.51" height="27.31" fill="#0b1643"/>
<rect x="1584.75" y="806.8" width="3.51" height="27.31" fill="#0b1541"/>
<rect x="1588.26" y="806.8" width="3.51" height="27.31" fill="#040732"/>
<rect x="1595.27" y="806.8" width="3.51" height="27.31" fill="#122452"/>
<rect x="1598.78" y="806.8" width="3.51" height="27.31" fill="#070d38"/>
<rect x="1602.29" y="806.8" width="3.51" height="27.31" fill="#1b396a"/>
<rect x="1605.79" y="806.8" width="3.51" height="27.31" fill="#0e1b48"/>
<rect x="1609.3" y="806.8" width="3.51" height="27.31" fill="#0f1d4b"/>
<rect x="1612.81" y="806.8" width="3.51" height="27.31" fill="#060a35"/>
<rect x="1616.31" y="806.8" width="3.51" height="27.31" fill="#22477b"/>
<rect x="1619.82" y="806.8" width="3.51" height="27.31" fill="#09103c"/>
<rect x="1626.84" y="806.8" width="3.51" height="27.31" fill="#265288"/>
<rect x="1630.34" y="806.8" width="3.51" height="27.31" fill="#0a133f"/>
<rect x="1633.85" y="806.8" width="3.51" height="27.31" fill="#2a5990"/>
<rect x="1637.36" y="806.8" width="3.51" height="27.31" fill="#0b1542"/>
<rect x="1640.86" y="806.8" width="3.51" height="27.31" fill="#070d38"/>
<rect x="1644.37" y="806.8" width="3.51" height="27.31" fill="#3776b3"/>
<rect x="1647.88" y="806.8" width="3.51" height="27.31" fill="#0f1e4b"/>
<rect x="1651.39" y="806.8" width="3.51" height="27.31" fill="#183161"/>
<rect x="1654.89" y="806.8" width="3.51" height="27.31" fill="#132755"/>
<rect x="1167.4" y="834.11" width="3.51" height="27.31" fill="#265085"/>
<rect x="1170.91" y="834.11" width="3.51" height="27.31" fill="#3a7dbb"/>
<rect x="1174.41" y="834.11" width="3.51" height="27.31" fill="#3e84c1"/>
<rect x="1177.92" y="834.11" width="3.51" height="27.31" fill="#10214f"/>
<rect x="1181.43" y="834.11" width="3.51" height="27.31" fill="#265085"/>
<rect x="1184.94" y="834.11" width="3.51" height="27.31" fill="#070c37"/>
<rect x="1188.44" y="834.11" width="3.51" height="27.31" fill="#0f1f4d"/>
<rect x="1195.46" y="834.11" width="3.51" height="27.31" fill="#050934"/>
<rect x="1198.96" y="834.11" width="3.51" height="27.31" fill="#080e3a"/>
<rect x="1205.98" y="834.11" width="3.51" height="27.31" fill="#0a1440"/>
<rect x="1212.99" y="834.11" width="3.51" height="27.31" fill="#193364"/>
<rect x="1227.02" y="834.11" width="3.51" height="27.31" fill="#10204e"/>
<rect x="1230.53" y="834.11" width="3.51" height="27.31" fill="#060a35"/>
<rect x="1234.04" y="834.11" width="3.51" height="27.31" fill="#040630"/>
<rect x="1241.05" y="834.11" width="3.51" height="27.31" fill="#53afe6"/>
<rect x="1244.56" y="834.11" width="3.51" height="27.31" fill="#2c5d95"/>
<rect x="1248.06" y="834.11" width="3.51" height="27.31" fill="#3878b5"/>
<rect x="1251.57" y="834.11" width="3.51" height="27.31" fill="#070e39"/>
<rect x="1258.59" y="834.11" width="3.51" height="27.31" fill="#0a1340"/>
<rect x="1262.09" y="834.11" width="3.51" height="27.31" fill="#254e83"/>
<rect x="1269.11" y="834.11" width="3.51" height="27.31" fill="#122554"/>
<rect x="1272.61" y="834.11" width="3.51" height="27.31" fill="#183161"/>
<rect x="1276.12" y="834.11" width="3.51" height="27.31" fill="#070d38"/>
<rect x="1279.63" y="834.11" width="3.51" height="27.31" fill="#09103c"/>
<rect x="1293.66" y="834.11" width="3.51" height="27.31" fill="#0b1643"/>
<rect x="1297.16" y="834.11" width="3.51" height="27.31" fill="#265187"/>
<rect x="1300.67" y="834.11" width="3.51" height="27.31" fill="#4491cc"/>
<rect x="1304.18" y="834.11" width="3.51" height="27.31" fill="#275288"/>
<rect x="1307.69" y="834.11" width="3.51" height="27.31" fill="#326aa5"/>
<rect x="1311.19" y="834.11" width="3.51" height="27.31" fill="#254f84"/>
<rect x="1314.7" y="834.11" width="3.51" height="27.31" fill="#10214f"/>
<rect x="1318.21" y="834.11" width="3.51" height="27.31" fill="#0c1845"/>
<rect x="1321.71" y="834.11" width="3.51" height="27.31" fill="#173161"/>
<rect x="1325.22" y="834.11" width="3.51" height="27.31" fill="#29578f"/>
<rect x="1328.73" y="834.11" width="3.51" height="27.31" fill="#3066a0"/>
<rect x="1332.24" y="834.11" width="3.51" height="27.31" fill="#3c80be"/>
<rect x="1335.74" y="834.11" width="3.51" height="27.31" fill="#2e639c"/>
<rect x="1339.25" y="834.11" width="3.51" height="27.31" fill="#499ad4"/>
<rect x="1342.76" y="834.11" width="3.51" height="27.31" fill="#56b4eb"/>
<rect x="1346.26" y="834.11" width="3.51" height="27.31" fill="#60c8fc"/>
<rect x="1349.77" y="834.11" width="3.51" height="27.31" fill="#3d82c0"/>
<rect x="1353.28" y="834.11" width="3.51" height="27.31" fill="#60c8fc"/>
<rect x="1356.79" y="834.11" width="3.51" height="27.31" fill="#50a7e0"/>
<rect x="1360.29" y="834.11" width="3.51" height="27.31" fill="#4899d3"/>
<rect x="1363.8" y="834.11" width="3.51" height="27.31" fill="#336da8"/>
<rect x="1367.31" y="834.11" width="3.51" height="27.31" fill="#0f1f4c"/>
<rect x="1370.81" y="834.11" width="3.51" height="27.31" fill="#28558b"/>
<rect x="1374.32" y="834.11" width="3.51" height="27.31" fill="#1c3b6c"/>
<rect x="1377.83" y="834.11" width="3.51" height="27.31" fill="#254d83"/>
<rect x="1381.34" y="834.11" width="3.51" height="27.31" fill="#1e3e71"/>
<rect x="1384.84" y="834.11" width="3.51" height="27.31" fill="#28558c"/>
<rect x="1388.35" y="834.11" width="3.51" height="27.31" fill="#3a7cb9"/>
<rect x="1395.36" y="834.11" width="3.51" height="27.31" fill="#070e39"/>
<rect x="1398.87" y="834.11" width="3.51" height="27.31" fill="#23497d"/>
<rect x="1402.38" y="834.11" width="3.51" height="27.31" fill="#183262"/>
<rect x="1405.89" y="834.11" width="3.51" height="27.31" fill="#3673b0"/>
<rect x="1409.39" y="834.11" width="3.51" height="27.31" fill="#1f4275"/>
<rect x="1412.9" y="834.11" width="3.51" height="27.31" fill="#050934"/>
<rect x="1416.41" y="834.11" width="3.51" height="27.31" fill="#060a35"/>
<rect x="1419.91" y="834.11" width="3.51" height="27.31" fill="#050a35"/>
<rect x="1423.42" y="834.11" width="3.51" height="27.31" fill="#4088c5"/>
<rect x="1426.93" y="834.11" width="3.51" height="27.31" fill="#4898d2"/>
<rect x="1430.44" y="834.11" width="3.51" height="27.31" fill="#54afe6"/>
<rect x="1433.94" y="834.11" width="3.51" height="27.31" fill="#60c8fc"/>
<rect x="1437.45" y="834.11" width="3.51" height="27.31" fill="#3b7ebc"/>
<rect x="1440.96" y="834.11" width="3.51" height="27.31" fill="#4898d2"/>
<rect x="1444.46" y="834.11" width="3.51" height="27.31" fill="#4491cc"/>
<rect x="1447.97" y="834.11" width="3.51" height="27.31" fill="#53aee5"/>
<rect x="1451.48" y="834.11" width="3.51" height="27.31" fill="#4491cc"/>
<rect x="1454.99" y="834.11" width="3.51" height="27.31" fill="#3674b0"/>
<rect x="1458.49" y="834.11" width="3.51" height="27.31" fill="#448fcb"/>
<rect x="1462" y="834.11" width="3.51" height="27.31" fill="#3673b0"/>
<rect x="1465.51" y="834.11" width="3.51" height="27.31" fill="#3b7ebc"/>
<rect x="1469.01" y="834.11" width="3.51" height="27.31" fill="#3879b6"/>
<rect x="1472.52" y="834.11" width="3.51" height="27.31" fill="#4694cf"/>
<rect x="1476.03" y="834.11" width="3.51" height="27.31" fill="#3674b1"/>
<rect x="1479.54" y="834.11" width="3.51" height="27.31" fill="#4797d1"/>
<rect x="1483.04" y="834.11" width="3.51" height="27.31" fill="#499ad4"/>
<rect x="1486.55" y="834.11" width="3.51" height="27.31" fill="#4088c4"/>
<rect x="1490.06" y="834.11" width="3.51" height="27.31" fill="#418bc7"/>
<rect x="1493.56" y="834.11" width="3.51" height="27.31" fill="#0b1541"/>
<rect x="1497.07" y="834.11" width="3.51" height="27.31" fill="#60c8fc"/>
<rect x="1500.58" y="834.11" width="3.51" height="27.31" fill="#2c5d95"/>
<rect x="1507.59" y="834.11" width="3.51" height="27.31" fill="#4b9dd7"/>
<rect x="1511.1" y="834.11" width="3.51" height="27.31" fill="#448fcb"/>
<rect x="1514.61" y="834.11" width="3.51" height="27.31" fill="#336ea9"/>
<rect x="1518.11" y="834.11" width="3.51" height="27.31" fill="#3571ad"/>
<rect x="1521.62" y="834.11" width="3.51" height="27.31" fill="#3879b6"/>
<rect x="1525.13" y="834.11" width="3.51" height="27.31" fill="#3571ad"/>
<rect x="1528.64" y="834.11" width="3.51" height="27.31" fill="#1d3e70"/>
<rect x="1532.14" y="834.11" width="3.51" height="27.31" fill="#3168a2"/>
<rect x="1535.65" y="834.11" width="3.51" height="27.31" fill="#2c5d95"/>
<rect x="1539.16" y="834.11" width="3.51" height="27.31" fill="#4592cd"/>
<rect x="1542.66" y="834.11" width="3.51" height="27.31" fill="#3c80be"/>
<rect x="1546.17" y="834.11" width="3.51" height="27.31" fill="#3168a3"/>
<rect x="1549.68" y="834.11" width="3.51" height="27.31" fill="#4088c5"/>
<rect x="1553.19" y="834.11" width="3.51" height="27.31" fill="#3878b5"/>
<rect x="1556.69" y="834.11" width="3.51" height="27.31" fill="#29578e"/>
<rect x="1560.2" y="834.11" width="3.51" height="27.31" fill="#3673b0"/>
<rect x="1563.71" y="834.11" width="3.51" height="27.31" fill="#1b3869"/>
<rect x="1567.21" y="834.11" width="3.51" height="27.31" fill="#2b5b92"/>
<rect x="1570.72" y="834.11" width="3.51" height="27.31" fill="#2f649e"/>
<rect x="1574.23" y="834.11" width="3.51" height="27.31" fill="#29568d"/>
<rect x="1577.74" y="834.11" width="3.51" height="27.31" fill="#4999d3"/>
<rect x="1581.24" y="834.11" width="3.51" height="27.31" fill="#52ace4"/>
<rect x="1584.75" y="834.11" width="3.51" height="27.31" fill="#5cc0f5"/>
<rect x="1588.26" y="834.11" width="3.51" height="27.31" fill="#326ba6"/>
<rect x="1591.76" y="834.11" width="3.51" height="27.31" fill="#53aee6"/>
<rect x="1595.27" y="834.11" width="3.51" height="27.31" fill="#5ec4f8"/>
<rect x="1598.78" y="834.11" width="3.51" height="27.31" fill="#4999d3"/>
<rect x="1602.29" y="834.11" width="3.51" height="27.31" fill="#499ad4"/>
<rect x="1605.79" y="834.11" width="3.51" height="27.31" fill="#54b0e7"/>
<rect x="1609.3" y="834.11" width="3.51" height="27.31" fill="#428cc8"/>
<rect x="1612.81" y="834.11" width="3.51" height="27.31" fill="#2f659f"/>
<rect x="1616.31" y="834.11" width="3.51" height="27.31" fill="#3c80be"/>
<rect x="1619.82" y="834.11" width="3.51" height="27.31" fill="#3a7bb9"/>
<rect x="1626.84" y="834.11" width="3.51" height="27.31" fill="#60c8fc"/>
<rect x="1630.34" y="834.11" width="3.51" height="27.31" fill="#5bbef3"/>
<rect x="1633.85" y="834.11" width="3.51" height="27.31" fill="#3b7fbc"/>
<rect x="1637.36" y="834.11" width="3.51" height="27.31" fill="#428dc8"/>
<rect x="1640.86" y="834.11" width="3.51" height="27.31" fill="#3d82bf"/>
<rect x="1644.37" y="834.11" width="3.51" height="27.31" fill="#3673af"/>
<rect x="1647.88" y="834.11" width="3.51" height="27.31" fill="#3570ac"/>
<rect x="1651.39" y="834.11" width="3.51" height="27.31" fill="#4591cc"/>
<rect x="1654.89" y="834.11" width="3.51" height="27.31" fill="#54b0e7"/>
<rect x="1181.43" y="861.43" width="3.51" height="27.31" fill="#0b1541"/>
<rect x="1220.01" y="861.43" width="3.51" height="27.31" fill="#10214f"/>
<rect x="1241.05" y="861.43" width="3.51" height="27.31" fill="#254f85"/>
<rect x="1244.56" y="861.43" width="3.51" height="27.31" fill="#1b396a"/>
<rect x="1248.06" y="861.43" width="3.51" height="27.31" fill="#0b1541"/>
<rect x="1258.59" y="861.43" width="3.51" height="27.31" fill="#183363"/>
<rect x="1265.6" y="861.43" width="3.51" height="27.31" fill="#060b37"/>
<rect x="1269.11" y="861.43" width="3.51" height="27.31" fill="#183263"/>
<rect x="1276.12" y="861.43" width="3.51" height="27.31" fill="#1f4173"/>
<rect x="1279.63" y="861.43" width="3.51" height="27.31" fill="#1f4275"/>
<rect x="1283.14" y="861.43" width="3.51" height="27.31" fill="#040732"/>
<rect x="1286.64" y="861.43" width="3.51" height="27.31" fill="#0c1744"/>
<rect x="1297.16" y="861.43" width="3.51" height="27.31" fill="#050934"/>
<rect x="1300.67" y="861.43" width="3.51" height="27.31" fill="#0d1946"/>
<rect x="1304.18" y="861.43" width="3.51" height="27.31" fill="#0c1845"/>
<rect x="1307.69" y="861.43" width="3.51" height="27.31" fill="#0b1542"/>
<rect x="1311.19" y="861.43" width="3.51" height="27.31" fill="#09113d"/>
<rect x="1314.7" y="861.43" width="3.51" height="27.31" fill="#040732"/>
<rect x="1318.21" y="861.43" width="3.51" height="27.31" fill="#1e4072"/>
<rect x="1321.71" y="861.43" width="3.51" height="27.31" fill="#2a5a92"/>
<rect x="1325.22" y="861.43" width="3.51" height="27.31" fill="#060b36"/>
<rect x="1332.24" y="861.43" width="3.51" height="27.31" fill="#2d5f98"/>
<rect x="1335.74" y="861.43" width="3.51" height="27.31" fill="#0a123e"/>
<rect x="1339.25" y="861.43" width="3.51" height="27.31" fill="#0f1e4b"/>
<rect x="1342.76" y="861.43" width="3.51" height="27.31" fill="#1f4275"/>
<rect x="1346.26" y="861.43" width="3.51" height="27.31" fill="#08103b"/>
<rect x="1349.77" y="861.43" width="3.51" height="27.31" fill="#0f1f4d"/>
<rect x="1353.28" y="861.43" width="3.51" height="27.31" fill="#040530"/>
<rect x="1356.79" y="861.43" width="3.51" height="27.31" fill="#1e3e70"/>
<rect x="1360.29" y="861.43" width="3.51" height="27.31" fill="#0c1743"/>
<rect x="1363.8" y="861.43" width="3.51" height="27.31" fill="#1d3d6f"/>
<rect x="1388.35" y="861.43" width="3.51" height="27.31" fill="#060b36"/>
<rect x="1395.36" y="861.43" width="3.51" height="27.31" fill="#2b5c94"/>
<rect x="1398.87" y="861.43" width="3.51" height="27.31" fill="#09123e"/>
<rect x="1402.38" y="861.43" width="3.51" height="27.31" fill="#254e83"/>
<rect x="1409.39" y="861.43" width="3.51" height="27.31" fill="#0c1744"/>
<rect x="1412.9" y="861.43" width="3.51" height="27.31" fill="#0f1f4d"/>
<rect x="1416.41" y="861.43" width="3.51" height="27.31" fill="#09103c"/>
<rect x="1419.91" y="861.43" width="3.51" height="27.31" fill="#050833"/>
<rect x="1426.93" y="861.43" width="3.51" height="27.31" fill="#173161"/>
<rect x="1433.94" y="861.43" width="3.51" height="27.31" fill="#132756"/>
<rect x="1440.96" y="861.43" width="3.51" height="27.31" fill="#080f3b"/>
<rect x="1447.97" y="861.43" width="3.51" height="27.31" fill="#234b7f"/>
<rect x="1451.48" y="861.43" width="3.51" height="27.31" fill="#2f649e"/>
<rect x="1458.49" y="861.43" width="3.51" height="27.31" fill="#2c5e96"/>
<rect x="1462" y="861.43" width="3.51" height="27.31" fill="#336ea9"/>
<rect x="1465.51" y="861.43" width="3.51" height="27.31" fill="#2a5990"/>
<rect x="1469.01" y="861.43" width="3.51" height="27.31" fill="#1c3b6d"/>
<rect x="1472.52" y="861.43" width="3.51" height="27.31" fill="#183161"/>
<rect x="1479.54" y="861.43" width="3.51" height="27.31" fill="#060b36"/>
<rect x="1483.04" y="861.43" width="3.51" height="27.31" fill="#193465"/>
<rect x="1486.55" y="861.43" width="3.51" height="27.31" fill="#080e3a"/>
<rect x="1493.56" y="861.43" width="3.51" height="27.31" fill="#265187"/>
<rect x="1497.07" y="861.43" width="3.51" height="27.31" fill="#070d39"/>
<rect x="1500.58" y="861.43" width="3.51" height="27.31" fill="#0c1845"/>
<rect x="1504.09" y="861.43" width="3.51" height="27.31" fill="#040731"/>
<rect x="1507.59" y="861.43" width="3.51" height="27.31" fill="#0b1541"/>
<rect x="1511.1" y="861.43" width="3.51" height="27.31" fill="#152b5a"/>
<rect x="1514.61" y="861.43" width="3.51" height="27.31" fill="#275389"/>
<rect x="1518.11" y="861.43" width="3.51" height="27.31" fill="#1a3768"/>
<rect x="1521.62" y="861.43" width="3.51" height="27.31" fill="#22477b"/>
<rect x="1525.13" y="861.43" width="3.51" height="27.31" fill="#060b36"/>
<rect x="1528.64" y="861.43" width="3.51" height="27.31" fill="#09113d"/>
<rect x="1532.14" y="861.43" width="3.51" height="27.31" fill="#172f5f"/>
<rect x="1542.66" y="861.43" width="3.51" height="27.31" fill="#08103c"/>
<rect x="1546.17" y="861.43" width="3.51" height="27.31" fill="#0b1542"/>
<rect x="1553.19" y="861.43" width="3.51" height="27.31" fill="#22477b"/>
<rect x="1556.69" y="861.43" width="3.51" height="27.31" fill="#29578e"/>
<rect x="1560.2" y="861.43" width="3.51" height="27.31" fill="#080f3b"/>
<rect x="1563.71" y="861.43" width="3.51" height="27.31" fill="#10204e"/>
<rect x="1567.21" y="861.43" width="3.51" height="27.31" fill="#244d82"/>
<rect x="1570.72" y="861.43" width="3.51" height="27.31" fill="#09113d"/>
<rect x="1574.23" y="861.43" width="3.51" height="27.31" fill="#10204e"/>
<rect x="1581.24" y="861.43" width="3.51" height="27.31" fill="#0b1643"/>
<rect x="1584.75" y="861.43" width="3.51" height="27.31" fill="#0d1a47"/>
<rect x="1588.26" y="861.43" width="3.51" height="27.31" fill="#0e1d4a"/>
<rect x="1591.76" y="861.43" width="3.51" height="27.31" fill="#080f3a"/>
<rect x="1595.27" y="861.43" width="3.51" height="27.31" fill="#0d1a47"/>
<rect x="1598.78" y="861.43" width="3.51" height="27.31" fill="#080f3a"/>
<rect x="1602.29" y="861.43" width="3.51" height="27.31" fill="#0b1542"/>
<rect x="1605.79" y="861.43" width="3.51" height="27.31" fill="#183263"/>
<rect x="1612.81" y="861.43" width="3.51" height="27.31" fill="#1d3c6e"/>
<rect x="1633.85" y="861.43" width="3.51" height="27.31" fill="#28548a"/>
<rect x="1640.86" y="861.43" width="3.51" height="27.31" fill="#265086"/>
<rect x="1647.88" y="861.43" width="3.51" height="27.31" fill="#112250"/>
<rect x="1651.39" y="861.43" width="3.51" height="27.31" fill="#0a133f"/>
<rect x="1654.89" y="861.43" width="3.51" height="27.31" fill="#060c37"/>
<rect x="1181.43" y="888.74" width="3.51" height="27.31" fill="#22487c"/>
<rect x="1234.04" y="888.74" width="3.51" height="27.31" fill="#060a35"/>
<rect x="1248.06" y="888.74" width="3.51" height="27.31" fill="#0f1e4b"/>
<rect x="1258.59" y="888.74" width="3.51" height="27.31" fill="#142958"/>
<rect x="1290.15" y="888.74" width="3.51" height="27.31" fill="#070e39"/>
<rect x="1297.16" y="888.74" width="3.51" height="27.31" fill="#060a35"/>
<rect x="1304.18" y="888.74" width="3.51" height="27.31" fill="#0f1f4d"/>
<rect x="1307.69" y="888.74" width="3.51" height="27.31" fill="#0f1e4b"/>
<rect x="1311.19" y="888.74" width="3.51" height="27.31" fill="#132655"/>
<rect x="1318.21" y="888.74" width="3.51" height="27.31" fill="#10204d"/>
<rect x="1349.77" y="888.74" width="3.51" height="27.31" fill="#040631"/>
<rect x="1353.28" y="888.74" width="3.51" height="27.31" fill="#0e1c49"/>
<rect x="1363.8" y="888.74" width="3.51" height="27.31" fill="#070d39"/>
<rect x="1367.31" y="888.74" width="3.51" height="27.31" fill="#254f85"/>
<rect x="1370.81" y="888.74" width="3.51" height="27.31" fill="#162e5d"/>
<rect x="1423.42" y="888.74" width="3.51" height="27.31" fill="#0a123e"/>
<rect x="1426.93" y="888.74" width="3.51" height="27.31" fill="#0e1d4a"/>
<rect x="1430.44" y="888.74" width="3.51" height="27.31" fill="#040631"/>
<rect x="1433.94" y="888.74" width="3.51" height="27.31" fill="#0b1542"/>
<rect x="1444.46" y="888.74" width="3.51" height="27.31" fill="#1f4174"/>
<rect x="1447.97" y="888.74" width="3.51" height="27.31" fill="#1b3869"/>
<rect x="1458.49" y="888.74" width="3.51" height="27.31" fill="#050934"/>
<rect x="1472.52" y="888.74" width="3.51" height="27.31" fill="#0e1d4a"/>
<rect x="1476.03" y="888.74" width="3.51" height="27.31" fill="#275288"/>
<rect x="1479.54" y="888.74" width="3.51" height="27.31" fill="#0a1441"/>
<rect x="1483.04" y="888.74" width="3.51" height="27.31" fill="#214579"/>
<rect x="1486.55" y="888.74" width="3.51" height="27.31" fill="#29578e"/>
<rect x="1490.06" y="888.74" width="3.51" height="27.31" fill="#112250"/>
<rect x="1493.56" y="888.74" width="3.51" height="27.31" fill="#204377"/>
<rect x="1504.09" y="888.74" width="3.51" height="27.31" fill="#0d1946"/>
<rect x="1507.59" y="888.74" width="3.51" height="27.31" fill="#0a133f"/>
<rect x="1511.1" y="888.74" width="3.51" height="27.31" fill="#172f5e"/>
<rect x="1514.61" y="888.74" width="3.51" height="27.31" fill="#162d5d"/>
<rect x="1518.11" y="888.74" width="3.51" height="27.31" fill="#080e3a"/>
<rect x="1521.62" y="888.74" width="3.51" height="27.31" fill="#254d83"/>
<rect x="1525.13" y="888.74" width="3.51" height="27.31" fill="#27548a"/>
<rect x="1528.64" y="888.74" width="3.51" height="27.31" fill="#173060"/>
<rect x="1532.14" y="888.74" width="3.51" height="27.31" fill="#0f1f4d"/>
<rect x="1535.65" y="888.74" width="3.51" height="27.31" fill="#1b386a"/>
<rect x="1539.16" y="888.74" width="3.51" height="27.31" fill="#040731"/>
<rect x="1542.66" y="888.74" width="3.51" height="27.31" fill="#132755"/>
<rect x="1546.17" y="888.74" width="3.51" height="27.31" fill="#0a1440"/>
<rect x="1549.68" y="888.74" width="3.51" height="27.31" fill="#0e1d4a"/>
<rect x="1553.19" y="888.74" width="3.51" height="27.31" fill="#244d82"/>
<rect x="1556.69" y="888.74" width="3.51" height="27.31" fill="#060a35"/>
<rect x="1574.23" y="888.74" width="3.51" height="27.31" fill="#172f5f"/>
<rect x="1581.24" y="888.74" width="3.51" height="27.31" fill="#254f84"/>
<rect x="1609.3" y="888.74" width="3.51" height="27.31" fill="#1e3f72"/>
<rect x="1612.81" y="888.74" width="3.51" height="27.31" fill="#132857"/>
<rect x="1626.84" y="888.74" width="3.51" height="27.31" fill="#09103c"/>
<rect x="1630.34" y="888.74" width="3.51" height="27.31" fill="#0f1e4b"/>
<rect x="1167.4" y="916.06" width="3.51" height="27.31" fill="#1c3b6c"/>
<rect x="1170.91" y="916.06" width="3.51" height="27.31" fill="#060a35"/>
<rect x="1174.41" y="916.06" width="3.51" height="27.31" fill="#23497d"/>
<rect x="1177.92" y="916.06" width="3.51" height="27.31" fill="#050934"/>
<rect x="1188.44" y="916.06" width="3.51" height="27.31" fill="#070d38"/>
<rect x="1202.47" y="916.06" width="3.51" height="27.31" fill="#0f1e4b"/>
<rect x="1205.98" y="916.06" width="3.51" height="27.31" fill="#080f3a"/>
<rect x="1209.49" y="916.06" width="3.51" height="27.31" fill="#0e1c4a"/>
<rect x="1212.99" y="916.06" width="3.51" height="27.31" fill="#2d6099"/>
<rect x="1216.5" y="916.06" width="3.51" height="27.31" fill="#0d1946"/>
<rect x="1223.51" y="916.06" width="3.51" height="27.31" fill="#0f1e4b"/>
<rect x="1227.02" y="916.06" width="3.51" height="27.31" fill="#10204e"/>
<rect x="1230.53" y="916.06" width="3.51" height="27.31" fill="#040530"/>
<rect x="1234.04" y="916.06" width="3.51" height="27.31" fill="#10204d"/>
<rect x="1237.54" y="916.06" width="3.51" height="27.31" fill="#0a1440"/>
<rect x="1241.05" y="916.06" width="3.51" height="27.31" fill="#162e5d"/>
<rect x="1248.06" y="916.06" width="3.51" height="27.31" fill="#204376"/>
<rect x="1251.57" y="916.06" width="3.51" height="27.31" fill="#1d3c6e"/>
<rect x="1258.59" y="916.06" width="3.51" height="27.31" fill="#244d82"/>
<rect x="1262.09" y="916.06" width="3.51" height="27.31" fill="#122452"/>
<rect x="1265.6" y="916.06" width="3.51" height="27.31" fill="#0b1643"/>
<rect x="1269.11" y="916.06" width="3.51" height="27.31" fill="#0f1e4b"/>
<rect x="1276.12" y="916.06" width="3.51" height="27.31" fill="#152b5a"/>
<rect x="1279.63" y="916.06" width="3.51" height="27.31" fill="#142958"/>
<rect x="1286.64" y="916.06" width="3.51" height="27.31" fill="#1f4173"/>
<rect x="1300.67" y="916.06" width="3.51" height="27.31" fill="#193566"/>
<rect x="1339.25" y="916.06" width="3.51" height="27.31" fill="#09113d"/>
<rect x="1342.76" y="916.06" width="3.51" height="27.31" fill="#1f4073"/>
<rect x="1367.31" y="916.06" width="3.51" height="27.31" fill="#1f4173"/>
<rect x="1370.81" y="916.06" width="3.51" height="27.31" fill="#3169a4"/>
<rect x="1412.9" y="916.06" width="3.51" height="27.31" fill="#0e1d4a"/>
<rect x="1416.41" y="916.06" width="3.51" height="27.31" fill="#070e39"/>
<rect x="1497.07" y="916.06" width="3.51" height="27.31" fill="#29568d"/>
<rect x="1504.09" y="916.06" width="3.51" height="27.31" fill="#10204e"/>
<rect x="1535.65" y="916.06" width="3.51" height="27.31" fill="#162e5e"/>
<rect x="1542.66" y="916.06" width="3.51" height="27.31" fill="#080f3b"/>
<rect x="1167.4" y="943.37" width="3.51" height="27.31" fill="#1d3d6f"/>
<rect x="1174.41" y="943.37" width="3.51" height="27.31" fill="#17305f"/>
<rect x="1177.92" y="943.37" width="3.51" height="27.31" fill="#183262"/>
<rect x="1188.44" y="943.37" width="3.51" height="27.31" fill="#0e1b48"/>
<rect x="1209.49" y="943.37" width="3.51" height="27.31" fill="#050934"/>
<rect x="1212.99" y="943.37" width="3.51" height="27.31" fill="#112250"/>
<rect x="1220.01" y="943.37" width="3.51" height="27.31" fill="#0c1743"/>
<rect x="1241.05" y="943.37" width="3.51" height="27.31" fill="#060b36"/>
<rect x="1244.56" y="943.37" width="3.51" height="27.31" fill="#173160"/>
<rect x="1283.14" y="943.37" width="3.51" height="27.31" fill="#102250"/>
<rect x="1311.19" y="943.37" width="3.51" height="27.31" fill="#193565"/>
<rect x="1314.7" y="943.37" width="3.51" height="27.31" fill="#09113d"/>
<rect x="1318.21" y="943.37" width="3.51" height="27.31" fill="#09123e"/>
<rect x="1321.71" y="943.37" width="3.51" height="27.31" fill="#132655"/>
<rect x="1363.8" y="943.37" width="3.51" height="27.31" fill="#070d39"/>
<rect x="1430.44" y="943.37" width="3.51" height="27.31" fill="#0e1c49"/>
<rect x="1535.65" y="943.37" width="3.51" height="27.31" fill="#040530"/>
<rect x="1539.16" y="943.37" width="3.51" height="27.31" fill="#0f1e4b"/>
<rect x="1542.66" y="943.37" width="3.51" height="27.31" fill="#54b1e8"/>
<rect x="1167.4" y="970.69" width="3.51" height="27.31" fill="#336ca7"/>
<rect x="1170.91" y="970.69" width="3.51" height="27.31" fill="#4796d0"/>
<rect x="1174.41" y="970.69" width="3.51" height="27.31" fill="#0a1441"/>
<rect x="1177.92" y="970.69" width="3.51" height="27.31" fill="#183262"/>
<rect x="1181.43" y="970.69" width="3.51" height="27.31" fill="#09113d"/>
<rect x="1184.94" y="970.69" width="3.51" height="27.31" fill="#142857"/>
<rect x="1188.44" y="970.69" width="3.51" height="27.31" fill="#142958"/>
<rect x="1191.95" y="970.69" width="3.51" height="27.31" fill="#2b5b93"/>
<rect x="1195.46" y="970.69" width="3.51" height="27.31" fill="#0b1643"/>
<rect x="1198.96" y="970.69" width="3.51" height="27.31" fill="#050a35"/>
<rect x="1202.47" y="970.69" width="3.51" height="27.31" fill="#09113d"/>
<rect x="1205.98" y="970.69" width="3.51" height="27.31" fill="#27548a"/>
<rect x="1209.49" y="970.69" width="3.51" height="27.31" fill="#09103c"/>
<rect x="1212.99" y="970.69" width="3.51" height="27.31" fill="#22477b"/>
<rect x="1216.5" y="970.69" width="3.51" height="27.31" fill="#346faa"/>
<rect x="1220.01" y="970.69" width="3.51" height="27.31" fill="#336da9"/>
<rect x="1223.51" y="970.69" width="3.51" height="27.31" fill="#2f649e"/>
<rect x="1227.02" y="970.69" width="3.51" height="27.31" fill="#22497d"/>
<rect x="1230.53" y="970.69" width="3.51" height="27.31" fill="#2b5b93"/>
<rect x="1234.04" y="970.69" width="3.51" height="27.31" fill="#346fab"/>
<rect x="1237.54" y="970.69" width="3.51" height="27.31" fill="#2a5890"/>
<rect x="1241.05" y="970.69" width="3.51" height="27.31" fill="#3673b0"/>
<rect x="1244.56" y="970.69" width="3.51" height="27.31" fill="#3572ae"/>
<rect x="1248.06" y="970.69" width="3.51" height="27.31" fill="#336da8"/>
<rect x="1251.57" y="970.69" width="3.51" height="27.31" fill="#3c80bd"/>
<rect x="1255.08" y="970.69" width="3.51" height="27.31" fill="#3c81be"/>
<rect x="1258.59" y="970.69" width="3.51" height="27.31" fill="#254f84"/>
<rect x="1262.09" y="970.69" width="3.51" height="27.31" fill="#4fa5de"/>
<rect x="1265.6" y="970.69" width="3.51" height="27.31" fill="#418ac6"/>
<rect x="1269.11" y="970.69" width="3.51" height="27.31" fill="#30669f"/>
<rect x="1272.61" y="970.69" width="3.51" height="27.31" fill="#428bc7"/>
<rect x="1276.12" y="970.69" width="3.51" height="27.31" fill="#3d82bf"/>
<rect x="1279.63" y="970.69" width="3.51" height="27.31" fill="#448fcb"/>
<rect x="1286.64" y="970.69" width="3.51" height="27.31" fill="#438ec9"/>
<rect x="1290.15" y="970.69" width="3.51" height="27.31" fill="#3e85c2"/>
<rect x="1293.66" y="970.69" width="3.51" height="27.31" fill="#4da2db"/>
<rect x="1297.16" y="970.69" width="3.51" height="27.31" fill="#2d6099"/>
<rect x="1300.67" y="970.69" width="3.51" height="27.31" fill="#4490cb"/>
<rect x="1304.18" y="970.69" width="3.51" height="27.31" fill="#4ca1da"/>
<rect x="1307.69" y="970.69" width="3.51" height="27.31" fill="#4490cb"/>
<rect x="1311.19" y="970.69" width="3.51" height="27.31" fill="#3776b3"/>
<rect x="1314.7" y="970.69" width="3.51" height="27.31" fill="#3570ac"/>
<rect x="1318.21" y="970.69" width="3.51" height="27.31" fill="#448fcb"/>
<rect x="1321.71" y="970.69" width="3.51" height="27.31" fill="#4694cf"/>
<rect x="1325.22" y="970.69" width="3.51" height="27.31" fill="#265086"/>
<rect x="1328.73" y="970.69" width="3.51" height="27.31" fill="#02022c"/>
<rect x="1332.24" y="970.69" width="3.51" height="27.31" fill="#2f639c"/>
<rect x="1335.74" y="970.69" width="3.51" height="27.31" fill="#4796d0"/>
<rect x="1339.25" y="970.69" width="3.51" height="27.31" fill="#4592cd"/>
<rect x="1342.76" y="970.69" width="3.51" height="27.31" fill="#4088c4"/>
<rect x="1346.26" y="970.69" width="3.51" height="27.31" fill="#397ab8"/>
<rect x="1349.77" y="970.69" width="3.51" height="27.31" fill="#4ca1da"/>
<rect x="1353.28" y="970.69" width="3.51" height="27.31" fill="#3f87c3"/>
<rect x="1356.79" y="970.69" width="3.51" height="27.31" fill="#4490cb"/>
<rect x="1360.29" y="970.69" width="3.51" height="27.31" fill="#5abbf1"/>
<rect x="1363.8" y="970.69" width="3.51" height="27.31" fill="#29588f"/>
<rect x="1367.31" y="970.69" width="3.51" height="27.31" fill="#204477"/>
<rect x="1370.81" y="970.69" width="3.51" height="27.31" fill="#418ac6"/>
<rect x="1374.32" y="970.69" width="3.51" height="27.31" fill="#326ba6"/>
<rect x="1377.83" y="970.69" width="3.51" height="27.31" fill="#4491cc"/>
<rect x="1381.34" y="970.69" width="3.51" height="27.31" fill="#3572ae"/>
<rect x="1384.84" y="970.69" width="3.51" height="27.31" fill="#4da2db"/>
<rect x="1388.35" y="970.69" width="3.51" height="27.31" fill="#56b4ea"/>
<rect x="1391.86" y="970.69" width="3.51" height="27.31" fill="#326aa5"/>
<rect x="1395.36" y="970.69" width="3.51" height="27.31" fill="#60c8fc"/>
<rect x="1398.87" y="970.69" width="3.51" height="27.31" fill="#4797d1"/>
<rect x="1402.38" y="970.69" width="3.51" height="27.31" fill="#4da2db"/>
<rect x="1405.89" y="970.69" width="3.51" height="27.31" fill="#56b4ea"/>
<rect x="1409.39" y="970.69" width="3.51" height="27.31" fill="#040732"/>
<rect x="1412.9" y="970.69" width="3.51" height="27.31" fill="#4088c4"/>
<rect x="1416.41" y="970.69" width="3.51" height="27.31" fill="#52abe3"/>
<rect x="1423.42" y="970.69" width="3.51" height="27.31" fill="#1d3c6e"/>
<rect x="1426.93" y="970.69" width="3.51" height="27.31" fill="#244c81"/>
<rect x="1430.44" y="970.69" width="3.51" height="27.31" fill="#0c1744"/>
<rect x="1433.94" y="970.69" width="3.51" height="27.31" fill="#0f1e4c"/>
<rect x="1437.45" y="970.69" width="3.51" height="27.31" fill="#397ab7"/>
<rect x="1440.96" y="970.69" width="3.51" height="27.31" fill="#3672af"/>
<rect x="1444.46" y="970.69" width="3.51" height="27.31" fill="#448fcb"/>
<rect x="1451.48" y="970.69" width="3.51" height="27.31" fill="#397ab7"/>
<rect x="1454.99" y="970.69" width="3.51" height="27.31" fill="#265187"/>
<rect x="1458.49" y="970.69" width="3.51" height="27.31" fill="#3f85c2"/>
<rect x="1462" y="970.69" width="3.51" height="27.31" fill="#336da8"/>
<rect x="1465.51" y="970.69" width="3.51" height="27.31" fill="#51aae2"/>
<rect x="1469.01" y="970.69" width="3.51" height="27.31" fill="#4fa5de"/>
<rect x="1472.52" y="970.69" width="3.51" height="27.31" fill="#204477"/>
<rect x="1476.03" y="970.69" width="3.51" height="27.31" fill="#2a588f"/>
<rect x="1479.54" y="970.69" width="3.51" height="27.31" fill="#3169a4"/>
<rect x="1483.04" y="970.69" width="3.51" height="27.31" fill="#060b36"/>
<rect x="1486.55" y="970.69" width="3.51" height="27.31" fill="#2d5f98"/>
<rect x="1490.06" y="970.69" width="3.51" height="27.31" fill="#52ace4"/>
<rect x="1493.56" y="970.69" width="3.51" height="27.31" fill="#3f86c3"/>
<rect x="1497.07" y="970.69" width="3.51" height="27.31" fill="#3a7dbb"/>
<rect x="1500.58" y="970.69" width="3.51" height="27.31" fill="#346fab"/>
<rect x="1504.09" y="970.69" width="3.51" height="27.31" fill="#30669f"/>
<rect x="1507.59" y="970.69" width="3.51" height="27.31" fill="#428bc7"/>
<rect x="1511.1" y="970.69" width="3.51" height="27.31" fill="#214579"/>
<rect x="1514.61" y="970.69" width="3.51" height="27.31" fill="#1f4275"/>
<rect x="1518.11" y="970.69" width="3.51" height="27.31" fill="#1a3768"/>
<rect x="1521.62" y="970.69" width="3.51" height="27.31" fill="#2c5d95"/>
<rect x="1525.13" y="970.69" width="3.51" height="27.31" fill="#2c5d95"/>
<rect x="1528.64" y="970.69" width="3.51" height="27.31" fill="#3776b3"/>
<rect x="1532.14" y="970.69" width="3.51" height="27.31" fill="#4ca0d9"/>
<rect x="1535.65" y="970.69" width="3.51" height="27.31" fill="#172f5f"/>
<rect x="1542.66" y="970.69" width="3.51" height="27.31" fill="#22487c"/>
<rect x="1546.17" y="970.69" width="3.51" height="27.31" fill="#2c5c94"/>
<rect x="1549.68" y="970.69" width="3.51" height="27.31" fill="#3775b2"/>
<rect x="1553.19" y="970.69" width="3.51" height="27.31" fill="#265085"/>
<rect x="1556.69" y="970.69" width="3.51" height="27.31" fill="#244d82"/>
<rect x="1560.2" y="970.69" width="3.51" height="27.31" fill="#244c81"/>
<rect x="1563.71" y="970.69" width="3.51" height="27.31" fill="#3169a3"/>
<rect x="1567.21" y="970.69" width="3.51" height="27.31" fill="#265086"/>
<rect x="1570.72" y="970.69" width="3.51" height="27.31" fill="#3169a4"/>
<rect x="1574.23" y="970.69" width="3.51" height="27.31" fill="#1c3a6c"/>
<rect x="1577.74" y="970.69" width="3.51" height="27.31" fill="#3570ac"/>
<rect x="1581.24" y="970.69" width="3.51" height="27.31" fill="#1c3c6d"/>
<rect x="1584.75" y="970.69" width="3.51" height="27.31" fill="#397ab8"/>
<rect x="1588.26" y="970.69" width="3.51" height="27.31" fill="#244d82"/>
<rect x="1591.76" y="970.69" width="3.51" height="27.31" fill="#1f4174"/>
<rect x="1595.27" y="970.69" width="3.51" height="27.31" fill="#275289"/>
<rect x="1598.78" y="970.69" width="3.51" height="27.31" fill="#3b7dbb"/>
<rect x="1602.29" y="970.69" width="3.51" height="27.31" fill="#080e3a"/>
<rect x="1605.79" y="970.69" width="3.51" height="27.31" fill="#132655"/>
<rect x="1609.3" y="970.69" width="3.51" height="27.31" fill="#275389"/>
<rect x="1612.81" y="970.69" width="3.51" height="27.31" fill="#275288"/>
<rect x="1616.31" y="970.69" width="3.51" height="27.31" fill="#2e639c"/>
<rect x="1619.82" y="970.69" width="3.51" height="27.31" fill="#1c3a6c"/>
<rect x="1623.33" y="970.69" width="3.51" height="27.31" fill="#3066a0"/>
<rect x="1626.84" y="970.69" width="3.51" height="27.31" fill="#1f4275"/>
<rect x="1630.34" y="970.69" width="3.51" height="27.31" fill="#132655"/>
<rect x="1633.85" y="970.69" width="3.51" height="27.31" fill="#22477b"/>
<rect x="1637.36" y="970.69" width="3.51" height="27.31" fill="#0b1542"/>
<rect x="1640.86" y="970.69" width="3.51" height="27.31" fill="#070e39"/>
<rect x="1644.37" y="970.69" width="3.51" height="27.31" fill="#3674b0"/>
<rect x="1647.88" y="970.69" width="3.51" height="27.31" fill="#4087c4"/>
<rect x="1651.39" y="970.69" width="3.51" height="27.31" fill="#346faa"/>
<rect x="1654.89" y="970.69" width="3.51" height="27.31" fill="#2e619a"/>
<rect x="1167.4" y="998" width="3.51" height="27.31" fill="#152c5c"/>
<rect x="1170.91" y="998" width="3.51" height="27.31" fill="#0c1744"/>
<rect x="1174.41" y="998" width="3.51" height="27.31" fill="#0a1340"/>
<rect x="1181.43" y="998" width="3.51" height="27.31" fill="#10204e"/>
<rect x="1188.44" y="998" width="3.51" height="27.31" fill="#080e3a"/>
<rect x="1191.95" y="998" width="3.51" height="27.31" fill="#080f3a"/>
<rect x="1195.46" y="998" width="3.51" height="27.31" fill="#1e3f72"/>
<rect x="1202.47" y="998" width="3.51" height="27.31" fill="#060b36"/>
<rect x="1205.98" y="998" width="3.51" height="27.31" fill="#162e5e"/>
<rect x="1209.49" y="998" width="3.51" height="27.31" fill="#0a133f"/>
<rect x="1304.18" y="998" width="3.51" height="27.31" fill="#0a133f"/>
<rect x="1307.69" y="998" width="3.51" height="27.31" fill="#193364"/>
<rect x="1314.7" y="998" width="3.51" height="27.31" fill="#4fa5de"/>
<rect x="1318.21" y="998" width="3.51" height="27.31" fill="#0f1f4d"/>
<rect x="1321.71" y="998" width="3.51" height="27.31" fill="#0e1c49"/>
<rect x="1356.79" y="998" width="3.51" height="27.31" fill="#152b5a"/>
<rect x="1360.29" y="998" width="3.51" height="27.31" fill="#0b1541"/>
<rect x="1430.44" y="998" width="3.51" height="27.31" fill="#162e5d"/>
<rect x="1433.94" y="998" width="3.51" height="27.31" fill="#122554"/>
<rect x="1479.54" y="998" width="3.51" height="27.31" fill="#09113d"/>
<rect x="1483.04" y="998" width="3.51" height="27.31" fill="#0d1a47"/>
<rect x="1486.55" y="998" width="3.51" height="27.31" fill="#1d3d6f"/>
<rect x="1490.06" y="998" width="3.51" height="27.31" fill="#265288"/>
<rect x="1514.61" y="998" width="3.51" height="27.31" fill="#265187"/>
<rect x="1518.11" y="998" width="3.51" height="27.31" fill="#09113d"/>
<rect x="1521.62" y="998" width="3.51" height="27.31" fill="#112250"/>
<rect x="1525.13" y="998" width="3.51" height="27.31" fill="#54b1e8"/>
<rect x="1528.64" y="998" width="3.51" height="27.31" fill="#0f1f4d"/>
<rect x="1560.2" y="998" width="3.51" height="27.31" fill="#0b1643"/>
<rect x="1563.71" y="998" width="3.51" height="27.31" fill="#204478"/>
<rect x="1567.21" y="998" width="3.51" height="27.31" fill="#5abcf2"/>
<rect x="1588.26" y="998" width="3.51" height="27.31" fill="#1b396a"/>
<rect x="1595.27" y="998" width="3.51" height="27.31" fill="#4fa5de"/>
<rect x="1598.78" y="998" width="3.51" height="27.31" fill="#0d1946"/>
<rect x="1605.79" y="998" width="3.51" height="27.31" fill="#499ad4"/>
<rect x="1619.82" y="998" width="3.51" height="27.31" fill="#050833"/>
<rect x="1623.33" y="998" width="3.51" height="27.31" fill="#0c1744"/>
<rect x="1626.84" y="998" width="3.51" height="27.31" fill="#4fa5de"/>
<rect x="1630.34" y="998" width="3.51" height="27.31" fill="#040732"/>
<rect x="1633.85" y="998" width="3.51" height="27.31" fill="#22487d"/>
<rect x="1637.36" y="998" width="3.51" height="27.31" fill="#0e1c49"/>
<rect x="1640.86" y="998" width="3.51" height="27.31" fill="#0e1b48"/>
<rect x="1644.37" y="998" width="3.51" height="27.31" fill="#5abcf2"/>
<rect x="1651.39" y="998" width="3.51" height="27.31" fill="#3d83c0"/>
<rect x="1654.89" y="998" width="3.51" height="27.31" fill="#438eca"/>
<rect x="1188.44" y="1025.31" width="3.51" height="27.31" fill="#0e1d4a"/>
<rect x="1202.47" y="1025.31" width="3.51" height="27.31" fill="#080f3b"/>
<rect x="1209.49" y="1025.31" width="3.51" height="27.31" fill="#0d1a47"/>
<rect x="1227.02" y="1025.31" width="3.51" height="27.31" fill="#265288"/>
<rect x="1241.05" y="1025.31" width="3.51" height="27.31" fill="#1c3b6d"/>
<rect x="1244.56" y="1025.31" width="3.51" height="27.31" fill="#132756"/>
<rect x="1248.06" y="1025.31" width="3.51" height="27.31" fill="#183363"/>
<rect x="1265.6" y="1025.31" width="3.51" height="27.31" fill="#1b396a"/>
<rect x="1293.66" y="1025.31" width="3.51" height="27.31" fill="#0e1d4a"/>
<rect x="1297.16" y="1025.31" width="3.51" height="27.31" fill="#080f3b"/>
<rect x="1300.67" y="1025.31" width="3.51" height="27.31" fill="#22487c"/>
<rect x="1307.69" y="1025.31" width="3.51" height="27.31" fill="#1d3c6e"/>
<rect x="1314.7" y="1025.31" width="3.51" height="27.31" fill="#0d1b48"/>
<rect x="1318.21" y="1025.31" width="3.51" height="27.31" fill="#122554"/>
<rect x="1328.73" y="1025.31" width="3.51" height="27.31" fill="#10204e"/>
<rect x="1332.24" y="1025.31" width="3.51" height="27.31" fill="#040530"/>
<rect x="1335.74" y="1025.31" width="3.51" height="27.31" fill="#17305f"/>
<rect x="1342.76" y="1025.31" width="3.51" height="27.31" fill="#265086"/>
<rect x="1346.26" y="1025.31" width="3.51" height="27.31" fill="#28568d"/>
<rect x="1349.77" y="1025.31" width="3.51" height="27.31" fill="#070d38"/>
<rect x="1353.28" y="1025.31" width="3.51" height="27.31" fill="#1a3767"/>
<rect x="1356.79" y="1025.31" width="3.51" height="27.31" fill="#10204d"/>
<rect x="1360.29" y="1025.31" width="3.51" height="27.31" fill="#22477b"/>
<rect x="1391.86" y="1025.31" width="3.51" height="27.31" fill="#29568d"/>
<rect x="1395.36" y="1025.31" width="3.51" height="27.31" fill="#0e1c49"/>
<rect x="1405.89" y="1025.31" width="3.51" height="27.31" fill="#0d1a47"/>
<rect x="1412.9" y="1025.31" width="3.51" height="27.31" fill="#132755"/>
<rect x="1416.41" y="1025.31" width="3.51" height="27.31" fill="#162e5e"/>
<rect x="1423.42" y="1025.31" width="3.51" height="27.31" fill="#0c1844"/>
<rect x="1426.93" y="1025.31" width="3.51" height="27.31" fill="#122654"/>
<rect x="1430.44" y="1025.31" width="3.51" height="27.31" fill="#28558c"/>
<rect x="1433.94" y="1025.31" width="3.51" height="27.31" fill="#193464"/>
<rect x="1437.45" y="1025.31" width="3.51" height="27.31" fill="#0d1b48"/>
<rect x="1440.96" y="1025.31" width="3.51" height="27.31" fill="#1b3869"/>
<rect x="1444.46" y="1025.31" width="3.51" height="27.31" fill="#162d5c"/>
<rect x="1447.97" y="1025.31" width="3.51" height="27.31" fill="#22487d"/>
<rect x="1451.48" y="1025.31" width="3.51" height="27.31" fill="#0a1340"/>
<rect x="1454.99" y="1025.31" width="3.51" height="27.31" fill="#204477"/>
<rect x="1458.49" y="1025.31" width="3.51" height="27.31" fill="#080f3b"/>
<rect x="1462" y="1025.31" width="3.51" height="27.31" fill="#21467a"/>
<rect x="1465.51" y="1025.31" width="3.51" height="27.31" fill="#1a3768"/>
<rect x="1469.01" y="1025.31" width="3.51" height="27.31" fill="#040732"/>
<rect x="1472.52" y="1025.31" width="3.51" height="27.31" fill="#254e83"/>
<rect x="1476.03" y="1025.31" width="3.51" height="27.31" fill="#132755"/>
<rect x="1479.54" y="1025.31" width="3.51" height="27.31" fill="#070d39"/>
<rect x="1486.55" y="1025.31" width="3.51" height="27.31" fill="#173160"/>
<rect x="1490.06" y="1025.31" width="3.51" height="27.31" fill="#050934"/>
<rect x="1493.56" y="1025.31" width="3.51" height="27.31" fill="#09123e"/>
<rect x="1497.07" y="1025.31" width="3.51" height="27.31" fill="#122452"/>
<rect x="1500.58" y="1025.31" width="3.51" height="27.31" fill="#060b36"/>
<rect x="1504.09" y="1025.31" width="3.51" height="27.31" fill="#080f3b"/>
<rect x="1507.59" y="1025.31" width="3.51" height="27.31" fill="#2c5e97"/>
<rect x="1511.1" y="1025.31" width="3.51" height="27.31" fill="#040631"/>
<rect x="1514.61" y="1025.31" width="3.51" height="27.31" fill="#1c3a6c"/>
<rect x="1518.11" y="1025.31" width="3.51" height="27.31" fill="#0f1e4c"/>
<rect x="1521.62" y="1025.31" width="3.51" height="27.31" fill="#0d1b48"/>
<rect x="1525.13" y="1025.31" width="3.51" height="27.31" fill="#0e1b49"/>
<rect x="1528.64" y="1025.31" width="3.51" height="27.31" fill="#1b396b"/>
<rect x="1532.14" y="1025.31" width="3.51" height="27.31" fill="#29568d"/>
<rect x="1535.65" y="1025.31" width="3.51" height="27.31" fill="#070d39"/>
<rect x="1539.16" y="1025.31" width="3.51" height="27.31" fill="#0e1c49"/>
<rect x="1542.66" y="1025.31" width="3.51" height="27.31" fill="#0a133f"/>
<rect x="1546.17" y="1025.31" width="3.51" height="27.31" fill="#162d5d"/>
<rect x="1549.68" y="1025.31" width="3.51" height="27.31" fill="#112250"/>
<rect x="1553.19" y="1025.31" width="3.51" height="27.31" fill="#070d38"/>
<rect x="1556.69" y="1025.31" width="3.51" height="27.31" fill="#09103c"/>
<rect x="1560.2" y="1025.31" width="3.51" height="27.31" fill="#173160"/>
<rect x="1567.21" y="1025.31" width="3.51" height="27.31" fill="#10214f"/>
<rect x="1570.72" y="1025.31" width="3.51" height="27.31" fill="#050934"/>
<rect x="1574.23" y="1025.31" width="3.51" height="27.31" fill="#0c1744"/>
<rect x="1581.24" y="1025.31" width="3.51" height="27.31" fill="#142958"/>
<rect x="1584.75" y="1025.31" width="3.51" height="27.31" fill="#0c1845"/>
<rect x="1588.26" y="1025.31" width="3.51" height="27.31" fill="#173161"/>
<rect x="1595.27" y="1025.31" width="3.51" height="27.31" fill="#2b5b93"/>
<rect x="1598.78" y="1025.31" width="3.51" height="27.31" fill="#060a35"/>
<rect x="1602.29" y="1025.31" width="3.51" height="27.31" fill="#1a3566"/>
<rect x="1605.79" y="1025.31" width="3.51" height="27.31" fill="#1d3d6f"/>
<rect x="1609.3" y="1025.31" width="3.51" height="27.31" fill="#0c1845"/>
<rect x="1612.81" y="1025.31" width="3.51" height="27.31" fill="#162f5e"/>
<rect x="1616.31" y="1025.31" width="3.51" height="27.31" fill="#275289"/>
<rect x="1619.82" y="1025.31" width="3.51" height="27.31" fill="#0e1d4a"/>
<rect x="1623.33" y="1025.31" width="3.51" height="27.31" fill="#265187"/>
<rect x="1626.84" y="1025.31" width="3.51" height="27.31" fill="#3776b3"/>
<rect x="1630.34" y="1025.31" width="3.51" height="27.31" fill="#1f4275"/>
<rect x="1637.36" y="1025.31" width="3.51" height="27.31" fill="#1b3869"/>
<rect x="1640.86" y="1025.31" width="3.51" height="27.31" fill="#234b80"/>
<rect x="1644.37" y="1025.31" width="3.51" height="27.31" fill="#10204e"/>
<rect x="1647.88" y="1025.31" width="3.51" height="27.31" fill="#0c1744"/>
<rect x="1651.39" y="1025.31" width="3.51" height="27.31" fill="#2f639c"/>
<rect x="1654.89" y="1025.31" width="3.51" height="27.31" fill="#152c5b"/>
<rect x="1167.4" y="1052.63" width="3.51" height="27.31" fill="#265086"/>
<rect x="1170.91" y="1052.63" width="3.51" height="27.31" fill="#0c1845"/>
<rect x="1174.41" y="1052.63" width="3.51" height="27.31" fill="#22477b"/>
<rect x="1177.92" y="1052.63" width="3.51" height="27.31" fill="#0b1541"/>
<rect x="1181.43" y="1052.63" width="3.51" height="27.31" fill="#09113d"/>
<rect x="1184.94" y="1052.63" width="3.51" height="27.31" fill="#112351"/>
<rect x="1188.44" y="1052.63" width="3.51" height="27.31" fill="#09123e"/>
<rect x="1216.5" y="1052.63" width="3.51" height="27.31" fill="#0a1440"/>
<rect x="1220.01" y="1052.63" width="3.51" height="27.31" fill="#173161"/>
<rect x="1223.51" y="1052.63" width="3.51" height="27.31" fill="#0f1e4c"/>
<rect x="1227.02" y="1052.63" width="3.51" height="27.31" fill="#060b37"/>
<rect x="1230.53" y="1052.63" width="3.51" height="27.31" fill="#060a35"/>
<rect x="1241.05" y="1052.63" width="3.51" height="27.31" fill="#244d82"/>
<rect x="1244.56" y="1052.63" width="3.51" height="27.31" fill="#22477b"/>
<rect x="1248.06" y="1052.63" width="3.51" height="27.31" fill="#1d3d6f"/>
<rect x="1251.57" y="1052.63" width="3.51" height="27.31" fill="#265186"/>
<rect x="1258.59" y="1052.63" width="3.51" height="27.31" fill="#09123e"/>
<rect x="1265.6" y="1052.63" width="3.51" height="27.31" fill="#060a35"/>
<rect x="1272.61" y="1052.63" width="3.51" height="27.31" fill="#10204e"/>
<rect x="1276.12" y="1052.63" width="3.51" height="27.31" fill="#183161"/>
<rect x="1279.63" y="1052.63" width="3.51" height="27.31" fill="#244b80"/>
<rect x="1283.14" y="1052.63" width="3.51" height="27.31" fill="#060b37"/>
<rect x="1286.64" y="1052.63" width="3.51" height="27.31" fill="#060b36"/>
<rect x="1300.67" y="1052.63" width="3.51" height="27.31" fill="#09123e"/>
<rect x="1304.18" y="1052.63" width="3.51" height="27.31" fill="#0a1441"/>
<rect x="1311.19" y="1052.63" width="3.51" height="27.31" fill="#040630"/>
<rect x="1318.21" y="1052.63" width="3.51" height="27.31" fill="#0e1d4a"/>
<rect x="1325.22" y="1052.63" width="3.51" height="27.31" fill="#0c1744"/>
<rect x="1328.73" y="1052.63" width="3.51" height="27.31" fill="#0f1e4b"/>
<rect x="1332.24" y="1052.63" width="3.51" height="27.31" fill="#132755"/>
<rect x="1346.26" y="1052.63" width="3.51" height="27.31" fill="#0f1f4c"/>
<rect x="1353.28" y="1052.63" width="3.51" height="27.31" fill="#09123e"/>
<rect x="1360.29" y="1052.63" width="3.51" height="27.31" fill="#08103c"/>
<rect x="1363.8" y="1052.63" width="3.51" height="27.31" fill="#0e1d4a"/>
<rect x="1367.31" y="1052.63" width="3.51" height="27.31" fill="#10214f"/>
<rect x="1398.87" y="1052.63" width="3.51" height="27.31" fill="#28548a"/>
<rect x="1402.38" y="1052.63" width="3.51" height="27.31" fill="#10204e"/>
<rect x="1405.89" y="1052.63" width="3.51" height="27.31" fill="#234a7e"/>
<rect x="1409.39" y="1052.63" width="3.51" height="27.31" fill="#234a7e"/>
<rect x="1444.46" y="1052.63" width="3.51" height="27.31" fill="#0d1a47"/>
<rect x="1447.97" y="1052.63" width="3.51" height="27.31" fill="#0b1542"/>
<rect x="1479.54" y="1052.63" width="3.51" height="27.31" fill="#0b1541"/>
<rect x="1483.04" y="1052.63" width="3.51" height="27.31" fill="#1f4073"/>
<rect x="1486.55" y="1052.63" width="3.51" height="27.31" fill="#040630"/>
<rect x="1490.06" y="1052.63" width="3.51" height="27.31" fill="#1b3a6b"/>
<rect x="1539.16" y="1052.63" width="7.01" height="27.31" fill="#1e3f72"/>
<rect x="1644.37" y="1052.63" width="3.51" height="27.31" fill="#09103c"/>
<rect x="1265.6" y="1079.94" width="3.51" height="27.31" fill="#080e3a"/>
<rect x="1269.11" y="1079.94" width="3.51" height="27.31" fill="#1c3a6c"/>
<rect x="1272.61" y="1079.94" width="3.51" height="27.31" fill="#060a35"/>
<rect x="1283.14" y="1079.94" width="3.51" height="27.31" fill="#152c5b"/>
<rect x="1290.15" y="1079.94" width="3.51" height="27.31" fill="#1e4073"/>
<rect x="1325.22" y="1079.94" width="3.51" height="27.31" fill="#0c1845"/>
<rect x="1332.24" y="1079.94" width="3.51" height="27.31" fill="#1d3e70"/>
<rect x="1335.74" y="1079.94" width="3.51" height="27.31" fill="#060a35"/>
<rect x="1384.84" y="1079.94" width="3.51" height="27.31" fill="#0a1440"/>
<rect x="1398.87" y="1079.94" width="3.51" height="27.31" fill="#173060"/>
<rect x="1402.38" y="1079.94" width="3.51" height="27.31" fill="#0d1b48"/>
<rect x="1412.9" y="1079.94" width="3.51" height="27.31" fill="#060a35"/>
<rect x="1419.91" y="1079.94" width="3.51" height="27.31" fill="#1c3b6c"/>
<rect x="1437.45" y="1079.94" width="3.51" height="27.31" fill="#122553"/>
<rect x="1444.46" y="1079.94" width="3.51" height="27.31" fill="#070d39"/>
<rect x="1451.48" y="1079.94" width="3.51" height="27.31" fill="#1c3a6c"/>
<rect x="1454.99" y="1079.94" width="3.51" height="27.31" fill="#122452"/>
<rect x="1458.49" y="1079.94" width="3.51" height="27.31" fill="#040530"/>
<rect x="1462" y="1079.94" width="3.51" height="27.31" fill="#060a35"/>
<rect x="1465.51" y="1079.94" width="3.51" height="27.31" fill="#1b3869"/>
<rect x="1469.01" y="1079.94" width="3.51" height="27.31" fill="#0e1c4a"/>
<rect x="1486.55" y="1079.94" width="3.51" height="27.31" fill="#09113d"/>
<rect x="1497.07" y="1079.94" width="3.51" height="27.31" fill="#0b1542"/>
<rect x="1507.59" y="1079.94" width="3.51" height="27.31" fill="#162e5e"/>
<rect x="1511.1" y="1079.94" width="3.51" height="27.31" fill="#0c1946"/>
<rect x="1514.61" y="1079.94" width="3.51" height="27.31" fill="#112250"/>
<rect x="1521.62" y="1079.94" width="3.51" height="27.31" fill="#08103c"/>
<rect x="1525.13" y="1079.94" width="3.51" height="27.31" fill="#0a1440"/>
<rect x="1532.14" y="1079.94" width="3.51" height="27.31" fill="#1d3d6f"/>
<rect x="1535.65" y="1079.94" width="3.51" height="27.31" fill="#0a1440"/>
<rect x="1542.66" y="1079.94" width="3.51" height="27.31" fill="#265085"/>
<rect x="1549.68" y="1079.94" width="3.51" height="27.31" fill="#132756"/>
<rect x="1567.21" y="1079.94" width="3.51" height="27.31" fill="#1b396a"/>
<rect x="1570.72" y="1079.94" width="3.51" height="27.31" fill="#1f4174"/>
<rect x="1574.23" y="1079.94" width="3.51" height="27.31" fill="#142958"/>
<rect x="1577.74" y="1079.94" width="3.51" height="27.31" fill="#22487d"/>
<rect x="1581.24" y="1079.94" width="3.51" height="27.31" fill="#10204e"/>
<rect x="1584.75" y="1079.94" width="3.51" height="27.31" fill="#112250"/>
<rect x="1588.26" y="1079.94" width="3.51" height="27.31" fill="#162e5d"/>
<rect x="1602.29" y="1079.94" width="3.51" height="27.31" fill="#1c3b6c"/>
<rect x="1605.79" y="1079.94" width="3.51" height="27.31" fill="#162e5e"/>
<rect x="1609.3" y="1079.94" width="3.51" height="27.31" fill="#050934"/>
<rect x="1612.81" y="1079.94" width="3.51" height="27.31" fill="#0c1845"/>
<rect x="1616.31" y="1079.94" width="3.51" height="27.31" fill="#080f3a"/>
<rect x="1633.85" y="1079.94" width="3.51" height="27.31" fill="#28558c"/>
<rect x="1637.36" y="1079.94" width="3.51" height="27.31" fill="#204477"/>
<rect x="1640.86" y="1079.94" width="3.51" height="27.31" fill="#050933"/>
<rect x="1647.88" y="1079.94" width="3.51" height="27.31" fill="#050832"/>
<rect x="1651.39" y="1079.94" width="3.51" height="27.31" fill="#0c1844"/>
<rect x="1181.43" y="1107.26" width="3.51" height="27.31" fill="#1d3d6f"/>
<rect x="1184.94" y="1107.26" width="3.51" height="27.31" fill="#1f4174"/>
<rect x="1209.49" y="1107.26" width="3.51" height="27.31" fill="#040530"/>
<rect x="1269.11" y="1107.26" width="3.51" height="27.31" fill="#0a133f"/>
<rect x="1279.63" y="1107.26" width="3.51" height="27.31" fill="#0d1946"/>
<rect x="1283.14" y="1107.26" width="3.51" height="27.31" fill="#0b1541"/>
<rect x="1286.64" y="1107.26" width="3.51" height="27.31" fill="#102250"/>
<rect x="1290.15" y="1107.26" width="3.51" height="27.31" fill="#0c1744"/>
<rect x="1293.66" y="1107.26" width="3.51" height="27.31" fill="#0d1946"/>
<rect x="1297.16" y="1107.26" width="3.51" height="27.31" fill="#060b37"/>
<rect x="1300.67" y="1107.26" width="3.51" height="27.31" fill="#234a7f"/>
<rect x="1307.69" y="1107.26" width="3.51" height="27.31" fill="#060a35"/>
<rect x="1314.7" y="1107.26" width="3.51" height="27.31" fill="#244b80"/>
<rect x="1318.21" y="1107.26" width="3.51" height="27.31" fill="#050934"/>
<rect x="1325.22" y="1107.26" width="3.51" height="27.31" fill="#2d6098"/>
<rect x="1332.24" y="1107.26" width="3.51" height="27.31" fill="#060a35"/>
<rect x="1335.74" y="1107.26" width="3.51" height="27.31" fill="#275389"/>
<rect x="1339.25" y="1107.26" width="3.51" height="27.31" fill="#112352"/>
<rect x="1353.28" y="1107.26" width="3.51" height="27.31" fill="#0c1845"/>
<rect x="1356.79" y="1107.26" width="3.51" height="27.31" fill="#060a35"/>
<rect x="1360.29" y="1107.26" width="3.51" height="27.31" fill="#09113d"/>
<rect x="1374.32" y="1107.26" width="3.51" height="27.31" fill="#234a7f"/>
<rect x="1377.83" y="1107.26" width="3.51" height="27.31" fill="#080f3b"/>
<rect x="1381.34" y="1107.26" width="3.51" height="27.31" fill="#08103b"/>
<rect x="1384.84" y="1107.26" width="3.51" height="27.31" fill="#265086"/>
<rect x="1388.35" y="1107.26" width="3.51" height="27.31" fill="#132857"/>
<rect x="1391.86" y="1107.26" width="3.51" height="27.31" fill="#1d3d6f"/>
<rect x="1395.36" y="1107.26" width="3.51" height="27.31" fill="#1b396a"/>
<rect x="1398.87" y="1107.26" width="3.51" height="27.31" fill="#0a1440"/>
<rect x="1402.38" y="1107.26" width="3.51" height="27.31" fill="#1c3b6d"/>
<rect x="1405.89" y="1107.26" width="3.51" height="27.31" fill="#204478"/>
<rect x="1409.39" y="1107.26" width="3.51" height="27.31" fill="#0b1541"/>
<rect x="1412.9" y="1107.26" width="3.51" height="27.31" fill="#0e1d4b"/>
<rect x="1416.41" y="1107.26" width="3.51" height="27.31" fill="#1f4073"/>
<rect x="1419.91" y="1107.26" width="3.51" height="27.31" fill="#162e5e"/>
<rect x="1430.44" y="1107.26" width="3.51" height="27.31" fill="#060b36"/>
<rect x="1440.96" y="1107.26" width="3.51" height="27.31" fill="#0a133f"/>
<rect x="1444.46" y="1107.26" width="3.51" height="27.31" fill="#060a35"/>
<rect x="1447.97" y="1107.26" width="3.51" height="27.31" fill="#0b1643"/>
<rect x="1451.48" y="1107.26" width="3.51" height="27.31" fill="#09113d"/>
<rect x="1454.99" y="1107.26" width="3.51" height="27.31" fill="#09123e"/>
<rect x="1458.49" y="1107.26" width="3.51" height="27.31" fill="#10204d"/>
<rect x="1462" y="1107.26" width="3.51" height="27.31" fill="#142a59"/>
<rect x="1465.51" y="1107.26" width="3.51" height="27.31" fill="#172f5f"/>
<rect x="1469.01" y="1107.26" width="3.51" height="27.31" fill="#132755"/>
<rect x="1472.52" y="1107.26" width="3.51" height="27.31" fill="#183161"/>
<rect x="1483.04" y="1107.26" width="3.51" height="27.31" fill="#0b1541"/>
<rect x="1490.06" y="1107.26" width="3.51" height="27.31" fill="#10214f"/>
<rect x="1493.56" y="1107.26" width="3.51" height="27.31" fill="#0b1743"/>
<rect x="1497.07" y="1107.26" width="3.51" height="27.31" fill="#112250"/>
<rect x="1500.58" y="1107.26" width="3.51" height="27.31" fill="#060a35"/>
<rect x="1504.09" y="1107.26" width="3.51" height="27.31" fill="#060b36"/>
<rect x="1507.59" y="1107.26" width="3.51" height="27.31" fill="#0f1e4c"/>
<rect x="1518.11" y="1107.26" width="3.51" height="27.31" fill="#1a3768"/>
<rect x="1525.13" y="1107.26" width="3.51" height="27.31" fill="#09113d"/>
<rect x="1528.64" y="1107.26" width="3.51" height="27.31" fill="#060c37"/>
<rect x="1532.14" y="1107.26" width="3.51" height="27.31" fill="#0c1845"/>
<rect x="1535.65" y="1107.26" width="3.51" height="27.31" fill="#0c1744"/>
<rect x="1542.66" y="1107.26" width="3.51" height="27.31" fill="#162d5c"/>
<rect x="1546.17" y="1107.26" width="7.01" height="27.31" fill="#0e1c49"/>
<rect x="1553.19" y="1107.26" width="3.51" height="27.31" fill="#162d5c"/>
<rect x="1556.69" y="1107.26" width="3.51" height="27.31" fill="#070d39"/>
<rect x="1560.2" y="1107.26" width="3.51" height="27.31" fill="#050833"/>
<rect x="1567.21" y="1107.26" width="3.51" height="27.31" fill="#09113d"/>
<rect x="1570.72" y="1107.26" width="3.51" height="27.31" fill="#0e1c49"/>
<rect x="1574.23" y="1107.26" width="3.51" height="27.31" fill="#2c5d95"/>
<rect x="1577.74" y="1107.26" width="3.51" height="27.31" fill="#0c1946"/>
<rect x="1581.24" y="1107.26" width="3.51" height="27.31" fill="#1c3c6e"/>
<rect x="1584.75" y="1107.26" width="3.51" height="27.31" fill="#1a3768"/>
<rect x="1588.26" y="1107.26" width="3.51" height="27.31" fill="#050833"/>
<rect x="1591.76" y="1107.26" width="3.51" height="27.31" fill="#030530"/>
<rect x="1595.27" y="1107.26" width="3.51" height="27.31" fill="#0f1d4b"/>
<rect x="1598.78" y="1107.26" width="3.51" height="27.31" fill="#0a133f"/>
<rect x="1605.79" y="1107.26" width="3.51" height="27.31" fill="#070d39"/>
<rect x="1609.3" y="1107.26" width="3.51" height="27.31" fill="#2c5e96"/>
<rect x="1612.81" y="1107.26" width="3.51" height="27.31" fill="#29568d"/>
<rect x="1616.31" y="1107.26" width="3.51" height="27.31" fill="#0f1e4b"/>
<rect x="1623.33" y="1107.26" width="3.51" height="27.31" fill="#1d3d6f"/>
<rect x="1626.84" y="1107.26" width="3.51" height="27.31" fill="#040630"/>
<rect x="1630.34" y="1107.26" width="3.51" height="27.31" fill="#22497d"/>
<rect x="1633.85" y="1107.26" width="3.51" height="27.31" fill="#0d1b48"/>
<rect x="1637.36" y="1107.26" width="3.51" height="27.31" fill="#112250"/>
<rect x="1640.86" y="1107.26" width="3.51" height="27.31" fill="#204478"/>
<rect x="1647.88" y="1107.26" width="3.51" height="27.31" fill="#09113d"/>
<rect x="1654.89" y="1107.26" width="3.51" height="27.31" fill="#234b80"/>
<rect x="1167.4" y="1134.57" width="3.51" height="27.31" fill="#080f3b"/>
<rect x="1170.91" y="1134.57" width="3.51" height="27.31" fill="#0e1d4b"/>
<rect x="1177.92" y="1134.57" width="3.51" height="27.31" fill="#204376"/>
<rect x="1184.94" y="1134.57" width="3.51" height="27.31" fill="#070c38"/>
<rect x="1188.44" y="1134.57" width="3.51" height="27.31" fill="#070d38"/>
<rect x="1195.46" y="1134.57" width="3.51" height="27.31" fill="#142958"/>
<rect x="1198.96" y="1134.57" width="3.51" height="27.31" fill="#1b3869"/>
<rect x="1241.05" y="1134.57" width="3.51" height="27.31" fill="#112250"/>
<rect x="1244.56" y="1134.57" width="3.51" height="27.31" fill="#152a59"/>
<rect x="1248.06" y="1134.57" width="3.51" height="27.31" fill="#0e1c49"/>
<rect x="1272.61" y="1134.57" width="3.51" height="27.31" fill="#070c38"/>
<rect x="1276.12" y="1134.57" width="3.51" height="27.31" fill="#09103c"/>
<rect x="1290.15" y="1134.57" width="3.51" height="27.31" fill="#080f3b"/>
<rect x="1293.66" y="1134.57" width="3.51" height="27.31" fill="#0b1542"/>
<rect x="1300.67" y="1134.57" width="3.51" height="27.31" fill="#0e1d4a"/>
<rect x="1304.18" y="1134.57" width="3.51" height="27.31" fill="#152c5c"/>
<rect x="1307.69" y="1134.57" width="3.51" height="27.31" fill="#0a133f"/>
<rect x="1311.19" y="1134.57" width="3.51" height="27.31" fill="#23497e"/>
<rect x="1314.7" y="1134.57" width="3.51" height="27.31" fill="#080f3a"/>
<rect x="1318.21" y="1134.57" width="3.51" height="27.31" fill="#0c1945"/>
<rect x="1321.71" y="1134.57" width="3.51" height="27.31" fill="#1f4173"/>
<rect x="1325.22" y="1134.57" width="3.51" height="27.31" fill="#21467a"/>
<rect x="1328.73" y="1134.57" width="3.51" height="27.31" fill="#10214f"/>
<rect x="1332.24" y="1134.57" width="3.51" height="27.31" fill="#28568d"/>
<rect x="1335.74" y="1134.57" width="3.51" height="27.31" fill="#1b396a"/>
<rect x="1339.25" y="1134.57" width="3.51" height="27.31" fill="#29568d"/>
<rect x="1342.76" y="1134.57" width="3.51" height="27.31" fill="#254f85"/>
<rect x="1346.26" y="1134.57" width="3.51" height="27.31" fill="#3571ad"/>
<rect x="1349.77" y="1134.57" width="3.51" height="27.31" fill="#0d1b48"/>
<rect x="1353.28" y="1134.57" width="3.51" height="27.31" fill="#03052f"/>
<rect x="1356.79" y="1134.57" width="3.51" height="27.31" fill="#0a1340"/>
<rect x="1360.29" y="1134.57" width="3.51" height="27.31" fill="#0d1b48"/>
<rect x="1363.8" y="1134.57" width="3.51" height="27.31" fill="#0f1e4b"/>
<rect x="1367.31" y="1134.57" width="3.51" height="27.31" fill="#0d1a47"/>
<rect x="1370.81" y="1134.57" width="3.51" height="27.31" fill="#132856"/>
<rect x="1374.32" y="1134.57" width="3.51" height="27.31" fill="#0f1f4d"/>
<rect x="1388.35" y="1134.57" width="3.51" height="27.31" fill="#070c37"/>
<rect x="1391.86" y="1134.57" width="3.51" height="27.31" fill="#183262"/>
<rect x="1398.87" y="1134.57" width="3.51" height="27.31" fill="#152b5a"/>
<rect x="1405.89" y="1134.57" width="3.51" height="27.31" fill="#244c81"/>
<rect x="1419.91" y="1134.57" width="3.51" height="27.31" fill="#112250"/>
<rect x="1423.42" y="1134.57" width="3.51" height="27.31" fill="#4087c4"/>
<rect x="1426.93" y="1134.57" width="3.51" height="27.31" fill="#142a59"/>
<rect x="1430.44" y="1134.57" width="3.51" height="27.31" fill="#2c5e96"/>
<rect x="1433.94" y="1134.57" width="3.51" height="27.31" fill="#346faa"/>
<rect x="1437.45" y="1134.57" width="3.51" height="27.31" fill="#244d82"/>
<rect x="1440.96" y="1134.57" width="3.51" height="27.31" fill="#336ca7"/>
<rect x="1444.46" y="1134.57" width="3.51" height="27.31" fill="#21467a"/>
<rect x="1447.97" y="1134.57" width="3.51" height="27.31" fill="#2d5f98"/>
<rect x="1451.48" y="1134.57" width="3.51" height="27.31" fill="#2d5f98"/>
<rect x="1454.99" y="1134.57" width="3.51" height="27.31" fill="#265086"/>
<rect x="1458.49" y="1134.57" width="3.51" height="27.31" fill="#152c5b"/>
<rect x="1462" y="1134.57" width="3.51" height="27.31" fill="#28548a"/>
<rect x="1465.51" y="1134.57" width="3.51" height="27.31" fill="#0b1642"/>
<rect x="1469.01" y="1134.57" width="3.51" height="27.31" fill="#1d3c6e"/>
<rect x="1472.52" y="1134.57" width="3.51" height="27.31" fill="#0e1c4a"/>
<rect x="1476.03" y="1134.57" width="3.51" height="27.31" fill="#070e39"/>
<rect x="1479.54" y="1134.57" width="3.51" height="27.31" fill="#244d82"/>
<rect x="1483.04" y="1134.57" width="3.51" height="27.31" fill="#1a3768"/>
<rect x="1486.55" y="1134.57" width="3.51" height="27.31" fill="#0f1f4c"/>
<rect x="1490.06" y="1134.57" width="3.51" height="27.31" fill="#29578e"/>
<rect x="1493.56" y="1134.57" width="3.51" height="27.31" fill="#0b1542"/>
<rect x="1497.07" y="1134.57" width="3.51" height="27.31" fill="#254e84"/>
<rect x="1500.58" y="1134.57" width="3.51" height="27.31" fill="#428bc7"/>
<rect x="1507.59" y="1134.57" width="3.51" height="27.31" fill="#2d6099"/>
<rect x="1511.1" y="1134.57" width="3.51" height="27.31" fill="#0b1542"/>
<rect x="1514.61" y="1134.57" width="3.51" height="27.31" fill="#0a1441"/>
<rect x="1518.11" y="1134.57" width="3.51" height="27.31" fill="#070c37"/>
<rect x="1521.62" y="1134.57" width="3.51" height="27.31" fill="#2e629b"/>
<rect x="1525.13" y="1134.57" width="3.51" height="27.31" fill="#132655"/>
<rect x="1528.64" y="1134.57" width="3.51" height="27.31" fill="#3775b2"/>
<rect x="1532.14" y="1134.57" width="3.51" height="27.31" fill="#428dc8"/>
<rect x="1535.65" y="1134.57" width="3.51" height="27.31" fill="#193566"/>
<rect x="1539.16" y="1134.57" width="3.51" height="27.31" fill="#070d38"/>
<rect x="1542.66" y="1134.57" width="3.51" height="27.31" fill="#1d3d6f"/>
<rect x="1546.17" y="1134.57" width="3.51" height="27.31" fill="#3b7ebc"/>
<rect x="1549.68" y="1134.57" width="3.51" height="27.31" fill="#2a5a91"/>
<rect x="1553.19" y="1134.57" width="3.51" height="27.31" fill="#3571ad"/>
<rect x="1556.69" y="1134.57" width="3.51" height="27.31" fill="#346fab"/>
<rect x="1560.2" y="1134.57" width="3.51" height="27.31" fill="#152c5b"/>
<rect x="1567.21" y="1134.57" width="3.51" height="27.31" fill="#070d39"/>
<rect x="1570.72" y="1134.57" width="3.51" height="27.31" fill="#21467a"/>
<rect x="1574.23" y="1134.57" width="3.51" height="27.31" fill="#09113d"/>
<rect x="1577.74" y="1134.57" width="3.51" height="27.31" fill="#0a1441"/>
<rect x="1581.24" y="1134.57" width="3.51" height="27.31" fill="#0e1d4b"/>
<rect x="1584.75" y="1134.57" width="3.51" height="27.31" fill="#142958"/>
<rect x="1588.26" y="1134.57" width="3.51" height="27.31" fill="#0d1a47"/>
<rect x="1591.76" y="1134.57" width="3.51" height="27.31" fill="#03052f"/>
<rect x="1595.27" y="1134.57" width="3.51" height="27.31" fill="#1e4073"/>
<rect x="1598.78" y="1134.57" width="3.51" height="27.31" fill="#2a5990"/>
<rect x="1605.79" y="1134.57" width="3.51" height="27.31" fill="#4694cf"/>
<rect x="1609.3" y="1134.57" width="3.51" height="27.31" fill="#0d1b48"/>
<rect x="1612.81" y="1134.57" width="3.51" height="27.31" fill="#244c81"/>
<rect x="1616.31" y="1134.57" width="3.51" height="27.31" fill="#08103c"/>
<rect x="1619.82" y="1134.57" width="3.51" height="27.31" fill="#2f649e"/>
<rect x="1623.33" y="1134.57" width="3.51" height="27.31" fill="#254d83"/>
<rect x="1626.84" y="1134.57" width="3.51" height="27.31" fill="#3c81be"/>
<rect x="1630.34" y="1134.57" width="3.51" height="27.31" fill="#3673b0"/>
<rect x="1633.85" y="1134.57" width="3.51" height="27.31" fill="#060b36"/>
<rect x="1637.36" y="1134.57" width="3.51" height="27.31" fill="#132655"/>
<rect x="1640.86" y="1134.57" width="3.51" height="27.31" fill="#193565"/>
<rect x="1644.37" y="1134.57" width="3.51" height="27.31" fill="#0d1946"/>
<rect x="1647.88" y="1134.57" width="3.51" height="27.31" fill="#080f3b"/>
<rect x="1651.39" y="1134.57" width="3.51" height="27.31" fill="#183262"/>
<rect x="1654.89" y="1134.57" width="3.51" height="27.31" fill="#0d1b48"/>
<rect x="1167.4" y="1161.89" width="3.51" height="27.31" fill="#0c1845"/>
<rect x="1170.91" y="1161.89" width="3.51" height="27.31" fill="#10204e"/>
<rect x="1174.41" y="1161.89" width="3.51" height="27.31" fill="#204376"/>
<rect x="1177.92" y="1161.89" width="3.51" height="27.31" fill="#050934"/>
<rect x="1181.43" y="1161.89" width="3.51" height="27.31" fill="#2b5b93"/>
<rect x="1188.44" y="1161.89" width="3.51" height="27.31" fill="#0b1643"/>
<rect x="1191.95" y="1161.89" width="3.51" height="27.31" fill="#204477"/>
<rect x="1195.46" y="1161.89" width="3.51" height="27.31" fill="#264f85"/>
<rect x="1205.98" y="1161.89" width="3.51" height="27.31" fill="#1c3b6d"/>
<rect x="1209.49" y="1161.89" width="3.51" height="27.31" fill="#09123e"/>
<rect x="1212.99" y="1161.89" width="3.51" height="27.31" fill="#3067a1"/>
<rect x="1216.5" y="1161.89" width="3.51" height="27.31" fill="#132856"/>
<rect x="1223.51" y="1161.89" width="3.51" height="27.31" fill="#183161"/>
<rect x="1227.02" y="1161.89" width="3.51" height="27.31" fill="#10204e"/>
<rect x="1230.53" y="1161.89" width="3.51" height="27.31" fill="#1f4174"/>
<rect x="1234.04" y="1161.89" width="3.51" height="27.31" fill="#0d1a47"/>
<rect x="1241.05" y="1161.89" width="3.51" height="27.31" fill="#080f3b"/>
<rect x="1244.56" y="1161.89" width="3.51" height="27.31" fill="#244b80"/>
<rect x="1248.06" y="1161.89" width="3.51" height="27.31" fill="#040631"/>
<rect x="1255.08" y="1161.89" width="3.51" height="27.31" fill="#030530"/>
<rect x="1258.59" y="1161.89" width="3.51" height="27.31" fill="#0e1d4b"/>
<rect x="1262.09" y="1161.89" width="3.51" height="27.31" fill="#03052f"/>
<rect x="1265.6" y="1161.89" width="3.51" height="27.31" fill="#060c37"/>
<rect x="1269.11" y="1161.89" width="3.51" height="27.31" fill="#10214e"/>
<rect x="1272.61" y="1161.89" width="3.51" height="27.31" fill="#0a133f"/>
<rect x="1276.12" y="1161.89" width="3.51" height="27.31" fill="#244c81"/>
<rect x="1279.63" y="1161.89" width="3.51" height="27.31" fill="#050a35"/>
<rect x="1290.15" y="1161.89" width="3.51" height="27.31" fill="#142a59"/>
<rect x="1293.66" y="1161.89" width="3.51" height="27.31" fill="#0c1845"/>
<rect x="1297.16" y="1161.89" width="3.51" height="27.31" fill="#2d5f98"/>
<rect x="1300.67" y="1161.89" width="3.51" height="27.31" fill="#040631"/>
<rect x="1304.18" y="1161.89" width="3.51" height="27.31" fill="#275289"/>
<rect x="1307.69" y="1161.89" width="3.51" height="27.31" fill="#0c1946"/>
<rect x="1311.19" y="1161.89" width="3.51" height="27.31" fill="#204477"/>
<rect x="1314.7" y="1161.89" width="3.51" height="27.31" fill="#132857"/>
<rect x="1318.21" y="1161.89" width="3.51" height="27.31" fill="#122654"/>
<rect x="1321.71" y="1161.89" width="3.51" height="27.31" fill="#132857"/>
<rect x="1325.22" y="1161.89" width="3.51" height="27.31" fill="#2e639c"/>
<rect x="1335.74" y="1161.89" width="3.51" height="27.31" fill="#080e3a"/>
<rect x="1339.25" y="1161.89" width="3.51" height="27.31" fill="#050833"/>
<rect x="1342.76" y="1161.89" width="3.51" height="27.31" fill="#0f1e4b"/>
<rect x="1346.26" y="1161.89" width="3.51" height="27.31" fill="#10214f"/>
<rect x="1363.8" y="1161.89" width="3.51" height="27.31" fill="#254f85"/>
<rect x="1367.31" y="1161.89" width="3.51" height="27.31" fill="#27548a"/>
<rect x="1370.81" y="1161.89" width="3.51" height="27.31" fill="#0f1e4c"/>
<rect x="1374.32" y="1161.89" width="3.51" height="27.31" fill="#3a7dbb"/>
<rect x="1377.83" y="1161.89" width="3.51" height="27.31" fill="#1f4275"/>
<rect x="1381.34" y="1161.89" width="3.51" height="27.31" fill="#0c1844"/>
<rect x="1384.84" y="1161.89" width="3.51" height="27.31" fill="#1e3f72"/>
<rect x="1388.35" y="1161.89" width="3.51" height="27.31" fill="#0e1c49"/>
<rect x="1391.86" y="1161.89" width="3.51" height="27.31" fill="#10204e"/>
<rect x="1398.87" y="1161.89" width="3.51" height="27.31" fill="#2d6099"/>
<rect x="1402.38" y="1161.89" width="3.51" height="27.31" fill="#3776b3"/>
<rect x="1405.89" y="1161.89" width="3.51" height="27.31" fill="#30659f"/>
<rect x="1409.39" y="1161.89" width="3.51" height="27.31" fill="#3b7dbb"/>
<rect x="1412.9" y="1161.89" width="3.51" height="27.31" fill="#102250"/>
<rect x="1416.41" y="1161.89" width="3.51" height="27.31" fill="#1b386a"/>
<rect x="1419.91" y="1161.89" width="3.51" height="27.31" fill="#080e3a"/>
<rect x="1423.42" y="1161.89" width="3.51" height="27.31" fill="#060b36"/>
<rect x="1426.93" y="1161.89" width="3.51" height="27.31" fill="#142a59"/>
<rect x="1430.44" y="1161.89" width="3.51" height="27.31" fill="#0f1f4d"/>
<rect x="1433.94" y="1161.89" width="3.51" height="27.31" fill="#1d3d6f"/>
<rect x="1437.45" y="1161.89" width="3.51" height="27.31" fill="#193566"/>
<rect x="1440.96" y="1161.89" width="3.51" height="27.31" fill="#10214f"/>
<rect x="1444.46" y="1161.89" width="3.51" height="27.31" fill="#234b80"/>
<rect x="1447.97" y="1161.89" width="3.51" height="27.31" fill="#162d5c"/>
<rect x="1451.48" y="1161.89" width="3.51" height="27.31" fill="#275389"/>
<rect x="1454.99" y="1161.89" width="3.51" height="27.31" fill="#050832"/>
<rect x="1458.49" y="1161.89" width="3.51" height="27.31" fill="#0d1a47"/>
<rect x="1462" y="1161.89" width="3.51" height="27.31" fill="#040631"/>
<rect x="1465.51" y="1161.89" width="3.51" height="27.31" fill="#122452"/>
<rect x="1469.01" y="1161.89" width="3.51" height="27.31" fill="#0f1d4b"/>
<rect x="1476.03" y="1161.89" width="3.51" height="27.31" fill="#0f1e4b"/>
<rect x="1479.54" y="1161.89" width="3.51" height="27.31" fill="#162e5d"/>
<rect x="1483.04" y="1161.89" width="3.51" height="27.31" fill="#10204d"/>
<rect x="1486.55" y="1161.89" width="3.51" height="27.31" fill="#070c37"/>
<rect x="1490.06" y="1161.89" width="3.51" height="27.31" fill="#22487c"/>
<rect x="1493.56" y="1161.89" width="3.51" height="27.31" fill="#244c81"/>
<rect x="1500.58" y="1161.89" width="3.51" height="27.31" fill="#193464"/>
<rect x="1504.09" y="1161.89" width="3.51" height="27.31" fill="#09113c"/>
<rect x="1511.1" y="1161.89" width="3.51" height="27.31" fill="#0b1541"/>
<rect x="1514.61" y="1161.89" width="3.51" height="27.31" fill="#0c1946"/>
<rect x="1518.11" y="1161.89" width="3.51" height="27.31" fill="#0b1541"/>
<rect x="1521.62" y="1161.89" width="3.51" height="27.31" fill="#0d1b48"/>
<rect x="1525.13" y="1161.89" width="3.51" height="27.31" fill="#060a35"/>
<rect x="1528.64" y="1161.89" width="3.51" height="27.31" fill="#1d3d6f"/>
<rect x="1532.14" y="1161.89" width="3.51" height="27.31" fill="#21467a"/>
<rect x="1542.66" y="1161.89" width="3.51" height="27.31" fill="#0f1d4b"/>
<rect x="1546.17" y="1161.89" width="3.51" height="27.31" fill="#050934"/>
<rect x="1549.68" y="1161.89" width="3.51" height="27.31" fill="#1d3d6f"/>
<rect x="1553.19" y="1161.89" width="3.51" height="27.31" fill="#22477b"/>
<rect x="1556.69" y="1161.89" width="3.51" height="27.31" fill="#050833"/>
<rect x="1560.2" y="1161.89" width="3.51" height="27.31" fill="#0f1f4d"/>
<rect x="1574.23" y="1161.89" width="3.51" height="27.31" fill="#142a59"/>
<rect x="1581.24" y="1161.89" width="3.51" height="27.31" fill="#183262"/>
<rect x="1584.75" y="1161.89" width="3.51" height="27.31" fill="#1a3667"/>
<rect x="1591.76" y="1161.89" width="3.51" height="27.31" fill="#0e1c49"/>
<rect x="1598.78" y="1161.89" width="3.51" height="27.31" fill="#244c81"/>
<rect x="1602.29" y="1161.89" width="3.51" height="27.31" fill="#070d39"/>
<rect x="1605.79" y="1161.89" width="3.51" height="27.31" fill="#1f4174"/>
<rect x="1609.3" y="1161.89" width="3.51" height="27.31" fill="#162e5e"/>
<rect x="1612.81" y="1161.89" width="3.51" height="27.31" fill="#060b36"/>
<rect x="1616.31" y="1161.89" width="3.51" height="27.31" fill="#0f1f4c"/>
<rect x="1619.82" y="1161.89" width="3.51" height="27.31" fill="#2d5f98"/>
<rect x="1623.33" y="1161.89" width="3.51" height="27.31" fill="#0d1946"/>
<rect x="1626.84" y="1161.89" width="3.51" height="27.31" fill="#0b1643"/>
<rect x="1630.34" y="1161.89" width="3.51" height="27.31" fill="#142a59"/>
<rect x="1633.85" y="1161.89" width="3.51" height="27.31" fill="#0f1e4b"/>
<rect x="1637.36" y="1161.89" width="3.51" height="27.31" fill="#1f4073"/>
<rect x="1640.86" y="1161.89" width="3.51" height="27.31" fill="#122554"/>
<rect x="1644.37" y="1161.89" width="3.51" height="27.31" fill="#050934"/>
<rect x="1651.39" y="1161.89" width="3.51" height="27.31" fill="#214679"/>
</g>
<line x1="1166.6" y1="611" x2="1166.6" y2="1189.5" stroke="#000" stroke-width="1.5"/>
<line x1="1159.3" y1="629.26" x2="1166.6" y2="629.26" stroke="#000" stroke-width="1.5"/>
<text x="1153.6" y="637.56" font-size="23" text-anchor="end">Streptococcus</text>
<line x1="1159.3" y1="656.57" x2="1166.6" y2="656.57" stroke="#000" stroke-width="1.5"/>
<text x="1153.6" y="664.87" font-size="23" text-anchor="end">Streptococcus</text>
<line x1="1159.3" y1="683.89" x2="1166.6" y2="683.89" stroke="#000" stroke-width="1.5"/>
<text x="1153.6" y="692.19" font-size="23" text-anchor="end">Peptostreptococcaceae</text>
<line x1="1159.3" y1="711.2" x2="1166.6" y2="711.2" stroke="#000" stroke-width="1.5"/>
<text x="1153.6" y="719.5" font-size="23" text-anchor="end">Peptostreptococcaceae</text>
<line x1="1159.3" y1="738.51" x2="1166.6" y2="738.51" stroke="#000" stroke-width="1.5"/>
<text x="1153.6" y="746.81" font-size="23" text-anchor="end">Staphylococcus</text>
<line x1="1159.3" y1="765.83" x2="1166.6" y2="765.83" stroke="#000" stroke-width="1.5"/>
<text x="1153.6" y="774.13" font-size="23" text-anchor="end">Clostridiaceae</text>
<line x1="1159.3" y1="793.14" x2="1166.6" y2="793.14" stroke="#000" stroke-width="1.5"/>
<text x="1153.6" y="801.44" font-size="23" text-anchor="end">Veillonella</text>
<line x1="1159.3" y1="820.46" x2="1166.6" y2="820.46" stroke="#000" stroke-width="1.5"/>
<text x="1153.6" y="828.76" font-size="23" text-anchor="end">Veillonella</text>
<line x1="1159.3" y1="847.77" x2="1166.6" y2="847.77" stroke="#000" stroke-width="1.5"/>
<text x="1153.6" y="856.07" font-size="23" text-anchor="end">Veillonella</text>
<line x1="1159.3" y1="875.09" x2="1166.6" y2="875.09" stroke="#000" stroke-width="1.5"/>
<text x="1153.6" y="883.39" font-size="23" text-anchor="end">Enterococcus</text>
<line x1="1159.3" y1="902.4" x2="1166.6" y2="902.4" stroke="#000" stroke-width="1.5"/>
<text x="1153.6" y="910.7" font-size="23" text-anchor="end">Rahnella</text>
<line x1="1159.3" y1="929.71" x2="1166.6" y2="929.71" stroke="#000" stroke-width="1.5"/>
<text x="1153.6" y="938.01" font-size="23" text-anchor="end">Staphylococcus</text>
<line x1="1159.3" y1="957.03" x2="1166.6" y2="957.03" stroke="#000" stroke-width="1.5"/>
<text x="1153.6" y="965.33" font-size="23" text-anchor="end">Staphylococcus</text>
<line x1="1159.3" y1="984.34" x2="1166.6" y2="984.34" stroke="#000" stroke-width="1.5"/>
<text x="1153.6" y="992.64" font-size="23" text-anchor="end">Enterococcus</text>
<line x1="1159.3" y1="1011.66" x2="1166.6" y2="1011.66" stroke="#000" stroke-width="1.5"/>
<text x="1153.6" y="1019.96" font-size="23" text-anchor="end">Bifidobacterium</text>
<line x1="1159.3" y1="1038.97" x2="1166.6" y2="1038.97" stroke="#000" stroke-width="1.5"/>
<text x="1153.6" y="1047.27" font-size="23" text-anchor="end">Veillonella</text>
<line x1="1159.3" y1="1066.29" x2="1166.6" y2="1066.29" stroke="#000" stroke-width="1.5"/>
<text x="1153.6" y="1074.59" font-size="23" text-anchor="end">Lactobacillales</text>
<line x1="1159.3" y1="1093.6" x2="1166.6" y2="1093.6" stroke="#000" stroke-width="1.5"/>
<text x="1153.6" y="1101.9" font-size="23" text-anchor="end">Peptostreptococcaceae</text>
<line x1="1159.3" y1="1120.91" x2="1166.6" y2="1120.91" stroke="#000" stroke-width="1.5"/>
<text x="1153.6" y="1129.21" font-size="23" text-anchor="end">Peptostreptococcaceae</text>
<line x1="1159.3" y1="1148.23" x2="1166.6" y2="1148.23" stroke="#000" stroke-width="1.5"/>
<text x="1153.6" y="1156.53" font-size="23" text-anchor="end">Veillonella</text>
<line x1="1159.3" y1="1175.54" x2="1166.6" y2="1175.54" stroke="#000" stroke-width="1.5"/>
<text x="1153.6" y="1183.84" font-size="23" text-anchor="end">Erwinia</text>
<text x="1303.6" y="1226.5" font-size="27">Postmenstrual age</text>
<text x="1685.23" y="679" font-size="27">Abundance</text>
<defs><linearGradient id="cbar" x1="0" y1="1" x2="0" y2="0"><stop offset="0" stop-color="#02022c"/><stop offset="0.33" stop-color="#183262"/><stop offset="0.67" stop-color="#3a7cba"/><stop offset="1" stop-color="#60c8fc"/></linearGradient></defs>
<rect x="1689.2" y="704.5" width="21.9" height="148.3" fill="url(#cbar)"/>
<line x1="1689.2" y1="708.3" x2="1694" y2="708.3" stroke="#fff" stroke-width="1.2"/>
<line x1="1706.3" y1="708.3" x2="1711.1" y2="708.3" stroke="#fff" stroke-width="1.2"/>
<line x1="1689.2" y1="754.8" x2="1694" y2="754.8" stroke="#fff" stroke-width="1.2"/>
<line x1="1706.3" y1="754.8" x2="1711.1" y2="754.8" stroke="#fff" stroke-width="1.2"/>
<line x1="1689.2" y1="802.8" x2="1694" y2="802.8" stroke="#fff" stroke-width="1.2"/>
<line x1="1706.3" y1="802.8" x2="1711.1" y2="802.8" stroke="#fff" stroke-width="1.2"/>
<line x1="1689.2" y1="849.2" x2="1694" y2="849.2" stroke="#fff" stroke-width="1.2"/>
<line x1="1706.3" y1="849.2" x2="1711.1" y2="849.2" stroke="#fff" stroke-width="1.2"/>
<text x="1719.44" y="718.5" font-size="24">4095</text>
<text x="1720.31" y="846" font-size="24">1</text>
<line x1="1724.5" y1="736" x2="1724.5" y2="802" stroke="#000" stroke-width="2.4"/>
<polygon points="1724.5,725.3 1731.8,739.5 1717.2,739.5" fill="#000"/>
<polygon points="1724.5,813.3 1731.8,799 1717.2,799" fill="#000"/>
<rect x="104.4" y="1262.5" width="472.5" height="582.6" fill="none" stroke="#6a6a6a" stroke-width="1.3"/>
<line x1="98.4" y1="1378" x2="104.4" y2="1378" stroke="#6a6a6a" stroke-width="1.3"/>
<line x1="98.4" y1="1536.6" x2="104.4" y2="1536.6" stroke="#6a6a6a" stroke-width="1.3"/>
<line x1="98.4" y1="1694.7" x2="104.4" y2="1694.7" stroke="#6a6a6a" stroke-width="1.3"/>
<text x="83.5" y="1387.42" font-size="27" transform="rotate(-90 83.5 1387.42)">4</text>
<text x="83.5" y="1549.33" font-size="27" transform="rotate(-90 83.5 1549.33)">0</text>
<text x="83.5" y="1716.62" font-size="27" transform="rotate(-90 83.5 1716.62)">-4</text>
<line x1="172.4" y1="1845.1" x2="172.4" y2="1848.5" stroke="#6a6a6a" stroke-width="1.3"/>
<line x1="284.9" y1="1845.1" x2="284.9" y2="1848.5" stroke="#6a6a6a" stroke-width="1.3"/>
<line x1="397.1" y1="1845.1" x2="397.1" y2="1848.5" stroke="#6a6a6a" stroke-width="1.3"/>
<line x1="509.3" y1="1845.1" x2="509.3" y2="1848.5" stroke="#6a6a6a" stroke-width="1.3"/>
<text x="152.21" y="1881.5" font-size="26.5">AG</text>
<text x="244.92" y="1881.5" font-size="26.5">Val-AG</text>
<text x="377.08" y="1881.5" font-size="26.5">GF</text>
<text x="451.74" y="1881.5" font-size="26.5">GF-No NEC/</text>
<text x="476.86" y="1914.5" font-size="26.5">LOS/SIP</text>
<text x="35" y="1740.24" font-size="27" transform="rotate(-90 35 1740.24)">Relative microbiota maturity</text>
<line x1="172.3" y1="1393.2" x2="172.3" y2="1494.4" stroke="#333" stroke-width="1.2"/>
<line x1="172.3" y1="1579.7" x2="172.3" y2="1666.4" stroke="#333" stroke-width="1.2"/>
<rect x="129.2" y="1494.4" width="84.5" height="85.3" fill="#80C0EE" stroke="#333" stroke-width="1.4"/>
<line x1="129.2" y1="1533.7" x2="213.7" y2="1533.7" stroke="#333" stroke-width="2.6"/>
<circle cx="172.3" cy="1772.6" r="3.8" fill="#333"/>
<line x1="284.5" y1="1427.6" x2="284.5" y2="1498.7" stroke="#333" stroke-width="1.2"/>
<line x1="284.5" y1="1587.9" x2="284.5" y2="1645.9" stroke="#333" stroke-width="1.2"/>
<rect x="241.3" y="1498.7" width="84.6" height="89.2" fill="#80C0EE" stroke="#333" stroke-width="1.4"/>
<line x1="241.3" y1="1543.3" x2="325.9" y2="1543.3" stroke="#333" stroke-width="2.6"/>
<line x1="397" y1="1418" x2="397" y2="1558.1" stroke="#333" stroke-width="1.2"/>
<line x1="397" y1="1656.9" x2="397" y2="1789.6" stroke="#333" stroke-width="1.2"/>
<rect x="353.9" y="1558.1" width="84.9" height="98.8" fill="#048A04" stroke="#333" stroke-width="1.4"/>
<line x1="353.9" y1="1605.2" x2="438.8" y2="1605.2" stroke="#333" stroke-width="2.6"/>
<circle cx="397" cy="1368.1" r="3.8" fill="#333"/>
<circle cx="397" cy="1807.3" r="3.8" fill="#333"/>
<circle cx="397" cy="1818.6" r="3.8" fill="#333"/>
<line x1="509.6" y1="1434.6" x2="509.6" y2="1556.7" stroke="#333" stroke-width="1.2"/>
<line x1="509.6" y1="1639.2" x2="509.6" y2="1749.6" stroke="#333" stroke-width="1.2"/>
<rect x="467.1" y="1556.7" width="83.9" height="82.5" fill="#048A04" stroke="#333" stroke-width="1.4"/>
<line x1="467.1" y1="1586.5" x2="551" y2="1586.5" stroke="#333" stroke-width="2.6"/>
<circle cx="509.6" cy="1368.1" r="3.8" fill="#333"/>
<circle cx="509.6" cy="1418" r="3.8" fill="#333"/>
<circle cx="509.6" cy="1430.4" r="3.8" fill="#333"/>
<circle cx="509.6" cy="1772.6" r="3.8" fill="#333"/>
<circle cx="509.6" cy="1790.3" r="3.8" fill="#333"/>
<polyline points="172.3,1290.3 172.3,1287.8 509.6,1287.8 509.6,1290.3" fill="none" stroke="#111" stroke-width="2" stroke-linejoin="round"/>
<polyline points="172.3,1314.8 172.3,1312.3 397,1312.3 397,1314.8" fill="none" stroke="#111" stroke-width="2" stroke-linejoin="round"/>
<polyline points="284.5,1337.6 284.5,1335.1 509.6,1335.1 509.6,1337.6" fill="none" stroke="#111" stroke-width="2" stroke-linejoin="round"/>
<polyline points="284.5,1362.5 284.5,1360 397,1360 397,1362.5" fill="none" stroke="#111" stroke-width="2" stroke-linejoin="round"/>
<text x="332.2" y="1282.91" font-size="20.5">**</text>
<text x="276.5" y="1306.91" font-size="20.5">**</text>
<text x="388.81" y="1329.91" font-size="20.5">**</text>
<text x="332.2" y="1354.21" font-size="20.5">**</text>
<rect x="718.2" y="1292.5" width="575.5" height="548.8" fill="none" stroke="#404040" stroke-width="1.3"/>
<line x1="711.7" y1="1306.3" x2="718.2" y2="1306.3" stroke="#555" stroke-width="1.3"/>
<line x1="711.7" y1="1480.8" x2="718.2" y2="1480.8" stroke="#555" stroke-width="1.3"/>
<line x1="711.7" y1="1654.4" x2="718.2" y2="1654.4" stroke="#555" stroke-width="1.3"/>
<line x1="711.7" y1="1827.6" x2="718.2" y2="1827.6" stroke="#555" stroke-width="1.3"/>
<text x="695" y="1316.22" font-size="27" transform="rotate(-90 695 1316.22)">4</text>
<text x="695" y="1491.13" font-size="27" transform="rotate(-90 695 1491.13)">0</text>
<text x="695" y="1670.62" font-size="27" transform="rotate(-90 695 1670.62)">-4</text>
<text x="695" y="1845.22" font-size="27" transform="rotate(-90 695 1845.22)">-8</text>
<line x1="772.7" y1="1841.3" x2="772.7" y2="1845" stroke="#555" stroke-width="1.3"/>
<line x1="866.2" y1="1841.3" x2="866.2" y2="1845" stroke="#555" stroke-width="1.3"/>
<line x1="960.2" y1="1841.3" x2="960.2" y2="1845" stroke="#555" stroke-width="1.3"/>
<line x1="1052" y1="1841.3" x2="1052" y2="1845" stroke="#555" stroke-width="1.3"/>
<line x1="1145.4" y1="1841.3" x2="1145.4" y2="1845" stroke="#555" stroke-width="1.3"/>
<line x1="1237.6" y1="1841.3" x2="1237.6" y2="1845" stroke="#555" stroke-width="1.3"/>
<text x="749.51" y="1881.3" font-size="26.5">AG</text>
<text x="815.82" y="1883.5" font-size="26.5">Val-AG</text>
<text x="934.44" y="1881.3" font-size="27.2">GF-postmenstrual age (weeks):</text>
<text x="944.88" y="1917.5" font-size="26.5">&lt;30</text>
<text x="1020.68" y="1917.5" font-size="26.5">30-33</text>
<text x="1119.08" y="1917.5" font-size="26.5">34-37</text>
<text x="1217.34" y="1917.5" font-size="26.5">&gt;38</text>
<text x="651.7" y="1742.83" font-size="27" transform="rotate(-90 651.7 1742.83)">Microbiota-for-age Z score</text>
<line x1="772.6" y1="1376.8" x2="772.6" y2="1446.5" stroke="#333" stroke-width="1.2"/>
<line x1="772.6" y1="1508.5" x2="772.6" y2="1577.8" stroke="#333" stroke-width="1.2"/>
<rect x="739.1" y="1446.5" width="68.9" height="62" fill="#80C0EE" stroke="#333" stroke-width="1.4"/>
<line x1="739.1" y1="1480" x2="808" y2="1480" stroke="#333" stroke-width="2.6"/>
<circle cx="772.6" cy="1616.7" r="2.8" fill="#333"/>
<line x1="866.2" y1="1395.2" x2="866.2" y2="1454.2" stroke="#333" stroke-width="1.2"/>
<line x1="866.2" y1="1515.4" x2="866.2" y2="1551.3" stroke="#333" stroke-width="1.2"/>
<rect x="831.1" y="1454.2" width="70.1" height="61.2" fill="#80C0EE" stroke="#333" stroke-width="1.4"/>
<line x1="831.1" y1="1488.5" x2="901.2" y2="1488.5" stroke="#333" stroke-width="2.6"/>
<line x1="959.8" y1="1371" x2="959.8" y2="1441.5" stroke="#333" stroke-width="1.2"/>
<line x1="959.8" y1="1522.4" x2="959.8" y2="1567.4" stroke="#333" stroke-width="1.2"/>
<rect x="924.7" y="1441.5" width="68.6" height="80.9" fill="#048A04" stroke="#333" stroke-width="1.4"/>
<line x1="924.7" y1="1504.3" x2="993.3" y2="1504.3" stroke="#333" stroke-width="2.6"/>
<line x1="1051.9" y1="1427.6" x2="1051.9" y2="1486.5" stroke="#333" stroke-width="1.2"/>
<line x1="1051.9" y1="1532.8" x2="1051.9" y2="1552.4" stroke="#333" stroke-width="1.2"/>
<rect x="1017.2" y="1486.5" width="69.7" height="46.3" fill="#048A04" stroke="#333" stroke-width="1.4"/>
<line x1="1017.2" y1="1514.7" x2="1086.9" y2="1514.7" stroke="#333" stroke-width="2.6"/>
<line x1="1145.1" y1="1446.9" x2="1145.1" y2="1500.4" stroke="#333" stroke-width="1.2"/>
<line x1="1145.1" y1="1570.1" x2="1145.1" y2="1614" stroke="#333" stroke-width="1.2"/>
<rect x="1110.4" y="1500.4" width="69.7" height="69.7" fill="#048A04" stroke="#333" stroke-width="1.4"/>
<line x1="1110.4" y1="1530.8" x2="1180.1" y2="1530.8" stroke="#333" stroke-width="2.6"/>
<line x1="1237.5" y1="1438.4" x2="1237.5" y2="1514.3" stroke="#333" stroke-width="1.2"/>
<line x1="1237.5" y1="1685.3" x2="1237.5" y2="1816.7" stroke="#333" stroke-width="1.2"/>
<rect x="1202.9" y="1514.3" width="69.7" height="171" fill="#048A04" stroke="#333" stroke-width="1.4"/>
<line x1="1202.9" y1="1573.2" x2="1272.6" y2="1573.2" stroke="#333" stroke-width="2.6"/>
<polyline points="772.6,1320.4 772.6,1317.4 1237.5,1317.4 1237.5,1320.4" fill="none" stroke="#333" stroke-width="1.2" stroke-linejoin="round"/>
<polyline points="772.6,1343.7 772.6,1340.7 1145.1,1340.7 1145.1,1343.7" fill="none" stroke="#333" stroke-width="1.2" stroke-linejoin="round"/>
<polyline points="772.6,1367.7 772.6,1364.7 1051.9,1364.7 1051.9,1367.7" fill="none" stroke="#333" stroke-width="1.2" stroke-linejoin="round"/>
<text x="997.8" y="1312.17" font-size="17.7" fill="#222">**</text>
<text x="952.5" y="1336.27" font-size="17.7" fill="#222">**</text>
<text x="905.9" y="1359.17" font-size="17.7" fill="#222">**</text>
<rect x="1443.4" y="1294.6" width="450.1" height="526.8" fill="none" stroke="#333" stroke-width="1.5"/>
<line x1="1894.5" y1="1294" x2="1894.5" y2="1822" stroke="#7a7a7a" stroke-width="1"/>
<line x1="1435.4" y1="1305.5" x2="1443.4" y2="1305.5" stroke="#333" stroke-width="1.5"/>
<line x1="1435.4" y1="1406.3" x2="1443.4" y2="1406.3" stroke="#333" stroke-width="1.5"/>
<line x1="1435.4" y1="1508.2" x2="1443.4" y2="1508.2" stroke="#333" stroke-width="1.5"/>
<line x1="1435.4" y1="1608.7" x2="1443.4" y2="1608.7" stroke="#333" stroke-width="1.5"/>
<line x1="1435.4" y1="1710.5" x2="1443.4" y2="1710.5" stroke="#333" stroke-width="1.5"/>
<line x1="1435.4" y1="1811.1" x2="1443.4" y2="1811.1" stroke="#333" stroke-width="1.5"/>
<text x="1422.5" y="1314.89" font-size="27" transform="rotate(-90 1422.5 1314.89)">5</text>
<text x="1422.5" y="1427.8" font-size="27" transform="rotate(-90 1422.5 1427.8)">2.5</text>
<text x="1422.5" y="1516.33" font-size="27" transform="rotate(-90 1422.5 1516.33)">0</text>
<text x="1422.5" y="1642.12" font-size="27" transform="rotate(-90 1422.5 1642.12)">-2.5</text>
<text x="1422.5" y="1729.05" font-size="27" transform="rotate(-90 1422.5 1729.05)">-5</text>
<text x="1422.5" y="1846.02" font-size="27" transform="rotate(-90 1422.5 1846.02)">-7.5</text>
<line x1="1507.3" y1="1821.1" x2="1507.3" y2="1828.5" stroke="#333" stroke-width="1.5"/>
<text x="1484.28" y="1865" font-size="27">&lt;25</text>
<line x1="1615.3" y1="1821.1" x2="1615.3" y2="1828.5" stroke="#333" stroke-width="1.5"/>
<text x="1600.58" y="1865" font-size="27">25</text>
<line x1="1722" y1="1821.1" x2="1722" y2="1828.5" stroke="#333" stroke-width="1.5"/>
<text x="1708.81" y="1865" font-size="27">26</text>
<line x1="1828" y1="1821.1" x2="1828" y2="1828.5" stroke="#333" stroke-width="1.5"/>
<text x="1813.12" y="1865" font-size="27">27</text>
<text x="1494.87" y="1910.7" font-size="27">Birth Gestational Age (weeks)</text>
<text x="1372.5" y="1740.24" font-size="27" transform="rotate(-90 1372.5 1740.24)">Relative microbiota maturity</text>
<line x1="1487.8" y1="1449.8" x2="1487.8" y2="1490.5" stroke="#333" stroke-width="1.8"/>
<line x1="1487.8" y1="1559.5" x2="1487.8" y2="1638" stroke="#333" stroke-width="1.8"/>
<rect x="1470.5" y="1490.5" width="34.6" height="69" fill="#80C0EE" stroke="#333" stroke-width="2"/>
<line x1="1470.5" y1="1525.9" x2="1505.1" y2="1525.9" stroke="#333" stroke-width="3.2"/>
<line x1="1528.8" y1="1428.6" x2="1528.8" y2="1549.6" stroke="#333" stroke-width="1.8"/>
<line x1="1528.8" y1="1646.2" x2="1528.8" y2="1745.9" stroke="#333" stroke-width="1.8"/>
<rect x="1508.7" y="1549.6" width="37.1" height="96.6" fill="#048A04" stroke="#333" stroke-width="2"/>
<line x1="1508.7" y1="1589.2" x2="1545.8" y2="1589.2" stroke="#333" stroke-width="3.2"/>
<circle cx="1528.8" cy="1798.3" r="5.2" fill="#333"/>
<line x1="1594.6" y1="1433.9" x2="1594.6" y2="1461.1" stroke="#333" stroke-width="1.8"/>
<line x1="1594.6" y1="1510.7" x2="1594.6" y2="1572.6" stroke="#333" stroke-width="1.8"/>
<rect x="1576.6" y="1461.1" width="36.8" height="49.6" fill="#80C0EE" stroke="#333" stroke-width="2"/>
<line x1="1576.6" y1="1470.7" x2="1613.4" y2="1470.7" stroke="#333" stroke-width="3.2"/>
<circle cx="1594.6" cy="1595.6" r="5.2" fill="#333"/>
<line x1="1635" y1="1399.2" x2="1635" y2="1514.2" stroke="#333" stroke-width="1.8"/>
<line x1="1635" y1="1622.1" x2="1635" y2="1726.5" stroke="#333" stroke-width="1.8"/>
<rect x="1616.9" y="1514.2" width="35.4" height="107.9" fill="#048A04" stroke="#333" stroke-width="2"/>
<line x1="1616.9" y1="1541.8" x2="1652.3" y2="1541.8" stroke="#333" stroke-width="3.2"/>
<circle cx="1635" cy="1334.5" r="5.2" fill="#333"/>
<line x1="1702.5" y1="1392.8" x2="1702.5" y2="1439.9" stroke="#333" stroke-width="1.8"/>
<line x1="1702.5" y1="1551.3" x2="1702.5" y2="1641.6" stroke="#333" stroke-width="1.8"/>
<rect x="1683.1" y="1439.9" width="36.8" height="111.4" fill="#80C0EE" stroke="#333" stroke-width="2"/>
<line x1="1683.1" y1="1516" x2="1719.9" y2="1516" stroke="#333" stroke-width="3.2"/>
<circle cx="1702.5" cy="1751.2" r="5.2" fill="#333"/>
<line x1="1741.1" y1="1438.1" x2="1741.1" y2="1532.2" stroke="#333" stroke-width="1.8"/>
<line x1="1741.1" y1="1626.3" x2="1741.1" y2="1767.9" stroke="#333" stroke-width="1.8"/>
<rect x="1723.8" y="1532.2" width="36.8" height="94.1" fill="#048A04" stroke="#333" stroke-width="2"/>
<line x1="1723.8" y1="1585" x2="1760.6" y2="1585" stroke="#333" stroke-width="3.2"/>
<circle cx="1741.1" cy="1786.6" r="5.2" fill="#333"/>
<line x1="1809" y1="1361.4" x2="1809" y2="1457.2" stroke="#333" stroke-width="1.8"/>
<line x1="1809" y1="1541.8" x2="1809" y2="1638" stroke="#333" stroke-width="1.8"/>
<rect x="1791.3" y="1457.2" width="35.1" height="84.6" fill="#80C0EE" stroke="#333" stroke-width="2"/>
<line x1="1791.3" y1="1494" x2="1826.4" y2="1494" stroke="#333" stroke-width="3.2"/>
<line x1="1849.4" y1="1422.2" x2="1849.4" y2="1533.7" stroke="#333" stroke-width="1.8"/>
<line x1="1849.4" y1="1612.5" x2="1849.4" y2="1689.3" stroke="#333" stroke-width="1.8"/>
<rect x="1829.9" y="1533.7" width="37.2" height="78.8" fill="#048A04" stroke="#333" stroke-width="2"/>
<line x1="1829.9" y1="1553.8" x2="1867.1" y2="1553.8" stroke="#333" stroke-width="3.2"/>
<circle cx="1849.4" cy="1385" r="5.2" fill="#333"/>
<circle cx="1849.4" cy="1403.5" r="5.2" fill="#333"/>
<polyline points="1479.5,1320.4 1479.5,1318 1534.6,1318 1534.6,1320.4" fill="none" stroke="#111" stroke-width="2" stroke-linejoin="round"/>
<text x="1495.8" y="1323.05" font-size="28.2">**</text>
<polyline points="1587.9,1320.4 1587.9,1318 1640.6,1318 1640.6,1320.4" fill="none" stroke="#111" stroke-width="2" stroke-linejoin="round"/>
<text x="1604.2" y="1323.05" font-size="28.2">**</text>
<polyline points="1694.4,1320.4 1694.4,1318 1749.2,1318 1749.2,1320.4" fill="none" stroke="#111" stroke-width="2" stroke-linejoin="round"/>
<text x="1710.6" y="1323.05" font-size="28.2">**</text>
<polyline points="1803,1320.4 1803,1318 1855.4,1318 1855.4,1320.4" fill="none" stroke="#111" stroke-width="2" stroke-linejoin="round"/>
<text x="1817.1" y="1323.05" font-size="28.2">**</text>
</svg>
</body></html>
